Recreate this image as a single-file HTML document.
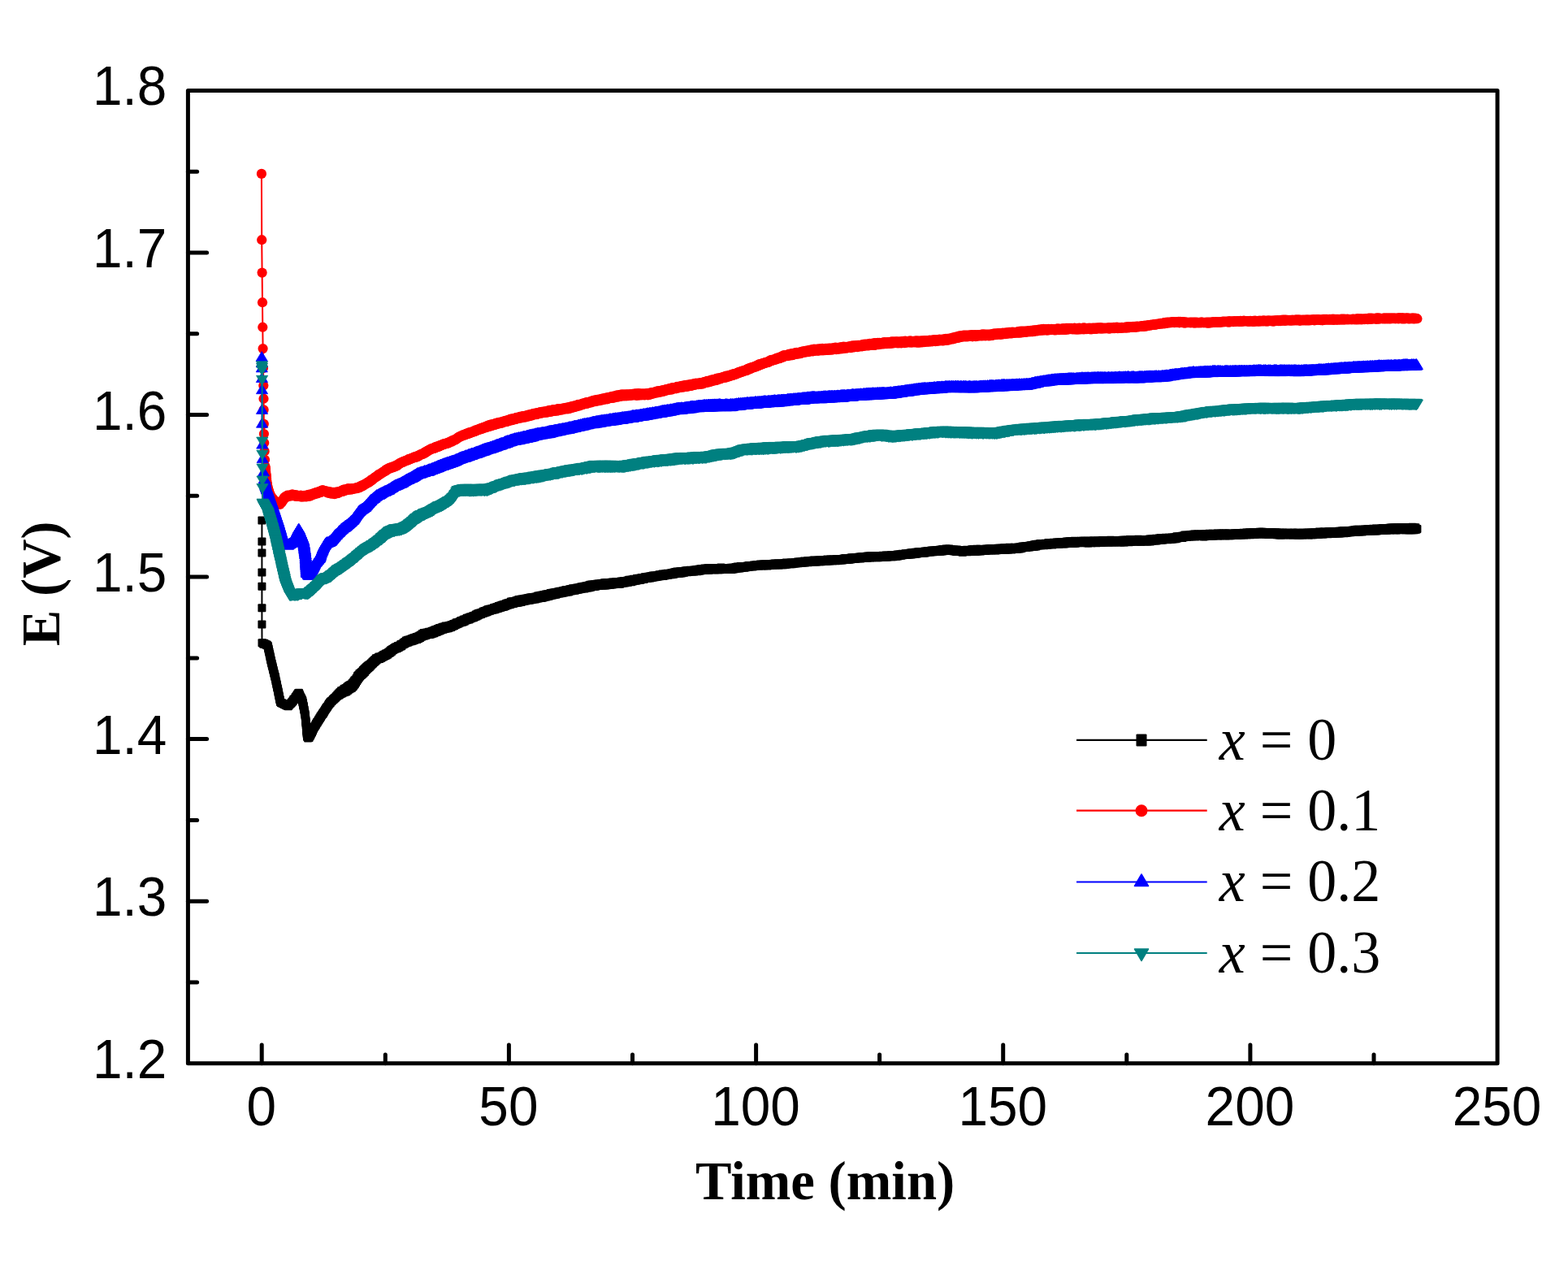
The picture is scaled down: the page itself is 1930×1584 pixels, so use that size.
<!DOCTYPE html>
<html lang="en">
<head>
<meta charset="utf-8">
<title>E (V) vs Time (min)</title>
<style>
html,body{margin:0;padding:0;background:#ffffff;}
body{width:1930px;height:1584px;overflow:hidden;}
svg{display:block;}
.tick{font-family:"Liberation Sans",Arial,Helvetica,sans-serif;font-size:66.7px;fill:#000;}
.title{font-family:"Liberation Serif","Times New Roman",Times,serif;font-weight:bold;font-size:66.7px;fill:#000;}
.leg{font-family:"Liberation Serif","Times New Roman",Times,serif;font-size:72px;fill:#000;}
.leg .it{font-style:italic;}
</style>
</head>
<body>
<svg width="1930" height="1584" viewBox="0 0 1930 1584">
<rect x="0" y="0" width="1930" height="1584" fill="#ffffff"/>
<defs>
<marker id="mS" markerUnits="userSpaceOnUse" markerWidth="12" markerHeight="12" refX="6" refY="6" orient="0" overflow="visible"><rect x="1" y="1" width="10" height="10" rx="1" fill="#000000"/></marker>
<marker id="mC" markerUnits="userSpaceOnUse" markerWidth="14" markerHeight="14" refX="7" refY="7" orient="0" overflow="visible"><circle cx="7" cy="7" r="6.1" fill="#ff0000"/></marker>
<marker id="mU" markerUnits="userSpaceOnUse" markerWidth="16" markerHeight="14" refX="8" refY="7" orient="0" overflow="visible"><path d="M8 1.1 L15.1 12.9 L0.9 12.9 Z" fill="#0000ff" stroke="#0000ff" stroke-width="0.8" stroke-linejoin="round"/></marker>
<marker id="mD" markerUnits="userSpaceOnUse" markerWidth="16" markerHeight="14" refX="8" refY="7" orient="0" overflow="visible"><path d="M8 12.9 L15.1 1.1 L0.9 1.1 Z" fill="#008080" stroke="#008080" stroke-width="0.8" stroke-linejoin="round"/></marker>
</defs>
<g fill="none" stroke-width="2" stroke-linejoin="round">
<polyline stroke="#000000" marker-start="url(#mS)" marker-mid="url(#mS)" marker-end="url(#mS)" points="322.4,640.4 322.4,666.5 322.4,680.5 322.4,704.6 322.4,721.8 322.4,748.2 322.4,768.4 322.5,791.2 323.4,791.4 324.3,792.7 325.2,791.8 326.1,793.1 326.9,792.8 327.8,794.1 328.7,793.5 329.6,794.9 329.8,795.3 330.0,796.8 330.2,797.0 330.4,798.5 330.6,799.0 330.8,800.8 331.0,801.1 331.2,802.3 331.4,802.4 331.7,804.8 331.9,804.7 332.1,806.1 332.3,806.5 332.5,808.5 332.7,808.4 332.9,810.6 333.1,810.2 333.3,812.2 333.5,812.3 333.7,814.3 334.0,814.1 334.2,816.3 334.5,816.3 334.7,818.2 335.0,818.6 335.2,819.9 335.5,820.1 335.7,822.1 336.0,822.6 336.2,824.3 336.5,824.6 336.7,825.9 337.0,826.7 337.2,828.2 337.5,828.7 337.7,830.2 338.0,830.6 338.2,832.4 338.5,832.2 338.7,833.8 338.9,834.3 339.1,835.8 339.3,835.9 339.5,838.2 339.8,838.4 340.0,840.0 340.2,839.9 340.4,841.9 340.6,842.2 340.8,843.8 341.0,844.0 341.2,845.9 341.4,846.1 341.7,847.7 341.9,848.1 342.1,850.0 342.3,850.1 342.5,852.2 342.7,851.8 342.9,853.7 343.1,854.4 343.3,855.8 343.5,856.0 343.7,858.1 343.9,857.7 344.1,859.9 344.3,860.2 344.5,861.6 344.7,861.7 344.9,863.7 345.1,864.0 346.0,865.2 346.9,865.1 347.8,866.0 348.7,865.9 349.6,866.9 350.6,866.7 351.5,867.9 352.4,868.1 353.3,868.8 354.2,868.8 354.9,869.2 355.7,867.6 356.4,867.6 357.2,866.2 357.9,866.0 358.7,864.4 359.4,864.5 360.0,863.2 360.6,862.9 361.2,860.9 361.8,861.2 362.4,859.9 363.0,859.8 363.6,858.1 364.2,857.8 364.8,856.5 365.4,856.3 366.0,854.5 366.6,855.0 367.2,853.1 367.8,852.8 368.2,853.4 368.6,855.2 369.0,855.3 369.4,857.1 369.8,857.2 370.3,858.7 370.7,858.9 371.1,860.7 371.5,860.5 371.9,862.5 372.3,862.2 372.5,864.3 372.7,864.7 372.9,866.0 373.1,866.4 373.3,868.2 373.5,868.4 373.7,870.1 373.9,870.0 374.0,872.2 374.2,872.1 374.4,873.8 374.6,874.0 374.8,876.2 375.0,876.4 375.2,877.7 375.4,878.5 375.6,880.0 375.7,880.5 375.8,882.2 375.9,882.1 376.0,884.3 376.1,884.5 376.2,886.1 376.3,886.2 376.4,888.1 376.5,888.5 376.6,889.7 376.7,890.4 376.8,892.5 376.9,892.7 376.9,894.6 377.0,894.8 377.1,896.7 377.2,896.9 377.3,899.0 377.4,898.8 377.5,900.4 377.6,901.2 377.7,902.9 377.8,903.2 377.9,904.9 378.0,905.3 378.1,906.6 378.2,906.9 379.1,908.6 380.1,908.0 380.5,908.0 381.0,906.2 381.4,906.3 381.8,905.2 382.3,904.7 382.7,902.9 383.1,902.8 383.6,901.7 384.0,901.2 384.4,899.6 384.9,899.6 385.3,897.8 385.7,897.2 386.2,895.8 386.6,895.6 387.1,894.2 387.6,893.9 388.2,892.2 388.7,892.5 389.2,890.6 389.7,890.5 390.2,888.7 390.8,889.0 391.3,887.4 391.8,886.9 392.3,885.6 392.8,885.7 393.4,883.8 393.9,884.0 394.4,882.0 394.9,882.4 395.4,880.8 395.9,880.6 396.4,879.2 396.9,879.3 397.4,877.6 397.8,878.2 398.3,876.6 398.8,876.5 399.3,874.9 399.8,874.6 400.3,873.3 400.8,873.1 401.4,871.3 402.0,871.5 402.5,870.0 403.1,869.7 403.7,868.4 404.3,867.8 404.8,866.2 405.4,866.5 406.0,864.6 406.6,865.3 407.3,863.2 407.9,863.4 408.6,862.4 409.2,862.2 409.9,860.8 410.6,861.0 411.2,859.6 411.9,859.7 412.6,858.6 413.3,858.6 413.9,856.9 414.6,857.3 415.3,855.3 416.0,856.1 416.8,853.6 417.6,855.6 418.4,852.0 419.2,854.2 420.0,850.2 420.9,853.5 421.8,849.5 422.7,852.5 423.6,847.8 424.6,851.7 425.5,846.9 426.4,851.3 427.3,845.6 428.1,849.8 428.9,844.2 429.7,848.6 430.5,843.3 431.3,847.5 432.1,842.5 432.9,846.7 433.7,840.8 434.5,845.3 435.1,839.3 435.7,843.4 436.3,837.5 436.9,842.0 437.5,836.4 438.1,840.0 438.8,834.4 439.4,838.0 440.0,832.1 440.6,836.1 441.2,830.8 441.8,834.2 442.5,829.0 443.2,832.5 444.0,827.9 444.7,830.9 445.4,826.7 446.1,829.7 446.8,824.9 447.6,828.4 448.3,823.5 449.0,826.9 449.7,822.3 450.5,825.0 451.2,820.8 451.9,823.6 452.6,819.5 453.4,822.3 454.1,818.4 454.8,821.1 455.6,817.5 456.3,819.6 457.0,816.2 457.8,817.7 458.5,814.4 459.2,816.6 460.0,813.3 460.7,815.0 461.4,812.0 462.1,813.8 462.9,810.3 463.6,812.4 464.5,809.8 465.4,811.3 466.3,808.6 467.2,811.1 468.1,808.4 469.0,810.1 469.9,807.5 470.8,809.0 471.6,806.3 472.4,808.1 473.2,805.5 474.0,807.3 474.9,804.4 475.7,806.6 476.5,803.9 477.3,805.4 478.1,802.7 478.9,803.9 479.7,801.4 480.5,803.2 481.3,800.0 482.2,801.7 483.0,799.1 483.8,800.3 484.6,798.0 485.4,799.3 486.3,796.8 487.2,798.4 488.1,796.1 489.0,798.0 489.9,795.1 490.8,797.1 491.7,794.4 492.6,795.8 493.4,793.0 494.2,795.2 495.0,792.4 495.8,793.6 496.7,791.0 497.5,792.7 498.3,790.0 499.1,791.7 499.9,788.6 500.8,790.9 501.7,787.8 502.6,790.5 503.5,787.4 504.4,789.6 505.3,786.7 506.2,789.3 507.1,785.9 508.0,788.7 508.9,785.2 509.8,788.1 510.8,784.7 511.7,787.2 512.6,783.9 513.5,787.0 514.4,783.5 515.3,785.9 516.2,782.5 517.1,784.9 518.0,781.4 519.0,783.7 519.9,780.0 520.8,782.8 521.7,779.1 522.7,782.4 523.8,778.7 524.8,781.8 525.8,778.6 526.8,781.1 527.9,777.8 528.9,780.9 529.8,777.8 530.7,780.5 531.6,776.8 532.5,779.8 533.5,776.3 534.4,779.2 535.3,775.2 536.2,778.3 537.1,774.7 538.0,777.7 538.9,774.0 539.9,776.7 540.8,772.9 541.7,776.3 542.6,772.7 543.5,775.3 544.5,771.7 545.6,774.8 546.6,771.4 547.6,773.9 548.6,770.6 549.7,773.5 550.7,770.7 551.6,773.2 552.6,769.9 553.5,772.6 554.4,769.4 555.4,771.9 556.3,768.9 557.2,770.7 558.1,768.0 559.1,770.3 560.0,767.5 560.9,769.0 561.8,766.2 562.7,768.2 563.6,765.9 564.5,767.5 565.4,765.2 566.3,766.5 567.2,764.1 568.1,765.9 569.1,763.4 570.0,765.6 570.9,762.6 571.8,764.8 572.8,762.2 573.7,763.4 574.6,760.8 575.5,762.8 576.4,760.5 577.4,762.4 578.3,759.6 579.2,761.4 580.1,759.2 581.1,760.6 582.0,758.2 582.9,760.2 583.8,757.7 584.7,759.2 585.7,756.4 586.6,758.4 587.5,755.5 588.4,757.6 589.4,754.8 590.3,756.5 591.2,754.5 592.1,756.0 593.0,753.8 594.0,755.0 594.9,752.6 595.8,754.6 596.7,752.0 597.7,753.8 598.6,751.2 599.5,753.2 600.4,750.3 601.4,752.3 602.3,749.7 603.3,751.8 604.2,749.4 605.2,751.1 606.1,748.9 607.1,750.5 608.0,747.9 609.0,750.2 609.9,747.4 610.9,749.5 611.8,747.0 612.8,749.1 613.7,745.9 614.7,748.2 615.6,745.4 616.6,747.7 617.5,744.7 618.5,746.9 619.4,744.2 620.4,746.7 621.3,743.8 622.3,745.9 623.2,742.8 624.2,744.9 625.1,742.2 626.1,744.5 627.0,741.7 628.0,743.9 628.9,740.6 629.9,743.2 630.8,740.3 631.8,742.9 632.7,739.9 633.7,742.3 634.6,739.5 635.6,742.0 636.6,738.7 637.6,741.7 638.5,737.9 639.5,741.3 640.5,737.7 641.5,740.9 642.4,737.6 643.4,740.3 644.4,737.2 645.4,739.7 646.3,736.8 647.3,739.6 648.3,736.4 649.2,739.1 650.2,736.0 651.2,738.8 652.2,735.4 653.1,738.4 654.1,735.3 655.1,737.9 656.1,735.1 657.0,737.6 658.0,734.8 659.0,737.4 660.0,734.5 660.9,736.8 661.9,733.6 662.9,736.4 663.9,733.2 664.8,736.1 665.8,732.8 666.8,735.9 667.8,732.6 668.7,735.4 669.7,731.9 670.7,734.7 671.7,731.4 672.6,734.6 673.6,731.2 674.6,734.0 675.6,731.0 676.5,733.6 677.5,730.1 678.5,732.8 679.5,729.8 680.4,732.5 681.4,729.5 682.4,732.1 683.4,728.9 684.4,731.8 685.3,728.7 686.3,730.7 687.3,728.2 688.3,730.5 689.2,727.7 690.2,730.3 691.2,727.7 692.2,729.8 693.1,727.0 694.1,729.5 695.1,726.5 696.1,729.1 697.0,726.0 698.0,728.5 699.0,726.0 700.0,728.4 701.0,725.2 701.9,727.5 702.9,725.1 703.9,727.2 704.9,724.2 705.8,726.7 706.8,724.2 707.8,726.8 708.8,723.7 709.7,726.1 710.7,723.6 711.7,725.7 712.7,723.2 713.6,725.3 714.6,722.6 715.6,724.7 716.6,721.9 717.6,724.3 718.5,721.7 719.5,724.4 720.5,721.5 721.5,723.5 722.4,720.9 723.4,723.5 724.4,720.4 725.4,723.2 726.3,719.8 727.3,722.7 728.3,719.5 729.3,721.8 730.2,719.5 731.2,722.0 732.2,719.0 733.2,721.7 734.2,718.8 735.2,721.1 736.2,718.4 737.2,721.0 738.2,718.4 739.2,720.6 740.2,718.0 741.2,720.6 742.2,717.7 743.2,720.4 744.2,717.3 745.2,720.4 746.2,717.3 747.2,720.3 748.2,717.1 749.3,719.7 750.3,717.1 751.3,719.7 752.3,716.7 753.3,719.4 754.3,716.6 755.3,719.2 756.3,716.8 757.3,718.8 758.3,716.1 759.3,718.7 760.3,716.5 761.3,718.9 762.3,716.0 763.3,718.7 764.3,715.6 765.3,718.0 766.3,715.6 767.3,717.6 768.2,714.9 769.2,717.5 770.2,715.1 771.2,717.0 772.1,714.5 773.1,716.8 774.1,713.8 775.1,716.1 776.0,713.7 777.0,716.2 778.0,713.5 779.0,715.4 779.9,712.8 780.9,714.8 781.9,712.9 782.9,714.7 783.9,712.1 784.8,714.3 785.8,711.7 786.8,714.0 787.8,711.8 788.7,713.7 789.7,711.1 790.7,712.8 791.7,710.9 792.6,713.0 793.6,710.2 794.6,712.1 795.6,710.1 796.5,712.1 797.5,709.8 798.5,711.6 799.5,709.4 800.5,711.6 801.5,708.9 802.5,711.1 803.5,708.5 804.4,710.4 805.4,708.4 806.4,710.3 807.4,708.4 808.4,710.1 809.4,708.1 810.4,709.6 811.4,707.3 812.4,709.2 813.4,707.5 814.4,708.9 815.4,706.6 816.3,709.1 817.3,706.8 818.3,708.5 819.3,706.2 820.3,707.9 821.3,705.7 822.3,707.8 823.3,705.9 824.3,707.3 825.3,705.5 826.3,707.2 827.3,705.1 828.2,706.9 829.2,704.4 830.2,706.5 831.2,704.1 832.2,705.8 833.2,703.6 834.2,706.0 835.2,703.8 836.2,705.7 837.2,703.3 838.2,705.5 839.2,703.3 840.2,705.2 841.2,703.1 842.2,704.7 843.2,702.4 844.2,704.1 845.2,702.3 846.2,704.2 847.2,702.3 848.2,703.8 849.2,701.8 850.3,703.4 851.3,701.9 852.3,703.4 853.3,701.7 854.3,703.4 855.3,701.6 856.3,702.9 857.3,701.0 858.3,703.2 859.3,700.8 860.3,702.7 861.3,700.4 862.3,702.5 863.3,700.1 864.3,701.8 865.3,699.9 866.3,701.7 867.3,699.6 868.3,701.7 869.3,699.8 870.3,701.5 871.3,699.2 872.3,701.7 873.3,699.3 874.3,701.1 875.4,699.6 876.4,701.2 877.4,699.3 878.4,701.3 879.4,699.2 880.4,701.2 881.4,699.3 882.4,701.1 883.4,699.3 884.4,701.2 885.4,699.0 886.4,701.2 887.4,698.6 888.4,700.8 889.4,699.1 890.4,700.9 891.5,699.1 892.5,701.0 893.5,699.3 894.5,700.9 895.5,698.9 896.5,701.0 897.5,699.3 898.5,700.9 899.5,698.7 900.5,701.0 901.5,698.8 902.5,700.4 903.5,698.7 904.5,700.3 905.5,698.1 906.5,699.7 907.5,697.5 908.6,699.5 909.6,697.8 910.6,699.6 911.6,697.1 912.6,699.1 913.6,697.2 914.6,698.6 915.6,697.1 916.6,698.8 917.6,696.9 918.6,698.3 919.6,696.4 920.6,698.0 921.6,695.9 922.6,697.5 923.6,695.9 924.7,697.2 925.7,695.9 926.7,697.4 927.7,695.5 928.7,697.0 929.7,695.5 930.7,696.6 931.7,695.1 932.7,696.3 933.7,695.1 934.7,696.6 935.7,694.5 936.7,696.2 937.7,694.8 938.7,696.3 939.7,694.5 940.7,696.3 941.7,694.6 942.7,696.0 943.7,694.4 944.7,696.5 945.7,694.6 946.7,695.7 947.7,694.2 948.7,695.7 949.8,693.9 950.8,695.5 951.8,693.8 952.8,695.3 953.8,693.6 954.8,695.4 955.8,693.8 956.8,695.2 957.8,693.5 958.8,695.5 959.8,693.8 960.8,695.1 961.8,693.5 962.8,695.2 963.8,693.4 964.8,695.2 965.8,692.9 966.8,694.9 967.8,692.6 968.8,694.4 969.8,692.9 970.8,694.1 971.8,692.7 972.8,694.3 973.8,692.4 974.9,694.3 975.9,692.6 976.9,693.7 977.9,692.2 978.9,693.5 979.9,692.1 980.9,693.3 981.9,691.5 982.9,693.3 983.9,691.6 984.9,693.1 985.9,691.4 986.9,692.8 987.9,690.9 988.9,692.6 989.9,690.6 991.0,692.6 992.0,691.0 993.0,691.9 994.0,690.3 995.0,692.2 996.0,690.4 997.0,691.4 998.0,689.9 999.0,691.2 1000.0,689.7 1001.0,691.4 1002.0,689.6 1003.0,691.4 1004.0,689.9 1005.0,691.4 1006.0,689.8 1007.0,690.8 1008.1,689.5 1009.1,691.2 1010.1,689.3 1011.1,691.3 1012.1,689.3 1013.1,691.1 1014.1,689.4 1015.1,690.9 1016.1,689.1 1017.1,690.7 1018.1,688.5 1019.1,690.4 1020.1,689.0 1021.1,690.5 1022.1,688.4 1023.1,689.8 1024.2,688.8 1025.2,690.3 1026.2,688.5 1027.2,690.1 1028.2,688.4 1029.2,690.2 1030.2,688.1 1031.2,690.0 1032.2,688.1 1033.2,689.5 1034.2,688.2 1035.2,689.4 1036.2,687.9 1037.2,689.6 1038.2,687.4 1039.2,689.0 1040.2,687.1 1041.2,688.9 1042.2,687.3 1043.2,689.0 1044.2,687.1 1045.2,688.8 1046.2,686.8 1047.2,688.6 1048.2,686.3 1049.3,688.0 1050.3,686.5 1051.3,687.9 1052.3,686.3 1053.3,687.7 1054.3,686.0 1055.3,687.3 1056.3,685.8 1057.3,687.3 1058.3,685.6 1059.3,687.4 1060.3,685.3 1061.3,686.8 1062.3,684.9 1063.3,686.6 1064.3,685.0 1065.3,687.0 1066.3,684.8 1067.3,686.8 1068.3,684.4 1069.3,686.3 1070.3,684.4 1071.3,686.6 1072.3,684.1 1073.3,686.2 1074.4,684.3 1075.4,685.9 1076.4,684.3 1077.4,686.1 1078.4,683.9 1079.4,686.2 1080.4,683.9 1081.4,686.3 1082.4,683.9 1083.4,686.0 1084.4,683.9 1085.4,685.8 1086.4,683.7 1087.4,685.5 1088.4,684.0 1089.4,685.7 1090.5,683.4 1091.5,685.7 1092.5,683.8 1093.5,685.3 1094.5,683.7 1095.5,685.0 1096.5,683.3 1097.5,685.2 1098.5,683.1 1099.5,685.2 1100.5,682.9 1101.5,684.6 1102.5,683.1 1103.5,684.8 1104.4,682.4 1105.4,684.5 1106.4,682.4 1107.4,683.9 1108.4,682.3 1109.4,683.8 1110.4,681.8 1111.4,683.3 1112.4,682.0 1113.4,683.1 1114.4,681.3 1115.4,682.9 1116.3,681.6 1117.3,682.8 1118.3,681.1 1119.3,682.4 1120.3,680.4 1121.3,682.4 1122.3,680.3 1123.3,682.2 1124.3,680.5 1125.3,681.6 1126.3,679.7 1127.3,681.7 1128.2,679.8 1129.2,681.4 1130.2,679.2 1131.2,681.0 1132.2,678.9 1133.2,680.4 1134.2,678.9 1135.2,680.4 1136.2,679.0 1137.2,680.7 1138.2,678.5 1139.2,680.5 1140.2,678.6 1141.2,679.6 1142.2,677.9 1143.2,679.5 1144.2,678.2 1145.2,679.5 1146.2,677.6 1147.2,679.2 1148.2,677.4 1149.2,679.2 1150.3,677.4 1151.3,679.1 1152.3,677.2 1153.3,679.0 1154.3,677.3 1155.3,678.6 1156.3,676.8 1157.3,678.8 1158.3,676.6 1159.3,678.5 1160.3,676.1 1161.3,678.3 1162.3,676.0 1163.3,677.4 1164.3,675.6 1165.3,677.8 1166.3,675.8 1167.3,677.4 1168.3,675.5 1169.2,677.5 1170.2,675.9 1171.2,678.0 1172.2,676.5 1173.1,678.3 1174.1,676.5 1175.1,678.5 1176.1,676.7 1177.0,679.1 1178.0,676.6 1179.0,679.0 1180.0,677.2 1180.9,679.0 1181.9,677.3 1182.9,679.3 1183.9,677.2 1184.9,679.7 1185.9,677.5 1186.9,679.1 1187.9,677.1 1188.9,679.0 1189.9,676.8 1190.9,679.3 1192.0,677.1 1193.0,678.9 1194.0,677.1 1195.0,678.8 1196.0,676.2 1197.0,678.5 1198.0,676.1 1199.0,678.4 1200.0,676.5 1201.0,678.7 1202.0,675.8 1203.0,678.4 1204.0,675.9 1205.0,678.2 1206.0,675.8 1207.0,678.4 1208.1,676.0 1209.1,678.0 1210.1,675.9 1211.1,677.8 1212.1,675.9 1213.1,677.9 1214.1,675.6 1215.1,677.6 1216.1,675.4 1217.1,677.4 1218.1,675.3 1219.1,677.2 1220.1,675.0 1221.1,677.3 1222.1,675.1 1223.1,676.9 1224.1,674.9 1225.2,677.4 1226.2,675.1 1227.2,677.3 1228.2,674.8 1229.2,677.0 1230.2,674.8 1231.2,677.1 1232.2,674.7 1233.2,676.5 1234.2,674.8 1235.2,676.6 1236.2,674.3 1237.2,676.7 1238.2,674.4 1239.2,676.5 1240.2,674.3 1241.3,676.4 1242.3,673.7 1243.3,676.1 1244.3,674.3 1245.3,676.4 1246.3,674.1 1247.3,676.1 1248.3,673.8 1249.3,675.9 1250.3,674.1 1251.3,676.1 1252.3,673.8 1253.3,675.5 1254.3,673.5 1255.3,675.4 1256.3,673.2 1257.3,675.1 1258.3,672.6 1259.3,674.3 1260.3,672.6 1261.3,674.1 1262.3,672.2 1263.3,674.0 1264.3,671.9 1265.3,673.5 1266.4,671.7 1267.4,673.5 1268.4,671.2 1269.4,672.9 1270.4,670.9 1271.4,672.9 1272.4,670.5 1273.4,672.7 1274.4,670.0 1275.4,672.4 1276.4,669.7 1277.4,671.6 1278.4,669.7 1279.4,671.2 1280.4,669.1 1281.4,671.3 1282.4,669.2 1283.4,670.7 1284.4,669.1 1285.4,671.2 1286.4,668.7 1287.4,670.7 1288.4,668.9 1289.4,670.8 1290.4,668.1 1291.5,670.3 1292.5,668.6 1293.5,670.1 1294.5,668.2 1295.5,670.5 1296.5,667.8 1297.5,670.1 1298.5,668.2 1299.5,669.8 1300.5,667.4 1301.5,669.8 1302.5,667.4 1303.5,669.7 1304.5,667.4 1305.5,669.1 1306.5,667.1 1307.6,669.2 1308.6,666.9 1309.6,669.4 1310.6,666.9 1311.6,669.3 1312.6,666.6 1313.6,668.9 1314.6,666.4 1315.6,668.6 1316.6,666.2 1317.6,668.3 1318.6,666.0 1319.6,669.0 1320.6,666.4 1321.6,668.7 1322.6,665.8 1323.6,668.7 1324.7,666.0 1325.7,668.2 1326.7,666.0 1327.7,668.2 1328.7,666.1 1329.7,668.0 1330.7,665.8 1331.7,668.1 1332.7,665.8 1333.7,667.9 1334.7,665.7 1335.7,668.3 1336.7,666.1 1337.7,668.3 1338.7,665.8 1339.7,668.5 1340.8,665.8 1341.8,667.8 1342.8,665.7 1343.8,668.2 1344.8,665.7 1345.8,668.0 1346.8,665.4 1347.8,667.7 1348.8,666.1 1349.8,668.2 1350.8,665.4 1351.8,667.8 1352.8,665.7 1353.8,667.7 1354.8,665.6 1355.8,667.8 1356.8,665.1 1357.8,667.5 1358.8,665.3 1359.8,667.6 1360.8,665.4 1361.8,667.5 1362.8,665.1 1363.8,667.6 1364.8,664.9 1365.9,667.3 1366.9,664.7 1367.9,667.2 1368.9,665.1 1369.9,667.5 1370.9,664.9 1371.9,667.5 1372.9,665.1 1373.9,667.0 1374.9,665.0 1375.9,667.2 1376.9,664.9 1377.9,667.3 1378.9,664.9 1379.9,667.5 1380.9,664.7 1381.9,667.2 1382.9,664.7 1383.9,667.4 1384.9,664.7 1385.9,667.1 1386.9,664.8 1387.9,667.1 1388.9,664.7 1389.9,667.3 1390.9,664.1 1391.9,666.7 1392.9,664.1 1393.9,666.6 1394.9,664.4 1396.0,666.6 1397.0,663.9 1398.0,666.5 1399.0,664.1 1400.0,666.5 1401.0,663.8 1402.0,666.2 1403.0,664.2 1404.0,666.7 1405.0,664.2 1406.0,666.4 1407.0,663.9 1408.0,666.2 1409.0,663.9 1410.0,666.3 1411.0,664.4 1412.0,666.5 1413.0,664.1 1413.9,666.3 1414.9,663.6 1415.9,666.5 1416.9,663.4 1417.9,665.7 1418.9,663.4 1419.8,665.3 1420.8,663.3 1421.8,665.4 1422.8,662.8 1423.8,665.4 1424.8,663.0 1425.8,665.1 1426.7,662.6 1427.7,664.7 1428.7,662.1 1429.7,664.7 1430.7,662.5 1431.7,664.4 1432.6,662.5 1433.6,664.0 1434.6,661.8 1435.6,664.0 1436.6,662.3 1437.6,664.3 1438.5,661.7 1439.5,663.9 1440.5,662.0 1441.5,663.8 1442.5,661.4 1443.5,663.6 1444.5,661.4 1445.5,663.2 1446.5,661.3 1447.5,663.2 1448.4,660.3 1449.4,662.4 1450.4,660.5 1451.4,661.9 1452.4,660.2 1453.4,661.9 1454.4,659.7 1455.4,661.9 1456.4,659.5 1457.4,661.2 1458.4,658.6 1459.4,660.8 1460.3,658.8 1461.3,660.9 1462.3,658.7 1463.3,660.6 1464.3,658.4 1465.3,660.3 1466.3,658.1 1467.3,660.2 1468.3,657.7 1469.3,660.1 1470.3,657.6 1471.3,660.5 1472.3,657.8 1473.3,660.0 1474.3,657.6 1475.3,660.0 1476.3,657.9 1477.3,660.1 1478.3,657.6 1479.2,659.9 1480.2,657.8 1481.2,660.4 1482.2,657.4 1483.2,660.2 1484.2,657.1 1485.2,659.5 1486.2,657.2 1487.2,660.0 1488.2,656.8 1489.2,659.8 1490.2,657.0 1491.2,659.7 1492.2,656.7 1493.2,659.5 1494.2,656.9 1495.2,659.3 1496.2,657.0 1497.2,659.0 1498.2,656.6 1499.2,659.5 1500.2,656.8 1501.2,659.2 1502.2,656.7 1503.2,658.9 1504.1,656.7 1505.1,659.3 1506.1,656.6 1507.1,659.3 1508.1,656.6 1509.1,659.3 1510.1,656.9 1511.1,658.9 1512.1,656.6 1513.1,659.2 1514.1,656.8 1515.1,659.3 1516.1,656.8 1517.1,658.7 1518.1,656.9 1519.1,659.0 1520.1,656.3 1521.1,659.1 1522.1,656.2 1523.1,658.9 1524.1,656.3 1525.2,658.5 1526.2,656.1 1527.2,658.4 1528.2,656.5 1529.2,658.3 1530.2,655.8 1531.2,658.6 1532.2,656.3 1533.2,658.1 1534.2,655.6 1535.2,658.3 1536.2,655.7 1537.2,658.0 1538.2,655.3 1539.2,658.3 1540.2,655.7 1541.3,657.8 1542.3,655.1 1543.3,658.0 1544.3,655.4 1545.3,657.7 1546.3,655.1 1547.3,657.5 1548.3,655.0 1549.3,657.2 1550.3,654.8 1551.3,657.3 1552.3,654.8 1553.3,657.3 1554.3,654.8 1555.3,657.6 1556.3,655.2 1557.3,657.5 1558.2,654.9 1559.2,657.4 1560.2,655.2 1561.2,658.1 1562.2,655.2 1563.2,658.1 1564.2,655.1 1565.2,657.6 1566.2,655.3 1567.2,658.1 1568.2,655.6 1569.2,658.1 1570.2,655.3 1571.2,658.2 1572.2,655.5 1573.2,658.2 1574.2,655.9 1575.1,658.4 1576.1,655.7 1577.1,658.4 1578.1,655.8 1579.1,657.9 1580.1,655.8 1581.1,658.2 1582.1,655.7 1583.1,658.3 1584.1,656.0 1585.1,658.2 1586.1,655.8 1587.1,658.2 1588.1,655.9 1589.1,658.1 1590.1,655.7 1591.0,658.4 1592.0,655.8 1593.0,658.2 1594.0,656.0 1595.0,658.2 1596.0,655.8 1597.0,658.4 1598.0,655.8 1599.0,658.5 1600.0,655.9 1601.0,658.4 1602.0,656.0 1603.0,658.5 1604.0,655.7 1605.0,658.1 1606.0,655.8 1607.0,658.3 1608.0,655.7 1609.0,658.0 1610.0,655.7 1611.0,658.6 1611.9,655.8 1612.9,658.0 1613.9,655.5 1614.9,658.2 1615.9,655.4 1616.9,658.2 1617.9,655.2 1618.9,657.9 1619.9,655.5 1620.9,657.9 1621.9,655.2 1622.9,657.8 1623.9,654.6 1624.9,657.2 1625.9,655.1 1626.9,657.5 1627.9,654.8 1628.9,657.6 1629.9,654.6 1630.9,657.1 1631.9,654.9 1632.9,656.9 1633.9,654.4 1634.9,657.3 1635.9,654.2 1636.8,656.6 1637.8,654.4 1638.8,657.0 1639.8,654.3 1640.8,657.0 1641.8,654.6 1642.8,656.6 1643.8,654.0 1644.8,656.5 1645.8,654.1 1646.8,656.5 1647.8,653.8 1648.8,656.5 1649.8,653.7 1650.8,656.2 1651.8,653.6 1652.8,655.9 1653.8,653.3 1654.8,656.3 1655.8,653.8 1656.8,655.9 1657.8,653.5 1658.8,655.6 1659.8,652.9 1660.8,655.3 1661.8,652.9 1662.8,655.3 1663.8,652.7 1664.8,655.1 1665.9,652.5 1666.9,654.7 1667.9,652.2 1668.9,654.9 1669.9,651.8 1670.9,654.2 1671.9,651.8 1672.9,654.5 1673.9,652.0 1674.9,654.2 1675.9,652.0 1676.9,654.4 1677.9,651.7 1678.9,653.8 1679.9,651.6 1680.9,653.9 1681.9,651.6 1682.9,653.5 1683.9,651.3 1684.9,653.8 1685.9,650.9 1686.9,653.4 1687.9,651.1 1688.9,653.2 1689.9,650.7 1690.9,653.2 1691.9,650.9 1692.9,653.4 1693.9,650.6 1694.9,653.4 1695.9,650.9 1696.9,653.1 1697.9,650.7 1698.9,652.9 1699.9,650.6 1701.0,653.1 1702.0,650.0 1703.0,653.0 1704.0,650.1 1705.0,652.4 1706.0,650.2 1707.0,652.7 1708.0,649.9 1709.0,652.3 1710.0,649.7 1711.0,652.5 1712.0,649.6 1713.0,651.9 1714.0,649.5 1715.0,652.1 1716.0,649.6 1717.0,652.2 1718.0,649.5 1719.0,652.4 1720.0,649.2 1721.0,651.9 1722.0,649.6 1723.0,652.2 1724.1,649.1 1725.1,651.8 1726.1,649.1 1727.1,651.9 1728.1,649.6 1729.2,652.3 1730.2,649.5 1731.2,652.3 1732.2,648.9 1733.2,652.2 1734.2,648.9 1735.2,652.2 1736.3,648.9 1737.3,652.2 1738.3,648.7 1739.3,652.2 1740.3,649.2 1741.4,652.2 1742.4,649.2 1743.4,651.7 1744.4,650.9"/>
<polyline stroke="#ff0000" marker-start="url(#mC)" marker-mid="url(#mC)" marker-end="url(#mC)" points="321.9,213.9 322.2,295.2 322.6,335.6 323.0,372.2 323.3,402.7 323.6,429.1 324.0,453.1 324.3,474.5 324.5,490.7 324.6,504.3 324.8,521.8 324.9,534.1 325.2,545.1 325.6,555.4 326.0,565.8 326.4,574.5 326.5,574.5 326.6,577.3 326.7,576.8 326.8,578.8 326.9,578.5 327.0,581.3 327.1,580.4 327.2,583.1 327.3,583.1 327.4,585.1 327.6,585.0 327.7,587.7 327.8,587.2 327.9,590.2 328.0,589.2 328.1,592.1 328.2,591.5 328.3,594.2 328.5,593.9 328.6,596.1 328.7,595.7 328.8,598.3 329.1,597.4 329.4,600.3 329.6,599.5 329.9,602.2 330.2,602.1 330.4,604.1 330.7,603.5 331.0,605.9 331.4,605.8 331.8,607.8 332.1,607.7 332.5,609.6 332.9,609.5 333.2,611.8 333.6,611.1 334.0,613.0 334.7,612.3 335.3,614.5 336.0,613.8 336.7,615.7 337.3,615.3 338.0,617.2 338.8,616.5 339.6,618.4 340.4,618.0 341.2,619.8 342.0,619.0 342.8,620.3 343.7,619.4 344.5,620.9 345.1,618.5 345.8,619.5 346.4,617.3 347.0,618.1 347.6,615.8 348.2,616.3 348.8,614.0 349.4,614.4 350.0,612.0 350.9,612.9 351.8,610.8 352.7,611.6 353.6,609.7 354.6,611.1 355.7,609.5 356.7,610.4 357.7,609.3 358.7,610.5 359.8,608.4 360.8,609.8 361.8,609.1 362.9,610.6 363.9,609.1 365.0,611.0 366.0,609.5 367.1,611.0 368.1,610.1 369.1,611.2 370.2,609.7 371.2,611.6 372.3,610.3 373.3,611.3 374.4,609.9 375.4,611.4 376.4,609.8 377.5,611.3 378.5,609.1 379.5,610.9 380.5,608.7 381.6,610.6 382.6,608.9 383.5,609.8 384.4,607.6 385.3,608.6 386.2,607.3 387.2,608.4 388.1,606.3 389.0,607.5 389.9,605.8 390.8,607.5 391.7,605.3 392.6,606.5 393.5,604.9 394.4,606.1 395.3,603.9 396.2,605.4 397.1,603.1 398.0,604.8 398.9,603.8 399.8,605.2 400.8,604.3 401.7,605.7 402.6,604.7 403.5,606.6 404.4,605.0 405.4,607.0 406.5,605.4 407.5,607.7 408.6,605.8 409.6,607.5 410.7,605.9 411.7,608.1 412.7,605.9 413.8,607.3 414.8,605.4 415.8,607.2 416.8,605.3 417.9,606.3 418.9,604.5 420.0,605.0 420.9,603.5 421.8,604.9 422.7,602.6 423.6,604.3 424.6,602.3 425.5,603.7 426.4,602.2 427.3,602.7 428.3,601.2 429.4,602.8 430.4,601.6 431.4,602.6 432.4,601.1 433.5,602.3 434.5,601.4 435.4,601.8 436.3,600.8 437.2,601.4 438.1,600.4 439.1,601.2 440.0,599.8 440.9,600.6 441.8,599.3 442.7,600.2 443.6,598.3 444.5,598.8 445.4,597.4 446.3,598.4 447.2,596.9 448.1,597.1 449.0,595.7 449.8,596.0 450.6,595.3 451.4,595.1 452.2,593.9 453.1,594.2 453.9,592.9 454.7,593.4 455.5,591.7 456.3,591.9 457.1,590.3 457.9,591.0 458.7,589.5 459.5,589.6 460.4,588.2 461.2,588.1 462.0,587.1 462.8,587.3 463.6,586.1 464.5,586.1 465.4,584.3 466.3,584.8 467.2,583.3 468.1,583.6 469.0,582.7 469.9,582.5 470.8,581.0 471.6,581.5 472.4,580.2 473.2,580.2 474.0,579.2 474.9,579.7 475.7,577.6 476.5,578.3 477.3,577.0 478.1,577.2 479.0,575.9 479.9,576.7 480.8,575.3 481.8,575.8 482.7,574.6 483.6,575.5 484.5,574.0 485.4,574.7 486.3,573.4 487.2,573.9 488.1,572.3 489.0,573.1 489.9,571.5 490.8,571.8 491.7,570.1 492.6,570.5 493.5,569.3 494.4,569.5 495.3,568.3 496.2,568.9 497.2,567.7 498.1,567.8 499.0,567.1 499.9,566.9 500.8,566.3 501.7,566.7 502.6,565.2 503.5,565.8 504.4,564.5 505.3,565.1 506.2,564.1 507.1,564.1 508.0,563.3 508.9,563.5 509.8,562.3 510.8,563.2 511.7,562.2 512.6,562.6 513.5,561.1 514.4,562.0 515.3,560.5 516.2,560.7 517.1,559.3 518.0,559.8 519.0,558.7 519.9,559.1 520.8,558.2 521.7,558.5 522.6,556.7 523.5,557.5 524.4,555.7 525.3,556.1 526.2,554.8 527.1,555.0 528.0,553.5 528.9,553.8 529.8,552.7 530.7,553.2 531.6,551.9 532.5,552.3 533.5,551.5 534.4,551.9 535.3,550.3 536.2,551.3 537.1,549.6 538.0,550.4 538.9,549.4 539.9,550.0 540.8,548.4 541.7,549.0 542.6,547.6 543.5,548.1 544.4,547.2 545.3,547.5 546.2,546.2 547.1,546.8 548.0,545.8 548.9,546.3 549.8,545.4 550.7,546.0 551.6,544.5 552.6,545.1 553.5,543.8 554.4,543.8 555.4,542.9 556.3,543.7 557.2,541.9 558.1,542.3 559.1,541.4 560.0,541.6 560.9,540.4 561.8,540.8 562.7,539.3 563.6,539.2 564.5,537.9 565.4,537.9 566.3,536.9 567.2,537.5 568.2,536.1 569.1,536.4 570.1,535.0 571.0,535.7 572.0,534.5 572.9,535.3 573.9,533.5 574.8,534.5 575.8,533.2 576.7,534.0 577.7,532.2 578.6,533.2 579.6,532.1 580.5,532.5 581.5,531.0 582.4,531.7 583.4,530.4 584.3,531.2 585.3,529.3 586.2,530.5 587.2,529.1 588.1,529.5 589.1,528.0 590.0,528.9 591.0,527.3 591.9,528.1 592.9,526.6 593.8,527.8 594.8,526.0 595.7,526.6 596.7,525.4 597.6,526.4 598.6,524.6 599.5,525.8 600.5,523.5 601.5,525.1 602.4,523.2 603.4,524.7 604.4,522.3 605.4,524.0 606.3,522.4 607.3,523.5 608.3,521.6 609.3,523.0 610.2,520.9 611.2,522.1 612.2,520.3 613.2,521.6 614.1,519.8 615.1,521.2 616.1,519.6 617.1,520.9 618.1,519.0 619.0,520.2 620.0,518.3 621.0,519.3 622.0,517.8 622.9,519.1 623.9,517.4 624.9,518.8 625.9,516.8 626.8,518.0 627.8,515.9 628.8,517.5 629.8,515.4 630.7,517.2 631.7,515.4 632.7,516.3 633.7,514.6 634.6,516.2 635.6,513.8 636.6,515.4 637.6,513.8 638.5,514.8 639.5,512.9 640.5,514.7 641.5,512.6 642.4,514.2 643.4,512.2 644.4,513.4 645.4,511.8 646.3,513.6 647.3,511.5 648.3,512.6 649.2,510.8 650.2,512.7 651.2,510.4 652.2,511.9 653.1,510.2 654.1,511.6 655.1,509.4 656.1,510.8 657.0,508.8 658.0,510.3 659.0,508.5 660.0,510.2 660.9,508.2 661.9,509.8 662.9,507.8 663.9,508.9 664.8,507.0 665.8,508.6 666.8,506.9 667.8,508.3 668.7,506.5 669.7,507.9 670.7,506.3 671.7,507.6 672.6,506.0 673.6,507.6 674.6,505.4 675.6,506.9 676.5,504.9 677.5,506.9 678.5,505.0 679.5,506.5 680.4,504.2 681.4,505.8 682.4,504.0 683.4,505.8 684.4,504.1 685.3,505.6 686.3,503.2 687.3,505.3 688.3,503.4 689.2,504.5 690.2,503.0 691.2,504.7 692.2,502.5 693.1,503.8 694.1,502.3 695.1,503.7 696.1,501.9 697.0,503.1 698.0,501.6 699.0,503.4 700.0,501.1 701.0,502.9 701.9,500.7 702.9,502.2 703.9,500.2 704.9,501.7 705.8,499.7 706.8,501.2 707.8,499.4 708.8,500.6 709.7,498.7 710.7,499.8 711.7,497.9 712.7,499.7 713.6,498.0 714.6,499.0 715.6,497.0 716.6,498.2 717.6,496.3 718.5,497.6 719.5,496.1 720.5,496.9 721.5,495.2 722.4,496.9 723.4,495.0 724.4,496.1 725.4,494.5 726.3,495.5 727.3,493.8 728.3,495.3 729.3,493.2 730.2,494.4 731.2,492.7 732.2,494.1 733.2,492.3 734.1,493.8 735.1,491.8 736.1,493.3 737.1,491.5 738.0,493.2 739.0,491.4 740.0,492.5 741.0,490.5 741.9,492.3 742.9,490.3 743.9,491.7 744.9,489.8 745.8,491.3 746.8,489.3 747.8,491.3 748.8,489.1 749.7,490.4 750.7,488.6 751.7,489.9 752.6,488.2 753.6,490.0 754.6,487.5 755.6,489.7 756.5,487.5 757.5,489.0 758.5,486.7 759.5,488.6 760.4,486.3 761.4,488.3 762.4,486.1 763.4,488.0 764.3,485.5 765.3,487.5 766.3,485.4 767.3,487.5 768.3,485.7 769.3,487.3 770.3,485.4 771.3,487.3 772.3,485.3 773.3,487.1 774.4,485.3 775.4,486.9 776.4,485.1 777.4,486.7 778.4,484.8 779.4,486.5 780.4,484.5 781.4,486.3 782.4,484.4 783.4,486.8 784.4,484.4 785.4,486.7 786.4,484.2 787.4,486.3 788.4,484.6 789.4,486.5 790.5,484.4 791.5,486.2 792.5,484.7 793.5,486.5 794.5,484.4 795.5,486.0 796.5,484.2 797.5,486.3 798.5,484.1 799.5,485.9 800.4,483.3 801.4,485.1 802.4,483.2 803.3,484.6 804.3,482.9 805.2,484.1 806.2,482.3 807.2,483.5 808.1,481.6 809.1,483.5 810.1,481.2 811.0,482.7 812.0,481.3 813.0,482.6 813.9,480.7 814.9,481.6 815.9,480.2 816.8,481.8 817.8,479.9 818.7,481.2 819.7,479.0 820.7,480.3 821.6,479.0 822.6,480.1 823.6,478.0 824.5,479.4 825.5,477.9 826.5,479.6 827.4,477.2 828.4,478.6 829.3,477.0 830.3,478.2 831.3,476.8 832.2,478.3 833.2,475.9 834.2,477.7 835.1,475.8 836.1,477.1 837.1,475.4 838.1,476.6 839.0,474.9 840.0,476.7 841.0,474.6 842.0,476.3 842.9,474.2 843.9,475.9 844.9,473.8 845.9,475.8 846.8,473.6 847.8,475.5 848.8,473.3 849.8,474.9 850.7,472.8 851.7,474.8 852.7,472.7 853.6,474.0 854.6,472.1 855.6,473.8 856.6,471.6 857.5,473.2 858.5,471.8 859.5,473.1 860.5,471.4 861.4,473.0 862.4,471.0 863.4,472.7 864.4,470.8 865.3,472.4 866.3,470.2 867.3,471.4 868.3,469.8 869.2,470.9 870.2,468.8 871.2,470.6 872.2,468.8 873.1,470.2 874.1,468.2 875.1,469.7 876.1,467.4 877.0,468.9 878.0,467.3 879.0,468.5 880.0,466.6 880.9,468.2 881.9,465.9 882.9,467.6 883.9,465.4 884.9,466.5 885.8,465.3 886.8,466.5 887.8,464.6 888.8,465.4 889.7,464.0 890.7,465.0 891.7,463.4 892.7,464.8 893.6,462.7 894.6,464.3 895.6,462.5 896.6,463.7 897.5,461.9 898.5,463.0 899.5,461.3 900.4,462.4 901.3,460.7 902.3,461.9 903.2,460.0 904.1,461.1 905.0,459.8 906.0,460.7 906.9,459.2 907.8,459.7 908.7,458.0 909.6,459.1 910.6,457.6 911.5,458.5 912.4,456.8 913.3,457.9 914.3,456.4 915.2,457.0 916.1,455.9 917.0,456.5 917.9,455.3 918.9,456.1 919.8,454.1 920.7,455.1 921.6,453.4 922.6,454.5 923.5,452.6 924.4,453.8 925.3,452.0 926.2,452.7 927.2,451.5 928.1,452.1 929.0,450.8 929.9,451.6 930.9,450.1 931.8,451.0 932.7,449.2 933.6,450.1 934.5,448.2 935.5,449.4 936.4,448.2 937.3,448.7 938.2,447.0 939.2,447.9 940.1,446.5 941.0,447.1 941.9,446.0 942.8,446.6 943.8,445.5 944.7,446.1 945.6,444.8 946.5,445.8 947.5,443.7 948.4,444.5 949.3,442.8 950.3,444.0 951.2,442.8 952.2,443.3 953.2,442.0 954.2,443.0 955.1,441.1 956.1,442.0 957.1,440.4 958.0,441.5 959.0,440.0 960.0,441.1 960.9,439.2 961.9,439.9 962.9,438.1 963.9,439.6 964.8,437.2 965.8,438.4 966.8,437.3 967.8,438.2 968.7,436.9 969.7,438.1 970.7,435.9 971.7,437.5 972.6,435.5 973.6,437.4 974.6,435.1 975.6,437.1 976.5,434.9 977.5,436.4 978.5,434.4 979.5,436.0 980.4,433.8 981.4,435.7 982.4,433.8 983.4,435.4 984.4,433.6 985.3,435.2 986.3,432.8 987.3,434.5 988.3,432.3 989.2,433.7 990.2,432.0 991.2,433.6 992.2,431.7 993.1,433.2 994.1,431.6 995.1,433.1 996.1,430.9 997.0,432.3 998.0,430.7 999.0,432.5 1000.0,430.0 1001.0,432.3 1002.0,429.7 1003.0,432.0 1004.0,429.9 1005.0,431.4 1006.0,429.6 1007.0,431.8 1008.1,429.4 1009.1,431.3 1010.1,429.3 1011.1,431.3 1012.1,428.9 1013.1,431.3 1014.1,429.3 1015.1,431.1 1016.1,428.9 1017.1,430.9 1018.1,428.8 1019.1,430.9 1020.1,428.7 1021.1,430.7 1022.1,428.7 1023.1,430.6 1024.2,428.5 1025.2,430.5 1026.2,428.0 1027.2,429.8 1028.2,427.7 1029.2,430.1 1030.2,427.8 1031.2,429.9 1032.2,427.9 1033.2,429.4 1034.2,427.3 1035.2,429.4 1036.2,427.1 1037.2,429.1 1038.2,426.6 1039.2,428.7 1040.2,426.9 1041.2,428.7 1042.2,426.8 1043.2,428.3 1044.2,426.5 1045.2,427.9 1046.2,426.1 1047.2,428.2 1048.2,425.6 1049.3,427.4 1050.3,425.3 1051.3,427.5 1052.3,425.4 1053.3,426.9 1054.3,425.1 1055.3,427.1 1056.3,424.9 1057.3,426.5 1058.3,424.9 1059.3,426.4 1060.3,424.5 1061.3,426.3 1062.3,423.8 1063.3,426.0 1064.3,423.6 1065.3,425.4 1066.3,423.6 1067.3,425.5 1068.3,423.7 1069.3,425.4 1070.3,422.9 1071.3,425.0 1072.3,422.9 1073.3,424.6 1074.4,422.7 1075.4,424.9 1076.4,422.2 1077.4,424.8 1078.4,422.4 1079.4,424.1 1080.4,421.8 1081.4,424.2 1082.4,421.9 1083.4,423.6 1084.4,422.0 1085.4,423.4 1086.4,421.6 1087.4,423.5 1088.4,421.1 1089.4,423.2 1090.5,421.3 1091.5,423.2 1092.5,421.0 1093.5,422.9 1094.5,421.0 1095.5,423.0 1096.5,420.5 1097.5,422.7 1098.5,420.4 1099.5,422.5 1100.5,420.7 1101.5,422.1 1102.5,420.4 1103.5,422.2 1104.4,420.4 1105.4,422.5 1106.4,420.6 1107.4,422.2 1108.4,420.3 1109.4,422.4 1110.4,420.1 1111.4,422.0 1112.4,419.9 1113.4,422.1 1114.4,419.7 1115.4,421.6 1116.3,420.1 1117.3,421.4 1118.3,419.8 1119.3,421.3 1120.3,419.4 1121.3,421.7 1122.3,419.8 1123.3,421.5 1124.3,419.9 1125.3,421.3 1126.3,419.6 1127.3,421.4 1128.2,419.4 1129.2,421.6 1130.2,419.5 1131.2,421.7 1132.2,419.6 1133.2,421.5 1134.2,419.3 1135.2,421.3 1136.2,419.3 1137.2,421.1 1138.2,419.2 1139.2,420.8 1140.2,419.2 1141.2,420.6 1142.2,419.3 1143.2,420.6 1144.2,418.7 1145.2,420.3 1146.2,418.8 1147.2,420.4 1148.2,418.3 1149.2,419.9 1150.3,418.1 1151.3,420.2 1152.3,418.4 1153.3,419.6 1154.3,418.1 1155.3,419.7 1156.3,417.5 1157.3,419.2 1158.3,417.9 1159.3,419.5 1160.3,417.5 1161.3,419.4 1162.3,417.4 1163.3,419.0 1164.3,416.9 1165.3,418.8 1166.3,416.8 1167.3,418.7 1168.3,416.7 1169.2,417.8 1170.2,416.5 1171.2,417.5 1172.2,415.5 1173.1,417.5 1174.1,415.3 1175.1,416.6 1176.1,414.7 1177.0,416.1 1178.0,414.5 1179.0,415.9 1180.0,413.6 1180.9,415.5 1181.9,413.3 1182.9,415.0 1183.9,413.2 1184.9,414.5 1185.9,412.7 1186.9,414.5 1187.9,412.7 1188.9,414.3 1189.9,412.6 1190.9,414.5 1192.0,412.7 1193.0,414.0 1194.0,412.4 1195.0,414.0 1196.0,412.2 1197.0,414.3 1198.0,412.4 1199.0,413.8 1200.0,412.2 1201.0,414.2 1202.0,412.4 1203.0,413.7 1204.0,412.2 1205.0,413.3 1206.0,412.1 1207.0,413.5 1208.1,411.6 1209.1,413.4 1210.1,411.4 1211.1,413.1 1212.1,411.6 1213.1,413.4 1214.1,411.6 1215.1,413.0 1216.1,411.5 1217.1,413.4 1218.1,411.6 1219.1,413.2 1220.1,411.4 1221.1,412.9 1222.1,410.9 1223.1,412.3 1224.1,410.4 1225.2,412.2 1226.2,410.5 1227.2,411.9 1228.2,410.1 1229.2,411.4 1230.2,410.2 1231.2,411.8 1232.2,410.2 1233.2,411.6 1234.2,409.6 1235.2,411.1 1236.2,409.8 1237.2,411.2 1238.2,409.4 1239.2,411.0 1240.2,409.3 1241.3,410.5 1242.3,408.9 1243.3,410.5 1244.3,408.8 1245.3,410.5 1246.3,408.5 1247.3,409.9 1248.3,408.9 1249.3,409.8 1250.3,408.8 1251.3,409.7 1252.3,408.4 1253.3,409.6 1254.3,407.8 1255.3,409.7 1256.3,407.6 1257.3,409.5 1258.3,407.6 1259.3,409.2 1260.3,407.7 1261.3,408.6 1262.3,407.5 1263.3,408.9 1264.3,407.3 1265.3,408.2 1266.4,407.2 1267.4,408.5 1268.4,406.8 1269.4,408.2 1270.4,406.9 1271.4,408.1 1272.4,406.3 1273.4,407.8 1274.4,406.3 1275.4,407.5 1276.4,406.1 1277.4,407.3 1278.4,405.7 1279.4,406.9 1280.4,405.5 1281.4,406.7 1282.4,405.1 1283.4,406.7 1284.4,404.9 1285.4,406.3 1286.4,405.2 1287.4,406.5 1288.4,405.2 1289.4,406.7 1290.4,404.8 1291.5,406.2 1292.5,405.1 1293.5,406.1 1294.5,404.8 1295.5,406.0 1296.5,405.1 1297.5,406.3 1298.5,405.1 1299.5,406.5 1300.5,404.5 1301.5,406.0 1302.5,404.4 1303.5,406.1 1304.5,404.8 1305.5,405.9 1306.5,404.6 1307.6,406.0 1308.6,404.1 1309.6,405.9 1310.6,404.5 1311.6,405.9 1312.6,403.9 1313.6,405.7 1314.6,403.9 1315.6,405.3 1316.6,403.8 1317.6,405.2 1318.6,403.8 1319.6,405.3 1320.6,404.0 1321.6,405.4 1322.6,403.7 1323.6,405.5 1324.7,404.1 1325.7,405.6 1326.7,403.9 1327.7,405.5 1328.7,403.6 1329.7,405.4 1330.7,404.0 1331.7,405.1 1332.7,403.7 1333.7,405.4 1334.7,403.4 1335.7,405.2 1336.7,404.1 1337.7,405.2 1338.7,403.9 1339.7,404.9 1340.8,403.5 1341.8,405.3 1342.8,403.8 1343.8,405.3 1344.8,403.7 1345.8,404.9 1346.8,403.5 1347.8,404.9 1348.8,403.6 1349.8,404.8 1350.8,403.4 1351.8,404.5 1352.8,403.4 1353.8,404.5 1354.8,403.1 1355.8,404.6 1356.8,403.7 1357.8,404.3 1358.8,403.5 1359.8,404.4 1360.8,403.7 1361.8,404.2 1362.8,403.5 1363.8,404.4 1364.8,403.2 1365.9,404.7 1366.9,403.3 1367.9,403.9 1368.9,403.4 1369.9,404.1 1370.9,402.9 1371.9,404.2 1372.9,402.8 1373.9,403.8 1374.9,402.6 1375.9,404.2 1376.9,403.2 1377.9,403.9 1378.9,403.2 1379.9,404.0 1380.9,402.8 1381.9,403.6 1382.9,403.1 1383.9,403.4 1384.9,402.6 1385.9,403.7 1386.9,402.3 1387.9,403.4 1388.9,402.1 1389.9,403.3 1390.9,402.3 1391.9,403.0 1392.9,402.0 1393.9,402.8 1394.8,401.8 1395.8,402.7 1396.8,401.8 1397.8,402.9 1398.8,401.5 1399.8,402.4 1400.8,401.7 1401.8,402.3 1402.8,401.8 1403.8,401.9 1404.8,401.2 1405.8,401.9 1406.8,401.0 1407.8,401.9 1408.8,400.5 1409.8,401.7 1410.8,400.9 1411.8,401.3 1412.7,400.1 1413.7,400.8 1414.7,400.2 1415.7,400.7 1416.7,399.7 1417.7,400.1 1418.7,399.6 1419.7,399.6 1420.7,399.0 1421.7,399.9 1422.7,398.8 1423.7,399.5 1424.6,398.6 1425.6,398.9 1426.6,398.5 1427.6,398.6 1428.6,397.8 1429.6,398.6 1430.6,398.0 1431.6,398.3 1432.6,397.1 1433.6,398.3 1434.6,396.8 1435.6,398.0 1436.5,396.7 1437.5,397.4 1438.5,396.5 1439.5,397.4 1440.5,396.5 1441.5,397.1 1442.5,396.0 1443.5,397.0 1444.5,396.0 1445.5,397.1 1446.5,396.4 1447.6,396.7 1448.6,396.4 1449.6,396.8 1450.6,395.9 1451.6,397.3 1452.6,395.9 1453.6,397.0 1454.6,396.2 1455.6,397.0 1456.6,396.2 1457.7,397.6 1458.7,396.3 1459.7,397.3 1460.7,396.6 1461.7,397.2 1462.7,396.8 1463.7,397.1 1464.7,396.6 1465.7,397.5 1466.7,396.7 1467.8,397.0 1468.8,396.7 1469.8,397.6 1470.8,396.7 1471.8,397.3 1472.8,396.6 1473.8,397.5 1474.8,396.8 1475.8,397.3 1476.8,396.9 1477.9,397.4 1478.9,396.4 1479.9,397.1 1480.9,396.9 1481.9,397.3 1482.9,396.9 1483.9,397.1 1484.9,396.5 1485.9,397.6 1486.9,396.7 1487.9,397.6 1488.9,396.7 1489.9,397.4 1490.9,396.6 1492.0,397.1 1493.0,396.2 1494.0,397.0 1495.0,396.5 1496.0,396.7 1497.0,396.0 1498.0,397.0 1499.0,396.3 1500.0,396.6 1501.0,396.3 1502.0,396.9 1503.0,396.0 1504.0,396.4 1505.0,395.7 1506.0,396.5 1507.0,395.5 1508.1,396.2 1509.1,395.6 1510.1,396.1 1511.1,395.7 1512.1,396.6 1513.1,395.2 1514.1,396.3 1515.1,395.7 1516.1,395.8 1517.1,395.4 1518.1,396.2 1519.1,395.2 1520.1,395.9 1521.1,395.3 1522.1,395.6 1523.1,395.2 1524.1,395.6 1525.0,395.3 1526.0,395.9 1527.0,394.9 1528.0,395.9 1529.0,395.2 1530.0,395.7 1531.0,394.7 1532.0,395.5 1533.0,395.0 1534.0,395.4 1535.0,395.0 1536.0,395.8 1537.0,395.0 1538.0,395.8 1539.0,394.8 1540.0,395.5 1540.9,395.0 1541.9,395.9 1542.9,394.9 1543.9,395.9 1544.9,394.6 1545.9,395.3 1546.9,395.0 1547.9,395.7 1548.9,394.9 1549.9,395.7 1550.9,394.7 1551.9,395.4 1552.9,395.0 1553.9,395.4 1554.9,394.4 1555.9,395.5 1556.9,394.5 1557.8,395.3 1558.8,394.8 1559.8,395.7 1560.8,394.4 1561.8,395.2 1562.8,394.7 1563.8,395.1 1564.8,394.7 1565.8,395.4 1566.8,394.7 1567.8,395.6 1568.8,394.3 1569.8,394.9 1570.8,394.4 1571.8,394.8 1572.8,394.0 1573.8,395.1 1574.9,394.4 1575.9,395.2 1576.9,393.9 1577.9,394.7 1578.9,393.7 1579.9,394.7 1580.9,393.6 1581.9,394.9 1582.9,393.7 1583.9,394.4 1584.9,393.8 1585.9,394.5 1586.9,393.8 1587.9,394.6 1588.9,393.8 1589.9,394.7 1591.0,393.5 1592.0,394.4 1593.0,394.0 1594.0,394.4 1595.0,393.4 1596.0,394.3 1597.0,393.5 1598.0,394.4 1599.0,393.4 1600.0,394.8 1601.0,393.8 1602.0,394.5 1603.0,393.7 1604.0,394.3 1605.0,393.7 1606.0,394.5 1607.0,393.5 1608.0,394.4 1609.0,393.4 1610.0,394.5 1611.0,393.7 1611.9,394.4 1612.9,393.6 1613.9,394.1 1614.9,393.4 1615.9,394.0 1616.9,393.2 1617.9,394.4 1618.9,393.3 1619.9,394.0 1620.9,393.0 1621.9,393.7 1622.9,393.2 1623.9,394.0 1624.9,393.3 1625.9,394.1 1626.9,393.5 1627.9,394.3 1628.9,392.9 1629.9,393.8 1630.9,392.9 1631.9,393.6 1632.9,392.9 1633.9,393.7 1634.9,393.0 1635.9,393.6 1636.8,392.9 1637.8,393.7 1638.8,392.8 1639.8,393.7 1640.8,392.7 1641.8,393.9 1642.8,392.9 1643.8,393.5 1644.8,392.9 1645.8,393.8 1646.8,392.8 1647.8,393.5 1648.8,393.2 1649.8,393.7 1650.8,392.5 1651.8,393.3 1652.8,392.5 1653.8,393.7 1654.8,392.7 1655.8,393.3 1656.8,392.8 1657.7,393.3 1658.7,392.6 1659.7,393.4 1660.7,393.0 1661.7,393.2 1662.7,393.0 1663.7,393.5 1664.7,392.7 1665.7,393.2 1666.7,392.5 1667.7,393.5 1668.7,392.8 1669.7,393.3 1670.7,392.2 1671.7,393.5 1672.7,392.4 1673.7,393.1 1674.6,392.3 1675.6,393.5 1676.6,392.4 1677.6,393.2 1678.6,392.7 1679.6,393.2 1680.6,392.2 1681.6,392.9 1682.6,392.0 1683.6,393.2 1684.6,391.7 1685.6,392.8 1686.6,391.6 1687.6,392.8 1688.6,391.6 1689.6,392.7 1690.6,391.8 1691.5,392.2 1692.5,391.8 1693.5,392.8 1694.5,391.4 1695.5,392.6 1696.5,391.4 1697.5,392.6 1698.5,391.5 1699.5,392.1 1700.5,392.0 1701.5,392.3 1702.5,391.6 1703.5,392.5 1704.5,391.3 1705.5,392.4 1706.5,391.6 1707.5,392.3 1708.5,391.4 1709.5,392.4 1710.5,391.5 1711.5,392.4 1712.5,391.4 1713.5,392.1 1714.5,391.7 1715.5,392.2 1716.5,391.3 1717.5,392.3 1718.5,391.8 1719.5,392.1 1720.5,391.3 1721.5,392.4 1722.4,391.2 1723.4,391.9 1724.4,391.5 1725.4,392.5 1726.4,391.2 1727.4,392.5 1728.4,391.8 1729.4,392.4 1730.4,391.3 1731.4,392.0 1732.4,391.3 1733.4,392.4 1734.4,391.6 1735.4,392.5 1736.4,391.8 1737.4,392.2 1738.4,391.4 1739.4,392.5 1740.4,391.6 1741.4,392.4 1742.4,391.7 1743.4,392.2 1744.4,392.2"/>
<polyline stroke="#0000ff" marker-start="url(#mU)" marker-mid="url(#mU)" marker-end="url(#mU)" points="322.2,438.5 322.3,446.0 322.3,452.0 322.4,464.6 322.5,478.8 322.5,503.5 322.6,520.3 322.8,546.2 323.2,563.7 324.5,580.0 325.5,588.3 325.7,588.6 325.7,589.9 325.8,590.1 325.8,590.4 326.0,590.8 326.0,591.6 326.2,591.8 326.2,592.5 326.3,592.8 326.3,593.4 326.5,593.9 326.5,594.2 326.7,594.6 326.7,595.4 326.8,595.6 326.8,596.3 327.0,596.3 327.0,597.5 327.3,597.6 327.3,598.1 327.7,598.4 327.7,599.2 328.0,599.4 328.0,600.1 328.4,600.3 328.4,601.2 328.7,601.5 328.7,601.8 329.0,602.1 329.0,603.2 329.4,603.0 329.4,604.3 329.7,603.8 329.7,605.3 330.1,605.2 330.1,605.7 330.4,605.7 330.4,607.0 330.7,607.2 330.7,607.4 331.1,607.5 331.1,609.0 331.4,609.0 331.4,609.4 331.7,610.0 331.7,610.3 332.1,610.6 332.1,611.7 332.4,611.7 332.4,612.4 332.8,612.9 332.8,613.1 333.1,613.5 333.1,614.5 333.4,614.8 333.4,615.2 333.8,615.5 333.8,616.4 334.1,616.6 334.1,617.1 334.5,617.5 334.5,618.2 334.8,618.7 334.8,618.9 335.1,619.1 335.1,620.4 335.4,620.2 335.4,621.1 335.7,620.9 335.7,622.3 336.0,622.1 336.0,622.9 336.3,622.9 336.3,624.0 336.6,624.1 336.6,624.7 337.0,625.1 337.0,625.5 337.3,626.1 337.3,626.4 337.6,626.7 337.6,627.6 337.9,627.9 337.9,628.3 338.2,628.7 338.2,629.4 338.5,629.6 338.5,630.3 338.8,630.8 338.8,631.0 339.1,631.5 339.1,632.1 339.4,632.6 339.4,632.8 339.7,633.5 339.7,633.8 340.0,634.5 340.0,634.7 340.3,635.3 340.3,635.8 340.7,635.8 340.7,637.1 341.0,637.2 341.0,637.5 341.3,638.2 341.3,638.4 341.6,639.1 341.6,639.4 341.9,639.8 341.9,640.5 342.2,640.9 342.2,641.4 342.5,641.4 342.5,642.7 342.8,642.8 342.8,643.2 343.0,643.6 343.0,644.3 343.3,644.4 343.3,645.5 343.6,645.2 343.6,646.6 343.9,646.7 343.9,647.0 344.1,647.7 344.1,647.8 344.4,648.0 344.4,649.4 344.7,649.5 344.7,649.9 345.0,650.2 345.0,651.1 345.2,650.9 345.2,652.2 345.5,652.0 345.5,653.1 345.8,653.3 345.8,653.7 346.1,654.3 346.1,654.6 346.3,655.2 346.3,655.7 346.6,656.0 346.6,656.9 346.9,657.1 346.9,657.8 347.2,658.1 347.2,658.8 347.4,659.3 347.4,659.5 347.7,659.8 347.7,660.9 348.3,660.6 348.3,661.8 348.9,661.3 348.9,662.8 349.5,662.1 349.5,663.6 350.1,663.0 350.1,664.4 350.7,664.2 350.7,664.9 351.2,664.9 351.2,666.0 351.8,665.8 351.8,666.9 352.4,667.0 352.4,667.5 353.0,668.0 353.0,668.2 353.6,668.4 353.6,669.5 354.2,669.3 354.2,670.3 355.0,668.7 355.0,670.0 355.8,668.7 355.8,669.0 356.6,667.9 356.6,668.9 357.4,667.8 357.4,668.0 358.3,666.9 358.3,667.9 359.1,666.8 359.1,667.1 359.9,666.2 359.9,666.7 360.7,665.3 360.7,666.6 361.1,665.0 361.1,665.2 361.5,664.0 361.5,664.4 362.0,662.9 362.0,663.4 362.4,661.6 362.4,662.8 362.8,660.7 362.8,661.8 363.2,660.2 363.2,660.4 363.6,659.0 363.6,659.8 364.0,658.1 364.0,658.8 364.5,656.8 364.5,658.3 364.9,656.2 364.9,657.1 365.3,655.4 365.3,656.1 365.7,654.1 365.7,655.6 366.1,653.7 366.1,654.3 366.5,652.8 366.5,653.4 367.0,651.5 367.0,652.9 367.4,651.0 367.4,651.6 367.8,650.0 367.8,650.9 368.2,651.1 368.2,651.6 368.5,651.8 368.5,652.8 368.9,653.0 368.9,653.5 369.2,653.4 369.2,654.8 369.6,654.7 369.6,655.2 370.0,655.7 370.0,655.9 370.3,656.1 370.3,657.3 370.7,657.2 370.7,658.1 371.1,658.2 371.1,658.9 371.4,658.9 371.4,660.0 371.8,659.9 371.8,660.9 372.2,660.8 372.2,661.8 372.5,661.7 372.5,662.7 372.9,662.8 372.9,663.5 373.2,663.6 373.2,664.6 373.6,664.5 373.6,665.5 373.7,665.8 373.7,666.2 373.9,666.3 373.9,667.8 374.0,667.7 374.0,668.4 374.2,668.8 374.2,669.3 374.3,669.5 374.3,670.6 374.5,670.5 374.5,671.7 374.6,671.9 374.6,672.2 374.8,672.5 374.8,673.7 374.9,673.5 374.9,674.7 375.0,674.6 375.0,675.5 375.2,675.8 375.2,676.3 375.3,676.4 375.3,677.8 375.5,678.0 375.5,678.6 375.6,678.9 375.6,680.1 375.8,680.5 375.8,680.8 375.9,681.7 375.9,681.8 376.1,682.1 376.1,683.5 376.2,683.7 376.2,684.1 376.3,684.3 376.3,685.5 376.3,685.6 376.3,686.3 376.4,686.4 376.4,687.5 376.4,687.8 376.4,688.2 376.5,688.2 376.5,689.7 376.6,689.9 376.6,690.0 376.6,690.4 376.6,691.5 376.7,691.8 376.7,692.1 376.8,692.6 376.8,693.3 376.8,693.8 376.8,694.1 376.9,694.4 376.9,695.4 376.9,695.8 376.9,696.1 377.0,696.2 377.0,697.6 377.1,697.6 377.1,698.2 377.1,698.2 377.1,699.2 377.2,699.3 377.2,699.7 377.3,699.9 377.3,701.0 377.3,700.8 377.3,701.8 377.4,701.8 377.4,702.7 377.4,702.7 377.4,703.6 377.5,703.7 377.5,704.6 378.3,704.8 378.3,705.0 379.1,705.1 379.1,706.3 379.8,705.7 379.8,707.2 380.6,707.2 380.6,707.4 381.0,706.2 381.0,706.5 381.4,705.4 381.4,705.6 381.9,704.2 381.9,705.1 382.3,703.6 382.3,703.8 382.7,702.8 382.7,703.0 383.1,701.4 383.1,702.6 383.5,700.9 383.5,701.3 383.9,700.1 383.9,700.4 384.4,699.1 384.4,699.6 384.8,698.1 384.8,698.9 385.2,697.0 385.2,698.1 385.6,696.2 385.6,697.2 386.0,695.2 386.0,696.4 386.4,694.3 386.4,695.7 386.9,693.7 386.9,694.4 387.3,692.7 387.3,693.8 387.7,692.1 387.7,692.5 388.4,691.3 388.4,691.7 389.0,690.3 389.0,691.1 389.7,689.3 389.7,690.5 390.4,689.0 390.4,689.2 391.0,687.9 391.0,688.8 391.7,686.8 391.7,688.2 392.3,686.3 392.3,687.1 393.0,685.3 393.0,686.6 393.7,684.8 393.7,685.6 394.3,683.1 394.3,684.2 395.0,680.7 395.0,682.2 395.6,679.4 395.6,679.6 396.3,677.4 396.3,678.0 397.0,675.4 397.0,676.5 397.6,673.9 397.6,675.0 398.3,672.9 398.3,673.2 398.9,671.3 398.9,672.2 399.5,670.4 399.5,670.8 400.1,669.1 400.1,670.1 400.7,668.1 400.7,669.3 401.3,667.5 401.3,668.3 401.9,667.1 401.9,667.4 402.5,666.4 402.5,667.7 403.1,666.8 403.1,667.2 403.7,666.7 403.7,666.9 404.3,666.4 404.3,666.8 404.9,666.1 404.9,666.5 405.5,665.2 405.5,666.7 406.1,665.3 406.1,665.9 406.7,665.0 406.7,665.3 407.3,663.9 407.3,665.4 407.9,663.5 407.9,664.7 408.5,662.9 408.5,664.0 409.1,662.4 409.1,663.2 409.7,661.6 409.7,662.5 410.3,660.9 410.3,661.7 410.9,660.3 410.9,660.7 411.5,658.9 411.5,660.4 412.1,658.2 412.1,659.6 412.8,657.5 412.8,658.9 413.5,657.1 413.5,657.9 414.3,656.0 414.3,657.5 415.0,655.8 415.0,656.3 415.7,654.9 415.7,655.7 416.4,654.2 416.4,655.0 417.1,653.2 417.1,654.5 417.8,652.5 417.8,653.9 418.6,652.0 418.6,652.9 419.3,651.3 419.3,652.2 420.0,650.3 420.0,651.6 420.8,649.7 420.8,650.8 421.6,649.0 421.6,650.3 422.4,648.6 422.4,649.4 423.2,648.1 423.2,648.6 424.1,647.3 424.1,648.3 424.9,646.5 424.9,647.9 425.7,646.0 425.7,647.3 426.5,645.5 426.5,646.5 427.3,645.1 427.3,645.7 428.1,644.5 428.1,644.9 428.9,643.6 428.9,644.5 429.7,643.1 429.7,643.5 430.5,642.3 430.5,642.9 431.3,641.4 431.3,642.3 432.1,640.6 432.1,641.6 432.9,640.0 432.9,640.8 433.7,639.4 433.7,639.9 434.5,638.5 434.5,639.4 435.1,637.5 435.1,638.7 435.7,636.8 435.7,637.6 436.3,636.1 436.3,636.6 436.9,634.8 436.9,636.2 437.5,634.2 437.5,635.1 438.1,633.3 438.1,634.2 438.8,632.7 438.8,633.0 439.4,631.9 439.4,632.1 440.0,630.7 440.0,631.6 440.6,630.2 440.6,630.4 441.2,629.3 441.2,629.7 441.8,628.1 441.8,629.2 442.6,627.6 442.6,628.4 443.4,626.7 443.4,628.1 444.2,626.6 444.2,627.0 445.0,626.0 445.0,626.5 445.8,625.5 445.8,625.8 446.6,624.9 446.6,625.3 447.4,624.3 447.4,624.8 448.2,623.7 448.2,624.2 449.0,623.0 449.0,623.7 449.7,622.0 449.7,623.3 450.3,621.6 450.3,622.3 451.0,620.6 451.0,621.8 451.7,620.0 451.7,620.9 452.3,619.3 452.3,620.1 453.0,618.6 453.0,619.3 453.6,617.9 453.6,618.5 454.3,617.0 454.3,618.0 455.0,616.5 455.0,616.9 455.6,615.4 455.6,616.5 456.3,615.0 456.3,615.4 457.0,613.8 457.0,615.3 457.8,613.8 457.8,614.1 458.5,613.3 458.5,613.5 459.2,612.4 459.2,613.1 460.0,612.0 460.0,612.4 460.7,610.9 460.7,612.3 461.4,610.8 461.4,611.2 462.1,610.0 462.1,610.8 462.9,609.5 462.9,610.0 463.6,608.5 463.6,609.9 464.5,608.5 464.5,609.0 465.4,608.2 465.4,608.4 466.3,607.1 466.3,608.5 467.2,606.9 467.2,607.9 468.1,606.1 468.1,607.5 469.0,606.3 469.0,606.4 469.9,605.5 469.9,606.1 470.8,604.9 470.8,605.7 471.7,604.6 471.7,605.1 472.6,604.4 472.6,604.6 473.5,603.5 473.5,604.6 474.5,603.3 474.5,604.0 475.4,603.1 475.4,603.3 476.3,602.4 476.3,603.1 477.2,602.2 477.2,602.4 478.1,601.4 478.1,602.4 478.9,600.8 478.9,601.9 479.7,600.7 479.7,600.9 480.5,600.1 480.5,600.4 481.3,599.7 481.3,599.8 482.2,598.8 482.2,599.7 483.0,598.4 483.0,599.1 483.8,597.8 483.8,598.5 484.6,597.6 484.6,597.8 485.4,596.9 485.4,597.4 486.3,596.1 486.3,597.4 487.2,595.9 487.2,596.9 488.1,595.9 488.1,596.2 489.0,595.0 489.0,596.3 489.9,594.9 489.9,595.7 490.8,594.5 490.8,595.3 491.7,594.3 491.7,594.8 492.6,594.1 492.6,594.4 493.5,593.1 493.5,594.4 494.4,593.0 494.4,593.5 495.3,592.0 495.3,593.5 496.2,591.7 496.2,592.7 497.2,591.4 497.2,591.9 498.1,590.8 498.1,591.4 499.0,590.0 499.0,591.1 499.9,589.6 499.9,590.4 500.8,589.0 500.8,590.1 501.7,588.7 501.7,589.5 502.6,588.1 502.6,589.3 503.5,587.6 503.5,588.9 504.4,587.5 504.4,588.2 505.3,587.0 505.3,587.8 506.2,586.2 506.2,587.8 507.1,585.7 507.1,587.4 507.9,585.6 507.9,586.6 508.7,584.7 508.7,586.5 509.5,584.4 509.5,585.7 510.3,583.7 510.3,585.4 511.2,583.3 511.2,584.8 512.0,583.1 512.0,584.0 512.8,582.3 512.8,583.8 513.6,581.6 513.6,583.5 514.4,581.4 514.4,582.8 515.3,581.4 515.3,582.3 516.2,580.9 516.2,582.2 517.1,580.2 517.1,582.4 518.0,580.5 518.0,581.4 519.0,579.6 519.0,581.8 519.9,579.9 519.9,580.9 520.8,579.5 520.8,580.8 521.7,579.2 521.7,580.4 522.6,578.3 522.6,580.7 523.5,578.7 523.5,579.9 524.4,578.4 524.4,579.6 525.3,577.9 525.3,579.5 526.2,577.7 526.2,579.2 527.1,576.9 527.1,579.4 528.0,576.7 528.0,579.0 528.9,576.5 528.9,578.7 529.8,576.6 529.8,577.9 530.7,576.2 530.7,577.6 531.6,575.4 531.6,577.7 532.5,575.3 532.5,577.0 533.5,575.0 533.5,576.6 534.4,574.2 534.4,576.7 535.3,574.4 535.3,575.7 536.2,573.7 536.2,575.8 537.1,573.4 537.1,575.4 538.0,573.2 538.0,574.8 538.9,572.4 538.9,574.9 539.9,572.0 539.9,574.5 540.8,572.1 540.8,573.6 541.7,571.4 541.7,573.6 542.6,571.0 542.6,573.2 543.5,570.8 543.5,572.6 544.4,570.6 544.4,572.3 545.3,569.8 545.3,572.4 546.2,569.7 546.2,571.9 547.1,569.5 547.1,571.6 548.0,569.2 548.0,571.2 548.9,568.7 548.9,571.1 549.8,568.6 549.8,570.6 550.7,568.0 550.7,570.6 551.6,567.8 551.6,570.1 552.6,567.9 552.6,569.4 553.5,567.0 553.5,569.6 554.4,566.9 554.4,569.1 555.4,566.6 555.4,568.7 556.3,566.4 556.3,568.4 557.2,565.9 557.2,568.2 558.1,565.8 558.1,567.7 559.1,565.6 559.1,567.3 560.0,565.3 560.0,567.0 560.9,564.6 560.9,566.7 561.8,564.3 561.8,566.2 562.7,564.0 562.7,565.6 563.6,563.6 563.6,565.2 564.5,563.3 564.5,564.5 565.4,562.8 565.4,564.2 566.3,561.9 566.3,564.3 567.2,562.2 567.2,563.4 568.2,561.4 568.2,563.5 569.1,561.3 569.1,563.0 570.1,561.0 570.1,562.8 571.0,560.8 571.0,562.4 572.0,560.3 572.0,562.2 572.9,559.7 572.9,562.2 573.9,559.6 573.9,561.8 574.8,559.6 574.8,561.1 575.8,559.2 575.8,560.8 576.7,558.4 576.7,560.9 577.7,558.2 577.7,560.4 578.6,558.3 578.6,559.6 579.6,557.6 579.6,559.6 580.5,557.0 580.5,559.5 581.5,557.0 581.5,558.9 582.4,556.9 582.4,558.3 583.4,556.4 583.4,558.2 584.3,556.1 584.3,557.8 585.3,555.6 585.3,557.7 586.2,555.2 586.2,557.5 587.2,554.8 587.2,557.2 588.1,554.7 588.1,556.7 589.1,554.6 589.1,556.2 590.0,553.8 590.0,556.2 591.0,553.6 591.0,555.5 591.9,553.3 591.9,555.1 592.9,552.8 592.9,554.9 593.8,552.3 593.8,554.8 594.8,552.1 594.8,554.3 595.7,551.6 595.7,554.2 596.7,551.3 596.7,553.8 597.6,551.2 597.6,553.2 598.6,550.7 598.6,553.0 599.5,550.6 599.5,552.3 600.4,550.1 600.4,552.1 601.4,549.9 601.4,552.0 602.3,549.9 602.3,551.5 603.3,549.1 603.3,551.8 604.2,549.1 604.2,551.2 605.2,549.1 605.2,550.6 606.1,548.2 606.1,550.8 607.1,548.1 607.1,550.2 608.0,547.8 608.0,549.8 609.0,547.4 609.0,549.5 609.9,547.3 609.9,548.9 610.9,546.4 610.9,549.1 611.8,546.4 611.8,548.4 612.8,546.0 612.8,548.1 613.7,545.8 613.7,547.7 614.7,545.2 614.7,547.6 615.6,545.3 615.6,546.9 616.6,544.4 616.6,547.2 617.5,544.4 617.5,546.5 618.5,544.2 618.5,546.0 619.4,543.9 619.4,545.7 620.4,543.3 620.4,545.5 621.3,542.6 621.3,545.4 622.3,542.3 622.3,545.0 623.2,542.3 623.2,544.3 624.2,541.4 624.2,544.5 625.1,541.6 625.1,543.6 626.1,541.4 626.1,543.2 627.0,541.1 627.0,542.9 628.0,540.4 628.0,543.0 628.9,540.1 628.9,542.5 629.9,539.8 629.9,542.2 630.8,539.6 630.8,541.9 631.8,539.5 631.8,541.4 632.7,539.0 632.7,541.3 633.7,538.5 633.7,541.5 634.6,538.7 634.6,540.9 635.6,538.3 635.6,541.0 636.6,538.2 636.6,540.8 637.6,538.1 637.6,540.5 638.5,537.4 638.5,540.8 639.5,537.7 639.5,540.1 640.5,537.4 640.5,540.0 641.5,537.0 641.5,539.9 642.4,536.8 642.4,539.6 643.4,536.6 643.4,539.4 644.4,536.1 644.4,539.4 645.4,536.1 645.4,538.9 646.3,536.2 646.3,538.4 647.3,536.0 647.3,538.2 648.3,535.2 648.3,538.6 649.2,535.1 649.2,538.2 650.2,535.1 650.2,537.7 651.2,534.5 651.2,537.8 652.2,534.5 652.2,537.3 653.1,534.0 653.1,537.4 654.1,534.4 654.1,536.6 655.1,533.6 655.1,537.0 656.1,533.8 656.1,536.4 657.0,533.4 657.0,536.0 658.0,533.3 658.0,535.4 659.0,532.6 659.0,535.6 660.0,532.8 660.0,535.0 660.9,532.5 660.9,534.9 661.9,531.9 661.9,535.1 662.9,532.2 662.9,534.4 663.9,531.9 663.9,534.4 664.8,531.9 664.8,534.0 665.8,531.6 665.8,534.0 666.8,531.5 666.8,533.9 667.8,531.1 667.8,534.0 668.7,531.3 668.7,533.5 669.7,531.2 669.7,533.3 670.7,531.0 670.7,533.1 671.7,530.6 671.7,533.2 672.6,530.6 672.6,532.8 673.6,530.3 673.6,532.8 674.6,529.8 674.6,532.8 675.6,529.6 675.6,532.7 676.5,529.4 676.5,532.4 677.5,529.3 677.5,532.1 678.5,529.0 678.5,531.8 679.5,529.0 679.5,531.4 680.4,529.0 680.4,531.0 681.4,528.6 681.4,530.9 682.4,528.4 682.4,530.7 683.4,527.9 683.4,530.8 684.4,528.0 684.4,530.3 685.3,528.0 685.3,529.9 686.3,527.7 686.3,529.9 687.3,527.5 687.3,529.7 688.3,527.0 688.3,529.8 689.2,527.0 689.2,529.4 690.2,527.2 690.2,528.8 691.2,526.7 691.2,528.9 692.2,526.5 692.2,528.7 693.1,526.3 693.1,528.5 694.1,526.5 694.1,527.9 695.1,526.2 695.1,527.8 696.1,525.7 696.1,528.0 697.0,525.6 697.0,527.8 698.0,525.7 698.0,527.2 699.0,525.3 699.0,527.3 700.0,524.8 700.0,527.3 701.0,524.5 701.0,527.1 701.9,524.7 701.9,526.5 702.9,524.5 702.9,526.3 703.9,524.3 703.9,526.0 704.9,523.8 704.9,526.1 705.8,523.8 705.8,525.6 706.8,523.2 706.8,525.7 707.8,523.0 707.8,525.5 708.8,523.1 708.8,525.0 709.7,522.8 709.7,524.8 710.7,522.8 710.7,524.3 711.7,522.1 711.7,524.6 712.7,522.1 712.7,524.1 713.6,521.9 713.6,523.9 714.6,521.4 714.6,523.9 715.6,521.8 715.6,523.0 716.6,521.0 716.6,523.3 717.6,520.7 717.6,523.2 718.5,520.7 718.5,522.8 719.5,520.3 719.5,522.8 720.5,520.6 720.5,522.0 721.5,520.2 721.5,522.0 722.4,520.1 722.4,521.7 723.4,519.6 723.4,521.9 724.4,519.8 724.4,521.2 725.4,519.6 725.4,521.0 726.3,519.3 726.3,520.9 727.3,519.2 727.3,520.6 728.3,518.7 728.3,520.8 729.3,518.5 729.3,520.6 730.2,518.0 730.2,520.8 731.2,518.0 731.2,520.4 732.2,518.2 732.2,519.7 733.2,517.6 733.2,520.1 734.2,517.3 734.2,520.1 735.2,517.4 735.2,519.7 736.2,516.9 736.2,519.7 737.2,517.1 737.2,519.2 738.2,516.6 738.2,519.4 739.2,516.8 739.2,518.8 740.2,516.1 740.2,519.1 741.2,516.3 741.2,518.6 742.2,516.1 742.2,518.4 743.2,516.2 743.2,518.1 744.2,515.6 744.2,518.4 745.2,516.0 745.2,517.8 746.2,515.5 746.2,518.0 747.2,515.6 747.2,517.6 748.2,515.5 748.2,517.4 749.3,515.4 749.3,517.2 750.3,514.6 750.3,517.7 751.3,514.6 751.3,517.3 752.3,514.7 752.3,517.0 753.3,514.8 753.3,516.6 754.3,514.0 754.3,517.1 755.3,514.0 755.3,516.8 756.3,514.3 756.3,516.3 757.3,513.6 757.3,516.6 758.3,513.7 758.3,516.3 759.3,513.8 759.3,515.8 760.3,513.4 760.3,515.9 761.3,513.5 761.3,515.5 762.3,513.4 762.3,515.3 763.3,512.9 763.3,515.5 764.3,513.2 764.3,515.0 765.3,512.6 765.3,515.3 766.3,512.4 766.3,515.3 767.3,512.7 767.3,514.7 768.2,512.3 768.2,514.8 769.2,512.1 769.2,514.6 770.2,512.2 770.2,514.3 771.2,511.8 771.2,514.4 772.1,511.9 772.1,513.9 773.1,511.6 773.1,514.0 774.1,511.6 774.1,513.7 775.1,511.6 775.1,513.4 776.0,511.2 776.0,513.4 777.0,511.3 777.0,513.0 778.0,510.5 778.0,513.5 779.0,510.3 779.0,513.4 779.9,510.5 779.9,513.0 780.9,510.5 780.9,512.6 781.9,510.3 781.9,512.5 782.9,509.8 782.9,512.7 783.9,509.7 783.9,512.4 784.8,509.9 784.8,511.9 785.8,509.7 785.8,511.9 786.8,509.7 786.8,511.5 787.8,509.5 787.8,511.4 788.7,509.1 788.7,511.5 789.7,509.3 789.7,511.1 790.7,509.0 790.7,511.1 791.7,508.6 791.7,511.2 792.6,508.5 792.6,511.1 793.6,508.6 793.6,510.5 794.6,508.5 794.6,510.2 795.6,507.9 795.6,510.4 796.5,507.7 796.5,510.2 797.5,507.6 797.5,510.0 798.5,507.8 798.5,509.6 799.5,507.2 799.5,509.8 800.5,507.3 800.5,509.3 801.5,507.4 801.5,508.9 802.5,507.2 802.5,508.8 803.5,506.5 803.5,509.2 804.4,506.9 804.4,508.4 805.4,506.7 805.4,508.3 806.4,506.0 806.4,508.6 807.4,506.1 807.4,508.2 808.4,505.8 808.4,508.1 809.4,505.9 809.4,507.7 810.4,505.6 810.4,507.6 811.4,505.6 811.4,507.3 812.4,505.2 812.4,507.3 813.4,504.8 813.4,507.4 814.4,504.6 814.4,507.1 815.4,504.3 815.4,507.0 816.3,504.6 816.3,506.3 817.3,503.9 817.3,506.5 818.3,503.8 818.3,506.4 819.3,504.3 819.3,505.7 820.3,503.7 820.3,506.1 821.3,503.4 821.3,506.0 822.3,503.5 822.3,505.7 823.3,503.6 823.3,505.2 824.3,503.3 824.3,505.1 825.3,502.7 825.3,505.3 826.3,502.8 826.3,504.9 827.3,502.8 827.3,504.6 828.2,502.5 828.2,504.3 829.2,502.3 829.2,504.0 830.2,501.8 830.2,504.1 831.2,502.0 831.2,503.5 832.2,501.5 832.2,503.7 833.2,501.3 833.2,503.6 834.2,501.1 834.2,503.7 835.2,500.9 835.2,503.7 836.2,501.0 836.2,503.5 837.2,501.1 837.2,503.2 838.2,500.8 838.2,503.3 839.2,500.6 839.2,503.3 840.2,500.9 840.2,502.8 841.2,500.9 841.2,502.6 842.2,500.6 842.2,502.7 843.2,500.3 843.2,502.8 844.2,500.4 844.2,502.3 845.2,499.8 845.2,502.7 846.2,500.0 846.2,502.3 847.2,499.7 847.2,502.3 848.2,499.9 848.2,501.8 849.2,499.5 849.2,501.9 850.3,499.1 850.3,502.0 851.3,499.0 851.3,501.8 852.3,498.8 852.3,501.7 853.3,499.2 853.3,501.0 854.3,498.9 854.3,501.0 855.3,498.9 855.3,500.8 856.3,498.9 856.3,500.6 857.3,498.5 857.3,500.8 858.3,498.6 858.3,500.5 859.3,498.2 859.3,500.7 860.3,497.9 860.3,500.9 861.3,498.1 861.3,500.5 862.3,497.9 862.3,500.6 863.3,498.1 863.3,500.1 864.3,498.0 864.3,500.0 865.3,497.6 865.3,500.2 866.3,497.6 866.3,500.1 867.3,497.2 867.3,500.5 868.3,497.8 868.3,499.8 869.3,497.1 869.3,500.4 870.3,497.7 870.3,499.8 871.3,497.1 871.3,500.4 872.3,497.1 872.3,500.2 873.3,497.3 873.3,499.9 874.3,496.9 874.3,500.2 875.4,497.1 875.4,499.8 876.4,496.9 876.4,500.0 877.4,496.8 877.4,499.9 878.4,497.0 878.4,499.7 879.4,496.7 879.4,500.0 880.4,496.9 880.4,499.6 881.4,496.7 881.4,499.8 882.4,497.1 882.4,499.4 883.4,496.7 883.4,499.7 884.4,496.7 884.4,499.5 885.4,496.5 885.4,499.8 886.4,496.5 886.4,499.7 887.4,496.9 887.4,499.3 888.4,496.9 888.4,499.4 889.4,497.1 889.4,499.2 890.4,497.1 890.4,499.2 891.5,497.1 891.5,499.3 892.5,496.7 892.5,499.7 893.5,496.5 893.5,499.8 894.5,496.6 894.5,499.7 895.5,496.7 895.5,499.6 896.5,496.8 896.5,499.5 897.5,497.1 897.5,499.2 898.5,496.6 898.5,499.7 899.5,496.4 899.5,499.8 900.5,496.6 900.5,499.4 901.5,496.4 901.5,499.3 902.5,496.6 902.5,498.8 903.5,496.5 903.5,498.7 904.5,496.4 904.5,498.4 905.5,496.0 905.5,498.6 906.5,495.6 906.5,498.8 907.5,495.9 907.5,498.3 908.6,495.5 908.6,498.5 909.6,495.3 909.6,498.5 910.6,495.8 910.6,497.7 911.6,495.0 911.6,498.3 912.6,495.6 912.6,497.4 913.6,495.3 913.6,497.4 914.6,494.9 914.6,497.6 915.6,495.3 915.6,497.1 916.6,494.7 916.6,497.4 917.6,494.8 917.6,497.2 918.6,494.7 918.6,497.2 919.6,494.4 919.6,497.3 920.6,494.4 920.6,497.2 921.6,494.7 921.6,496.6 922.6,494.5 922.6,496.6 923.6,494.3 923.6,496.6 924.7,494.0 924.7,496.8 925.7,494.2 925.7,496.4 926.7,494.0 926.7,496.5 927.7,494.1 927.7,496.3 928.7,493.8 928.7,496.5 929.7,493.5 929.7,496.6 930.7,493.4 930.7,496.5 931.7,494.0 931.7,495.7 932.7,493.3 932.7,496.2 933.7,493.6 933.7,495.7 934.7,493.3 934.7,495.7 935.7,493.5 935.7,495.3 936.7,493.3 936.7,495.4 937.7,493.2 937.7,495.3 938.7,493.0 938.7,495.4 939.7,492.7 939.7,495.6 940.7,492.6 940.7,495.6 941.7,492.4 941.7,495.6 942.7,492.7 942.7,495.1 943.7,492.8 943.7,494.8 944.7,492.7 944.7,494.7 945.7,492.3 945.7,495.0 946.7,492.4 946.7,494.8 947.7,492.5 947.7,494.5 948.7,492.4 948.7,494.5 949.8,492.1 949.8,494.6 950.8,492.0 950.8,494.7 951.8,492.0 951.8,494.6 952.8,491.6 952.8,494.7 953.8,491.5 953.8,494.6 954.8,491.8 954.8,494.2 955.8,491.9 955.8,493.9 956.8,491.6 956.8,494.1 957.8,491.4 957.8,494.1 958.8,491.3 958.8,494.1 959.8,491.3 959.8,493.9 960.8,491.6 960.8,493.4 961.8,490.9 961.8,493.9 962.8,490.9 962.8,493.7 963.8,491.0 963.8,493.4 964.8,490.8 964.8,493.4 965.8,491.0 965.8,493.0 966.8,490.9 966.8,492.9 967.8,490.9 967.8,492.7 968.8,490.6 968.8,492.8 969.8,490.1 969.8,493.1 970.8,490.3 970.8,492.6 971.8,490.2 971.8,492.5 972.8,490.0 972.8,492.5 973.8,489.8 973.8,492.5 974.9,490.0 974.9,492.1 975.9,490.1 975.9,491.9 976.9,489.5 976.9,492.5 977.9,489.8 977.9,492.0 978.9,489.5 978.9,492.0 979.9,489.6 979.9,491.7 980.9,489.6 980.9,491.5 981.9,489.2 981.9,491.6 982.9,489.0 982.9,491.6 983.9,489.0 983.9,491.5 984.9,489.1 984.9,491.2 985.9,489.2 985.9,491.0 986.9,488.8 986.9,491.3 987.9,488.5 987.9,491.5 988.9,488.6 988.9,491.3 989.9,488.3 989.9,491.3 991.0,488.4 991.0,491.0 992.0,488.5 992.0,490.6 993.0,488.3 993.0,490.5 994.0,487.7 994.0,490.7 995.0,487.9 995.0,490.3 996.0,487.7 996.0,490.1 997.0,487.9 997.0,489.7 998.0,487.5 998.0,489.9 999.0,487.7 999.0,489.4 1000.0,487.1 1000.0,490.1 1001.0,487.5 1001.0,489.7 1002.0,487.1 1002.0,490.1 1003.0,487.6 1003.0,489.5 1004.0,487.6 1004.0,489.5 1005.0,487.6 1005.0,489.4 1006.0,487.6 1006.0,489.4 1007.0,487.4 1007.0,489.6 1008.1,487.2 1008.1,489.8 1009.1,487.6 1009.1,489.4 1010.1,487.2 1010.1,489.8 1011.1,487.1 1011.1,489.9 1012.1,486.9 1012.1,489.7 1013.1,487.2 1013.1,489.1 1014.1,486.5 1014.1,489.5 1015.1,487.0 1015.1,488.9 1016.1,486.4 1016.1,489.3 1017.1,486.9 1017.1,488.7 1018.1,486.7 1018.1,488.8 1019.1,486.6 1019.1,488.8 1020.1,486.3 1020.1,489.2 1021.1,486.2 1021.1,489.2 1022.1,486.6 1022.1,488.6 1023.1,486.2 1023.1,489.0 1024.2,486.1 1024.2,489.0 1025.2,486.5 1025.2,488.5 1026.2,486.5 1026.2,488.4 1027.2,485.9 1027.2,488.9 1028.2,486.5 1028.2,488.2 1029.2,486.1 1029.2,488.5 1030.2,486.0 1030.2,488.6 1031.2,485.7 1031.2,488.7 1032.2,485.9 1032.2,488.5 1033.2,486.2 1033.2,488.0 1034.2,485.7 1034.2,488.4 1035.2,485.5 1035.2,488.4 1036.2,485.4 1036.2,488.3 1037.2,485.3 1037.2,488.2 1038.2,485.4 1038.2,488.0 1039.2,485.1 1039.2,488.0 1040.2,485.6 1040.2,487.3 1041.2,485.5 1041.2,487.2 1042.2,485.4 1042.2,487.1 1043.2,484.8 1043.2,487.6 1044.2,484.8 1044.2,487.4 1045.2,485.2 1045.2,487.0 1046.2,484.8 1046.2,487.2 1047.2,484.9 1047.2,487.0 1048.2,484.5 1048.2,487.2 1049.3,484.2 1049.3,487.3 1050.3,484.4 1050.3,487.0 1051.3,484.6 1051.3,486.6 1052.3,484.5 1052.3,486.5 1053.3,484.3 1053.3,486.6 1054.3,484.2 1054.3,486.6 1055.3,484.2 1055.3,486.5 1056.3,484.0 1056.3,486.6 1057.3,484.0 1057.3,486.4 1058.3,484.1 1058.3,486.2 1059.3,483.6 1059.3,486.5 1060.3,483.8 1060.3,486.2 1061.3,483.9 1061.3,485.8 1062.3,483.8 1062.3,485.8 1063.3,483.2 1063.3,486.2 1064.3,483.7 1064.3,485.5 1065.3,483.5 1065.3,485.5 1066.3,483.0 1066.3,486.0 1067.3,483.0 1067.3,485.8 1068.3,483.2 1068.3,485.5 1069.3,482.8 1069.3,485.9 1070.3,483.1 1070.3,485.4 1071.3,482.8 1071.3,485.7 1072.3,483.0 1072.3,485.4 1073.3,482.7 1073.3,485.6 1074.4,482.6 1074.4,485.6 1075.4,482.7 1075.4,485.4 1076.4,482.8 1076.4,485.2 1077.4,482.6 1077.4,485.3 1078.4,482.8 1078.4,485.0 1079.4,482.5 1079.4,485.2 1080.4,482.5 1080.4,485.0 1081.4,482.6 1081.4,484.9 1082.4,482.4 1082.4,485.0 1083.4,482.5 1083.4,484.7 1084.4,482.4 1084.4,484.8 1085.4,482.3 1085.4,484.8 1086.4,482.2 1086.4,484.8 1087.4,482.2 1087.4,484.7 1088.4,482.3 1088.4,484.5 1089.4,482.5 1089.4,484.2 1090.5,482.5 1090.5,484.1 1091.5,482.4 1091.5,484.1 1092.5,482.3 1092.5,484.1 1093.5,481.9 1093.5,484.4 1094.5,482.3 1094.5,483.9 1095.5,481.7 1095.5,484.3 1096.5,481.6 1096.5,484.3 1097.5,481.8 1097.5,483.9 1098.5,481.9 1098.5,483.7 1099.5,481.5 1099.5,483.8 1100.5,481.4 1100.5,483.6 1101.5,481.2 1101.5,483.5 1102.5,480.9 1102.5,483.4 1103.5,480.9 1103.5,483.1 1104.4,481.1 1104.4,482.7 1105.4,480.5 1105.4,482.9 1106.4,480.7 1106.4,482.5 1107.4,480.5 1107.4,482.4 1108.4,480.7 1108.4,481.9 1109.4,479.9 1109.4,482.4 1110.4,480.0 1110.4,482.0 1111.4,480.0 1111.4,481.8 1112.4,479.9 1112.4,481.6 1113.4,479.6 1113.4,481.7 1114.4,479.4 1114.4,481.6 1115.4,479.4 1115.4,481.4 1116.3,479.1 1116.3,481.3 1117.3,478.9 1117.3,481.3 1118.3,479.1 1118.3,480.9 1119.3,478.6 1119.3,481.0 1120.3,478.8 1120.3,480.6 1121.3,478.4 1121.3,480.7 1122.3,478.6 1122.3,480.1 1123.3,478.3 1123.3,480.2 1124.3,478.2 1124.3,479.9 1125.3,477.7 1125.3,480.2 1126.3,477.8 1126.3,479.8 1127.3,477.6 1127.3,479.6 1128.2,477.5 1128.2,479.4 1129.2,477.7 1129.2,478.9 1130.2,477.1 1130.2,479.4 1131.2,477.0 1131.2,479.2 1132.2,477.0 1132.2,479.0 1133.2,477.1 1133.2,478.8 1134.2,476.7 1134.2,479.0 1135.2,476.6 1135.2,479.0 1136.2,476.6 1136.2,478.8 1137.2,476.5 1137.2,478.7 1138.2,476.3 1138.2,478.8 1139.2,476.5 1139.2,478.4 1140.2,476.7 1140.2,478.1 1141.2,476.4 1141.2,478.3 1142.2,476.5 1142.2,478.1 1143.2,476.4 1143.2,478.1 1144.2,475.9 1144.2,478.4 1145.2,476.3 1145.2,477.8 1146.2,475.9 1146.2,478.0 1147.2,475.9 1147.2,477.9 1148.2,476.1 1148.2,477.5 1149.2,475.6 1149.2,477.9 1150.3,475.4 1150.3,477.9 1151.3,475.8 1151.3,477.4 1152.3,475.6 1152.3,477.5 1153.3,475.2 1153.3,477.8 1154.3,475.1 1154.3,477.7 1155.3,475.2 1155.3,477.5 1156.3,474.9 1156.3,477.6 1157.3,475.4 1157.3,477.0 1158.3,474.9 1158.3,477.4 1159.3,474.7 1159.3,477.2 1160.3,474.9 1160.3,476.8 1161.3,474.8 1161.3,476.7 1162.3,475.0 1162.3,476.4 1163.3,474.4 1163.3,476.8 1164.3,474.4 1164.3,476.8 1165.3,474.5 1165.3,476.4 1166.3,474.5 1166.3,476.3 1167.3,474.6 1167.3,476.2 1168.3,474.1 1168.3,476.8 1169.3,474.6 1169.3,476.2 1170.3,474.5 1170.3,476.3 1171.3,474.2 1171.3,476.6 1172.3,474.6 1172.3,476.2 1173.3,474.2 1173.3,476.6 1174.3,474.6 1174.3,476.2 1175.4,474.4 1175.4,476.4 1176.4,474.0 1176.4,476.7 1177.4,474.6 1177.4,476.2 1178.4,474.2 1178.4,476.7 1179.4,474.3 1179.4,476.7 1180.4,474.5 1180.4,476.5 1181.4,474.7 1181.4,476.3 1182.4,474.1 1182.4,476.9 1183.4,474.4 1183.4,476.6 1184.4,474.7 1184.4,476.3 1185.4,474.4 1185.4,476.6 1186.4,474.2 1186.4,476.8 1187.4,474.6 1187.4,476.3 1188.4,474.1 1188.4,476.8 1189.4,474.6 1189.4,476.4 1190.4,474.6 1190.4,476.4 1191.5,474.7 1191.5,476.3 1192.5,474.3 1192.5,476.7 1193.5,474.3 1193.5,476.8 1194.5,474.4 1194.5,476.7 1195.5,474.8 1195.5,476.4 1196.5,474.4 1196.5,477.0 1197.5,474.8 1197.5,476.5 1198.5,474.2 1198.5,477.0 1199.5,474.5 1199.5,476.7 1200.5,474.5 1200.5,476.5 1201.5,474.3 1201.5,476.7 1202.5,474.5 1202.5,476.3 1203.5,474.6 1203.5,476.2 1204.5,474.5 1204.5,476.2 1205.5,474.4 1205.5,476.2 1206.5,473.9 1206.5,476.5 1207.5,473.8 1207.5,476.6 1208.6,474.0 1208.6,476.2 1209.6,473.9 1209.6,476.2 1210.6,473.7 1210.6,476.3 1211.6,474.1 1211.6,475.7 1212.6,473.6 1212.6,476.1 1213.6,474.0 1213.6,475.6 1214.6,474.0 1214.6,475.5 1215.6,473.4 1215.6,476.0 1216.6,473.9 1216.6,475.3 1217.6,473.5 1217.6,475.7 1218.6,473.3 1218.6,475.7 1219.6,473.3 1219.6,475.7 1220.6,473.1 1220.6,475.8 1221.6,473.4 1221.6,475.4 1222.6,473.3 1222.6,475.5 1223.6,473.6 1223.6,475.1 1224.7,473.5 1224.7,475.1 1225.7,473.1 1225.7,475.3 1226.7,472.9 1226.7,475.4 1227.7,472.9 1227.7,475.3 1228.7,472.9 1228.7,475.2 1229.7,472.6 1229.7,475.3 1230.7,473.2 1230.7,474.6 1231.7,473.0 1231.7,474.7 1232.7,472.5 1232.7,475.0 1233.7,472.5 1233.7,474.9 1234.7,472.4 1234.7,474.9 1235.7,472.3 1235.7,474.8 1236.7,472.4 1236.7,474.8 1237.7,472.7 1237.7,474.5 1238.7,472.6 1238.7,474.5 1239.7,472.3 1239.7,474.8 1240.7,472.7 1240.7,474.4 1241.7,472.4 1241.7,474.6 1242.7,472.5 1242.7,474.5 1243.7,472.5 1243.7,474.4 1244.7,472.4 1244.7,474.3 1245.7,472.2 1245.7,474.3 1246.7,471.9 1246.7,474.5 1247.7,472.3 1247.7,473.9 1248.7,472.3 1248.7,473.8 1249.8,472.0 1249.8,474.0 1250.8,472.0 1250.8,473.8 1251.8,471.7 1251.8,474.0 1252.8,472.1 1252.8,473.5 1253.8,471.9 1253.8,473.6 1254.8,471.5 1254.8,473.9 1255.8,471.9 1255.8,473.4 1256.8,472.0 1256.8,473.2 1257.8,471.5 1257.8,473.7 1258.8,472.0 1258.8,473.2 1259.8,471.6 1259.8,473.5 1260.8,471.4 1260.8,473.7 1261.8,471.7 1261.8,473.2 1262.8,471.5 1262.8,473.3 1263.8,471.2 1263.8,473.5 1264.8,471.4 1264.8,473.1 1265.8,471.5 1265.8,472.8 1266.8,471.1 1266.8,472.8 1267.8,470.9 1267.8,472.5 1268.7,470.9 1268.7,472.0 1269.7,470.4 1269.7,472.1 1270.7,470.2 1270.7,471.8 1271.7,470.1 1271.7,471.5 1272.6,470.1 1272.6,471.2 1273.6,469.4 1273.6,471.4 1274.6,469.1 1274.6,471.2 1275.6,469.4 1275.6,470.5 1276.5,469.0 1276.5,470.5 1277.5,468.6 1277.5,470.4 1278.5,468.8 1278.5,469.8 1279.5,468.6 1279.5,469.6 1280.4,468.2 1280.4,469.6 1281.4,468.3 1281.4,469.1 1282.4,468.0 1282.4,469.0 1283.4,467.8 1283.4,468.9 1284.4,467.6 1284.4,469.1 1285.3,467.6 1285.3,469.0 1286.3,467.6 1286.3,468.8 1287.3,467.3 1287.3,468.9 1288.3,467.1 1288.3,468.8 1289.2,466.8 1289.2,468.7 1290.2,466.7 1290.2,468.5 1291.2,466.5 1291.2,468.4 1292.2,466.8 1292.2,467.8 1293.1,466.5 1293.1,467.8 1294.1,466.1 1294.1,467.9 1295.1,465.8 1295.1,467.9 1296.1,466.2 1296.1,467.2 1297.0,465.8 1297.0,467.4 1298.0,465.7 1298.0,467.2 1299.0,465.5 1299.0,467.2 1300.0,465.8 1300.0,466.8 1301.0,465.5 1301.0,467.1 1302.0,465.4 1302.0,467.3 1303.0,465.6 1303.0,467.0 1304.0,465.1 1304.0,467.3 1305.0,465.4 1305.0,466.9 1306.0,465.0 1306.0,467.3 1307.0,465.2 1307.0,466.9 1308.1,464.9 1308.1,467.2 1309.1,465.0 1309.1,467.0 1310.1,465.1 1310.1,466.8 1311.1,464.9 1311.1,467.0 1312.1,464.8 1312.1,467.0 1313.1,465.0 1313.1,466.8 1314.1,464.7 1314.1,466.9 1315.1,464.6 1315.1,466.8 1316.1,464.4 1316.1,466.9 1317.1,464.6 1317.1,466.6 1318.1,464.4 1318.1,466.7 1319.1,464.5 1319.1,466.5 1320.1,464.7 1320.1,466.3 1321.1,464.4 1321.1,466.6 1322.1,464.7 1322.1,466.3 1323.1,464.8 1323.1,466.1 1324.2,464.6 1324.2,466.3 1325.2,464.3 1325.2,466.6 1326.2,464.3 1326.2,466.6 1327.2,464.3 1327.2,466.4 1328.2,464.2 1328.2,466.3 1329.2,464.0 1329.2,466.4 1330.2,464.4 1330.2,465.8 1331.2,463.7 1331.2,466.2 1332.2,463.6 1332.2,466.1 1333.2,464.1 1333.2,465.4 1334.2,463.7 1334.2,465.9 1335.2,464.0 1335.2,465.6 1336.2,463.6 1336.2,466.0 1337.2,463.9 1337.2,465.7 1338.2,463.6 1338.2,465.9 1339.2,463.7 1339.2,465.7 1340.2,463.6 1340.2,465.7 1341.2,463.9 1341.2,465.3 1342.2,463.8 1342.2,465.4 1343.2,463.6 1343.2,465.5 1344.2,463.7 1344.2,465.3 1345.2,463.5 1345.2,465.5 1346.2,463.7 1346.2,465.2 1347.2,463.3 1347.2,465.6 1348.2,463.5 1348.2,465.4 1349.3,463.6 1349.3,465.4 1350.3,463.4 1350.3,465.5 1351.3,463.2 1351.3,465.8 1352.3,463.3 1352.3,465.7 1353.3,463.6 1353.3,465.3 1354.3,463.2 1354.3,465.7 1355.3,463.6 1355.3,465.2 1356.3,463.2 1356.3,465.6 1357.3,463.6 1357.3,465.2 1358.3,463.5 1358.3,465.3 1359.3,463.3 1359.3,465.5 1360.3,463.5 1360.3,465.3 1361.3,463.5 1361.3,465.3 1362.3,463.8 1362.3,465.1 1363.3,463.4 1363.3,465.5 1364.3,463.2 1364.3,465.7 1365.3,463.3 1365.3,465.6 1366.3,463.8 1366.3,465.1 1367.3,463.2 1367.3,465.7 1368.3,463.4 1368.3,465.5 1369.3,463.3 1369.3,465.5 1370.3,463.5 1370.3,465.2 1371.3,463.4 1371.3,465.2 1372.3,463.1 1372.3,465.4 1373.3,463.0 1373.3,465.4 1374.4,463.3 1374.4,465.0 1375.4,463.4 1375.4,464.7 1376.4,462.9 1376.4,465.2 1377.4,462.7 1377.4,465.2 1378.4,462.7 1378.4,465.1 1379.4,463.2 1379.4,464.6 1380.4,462.9 1380.4,464.8 1381.4,462.9 1381.4,464.7 1382.4,463.2 1382.4,464.3 1383.4,462.6 1383.4,464.9 1384.4,463.1 1384.4,464.4 1385.4,462.5 1385.4,464.9 1386.4,462.9 1386.4,464.5 1387.4,462.7 1387.4,464.6 1388.4,462.4 1388.4,464.9 1389.4,462.6 1389.4,464.7 1390.5,462.9 1390.5,464.4 1391.5,463.0 1391.5,464.4 1392.5,462.7 1392.5,464.7 1393.5,462.5 1393.5,465.0 1394.5,462.6 1394.5,464.9 1395.5,462.4 1395.5,465.0 1396.5,462.8 1396.5,464.7 1397.5,463.1 1397.5,464.4 1398.5,462.9 1398.5,464.5 1399.5,462.8 1399.5,464.6 1400.5,462.7 1400.5,464.7 1401.5,462.6 1401.5,464.9 1402.5,462.4 1402.5,465.0 1403.5,462.5 1403.5,464.8 1404.4,462.4 1404.4,464.8 1405.4,462.5 1405.4,464.6 1406.4,462.4 1406.4,464.5 1407.4,462.8 1407.4,464.0 1408.4,462.1 1408.4,464.6 1409.4,462.5 1409.4,464.1 1410.4,462.1 1410.4,464.4 1411.4,462.0 1411.4,464.4 1412.4,462.0 1412.4,464.1 1413.4,461.8 1413.4,464.1 1414.4,462.0 1414.4,463.7 1415.4,461.7 1415.4,463.9 1416.3,462.0 1416.3,463.5 1417.3,461.8 1417.3,463.5 1418.3,461.8 1418.3,463.5 1419.3,461.9 1419.3,463.4 1420.3,461.8 1420.3,463.6 1421.3,461.7 1421.3,463.7 1422.3,461.7 1422.3,463.8 1423.3,461.5 1423.3,463.9 1424.3,462.0 1424.3,463.4 1425.3,461.8 1425.3,463.5 1426.3,461.5 1426.3,463.8 1427.3,462.0 1427.3,463.1 1428.2,461.7 1428.2,463.3 1429.2,461.7 1429.2,463.2 1430.2,461.5 1430.2,463.2 1431.2,461.2 1431.2,463.3 1432.2,461.7 1432.2,462.6 1433.2,461.1 1433.2,463.1 1434.2,461.1 1434.2,462.9 1435.2,460.8 1435.2,462.9 1436.2,460.7 1436.2,462.7 1437.2,461.0 1437.2,462.0 1438.2,460.8 1438.2,461.8 1439.2,460.7 1439.2,461.6 1440.2,460.0 1440.2,462.0 1441.2,459.9 1441.2,461.9 1442.2,460.2 1442.2,461.3 1443.2,459.6 1443.2,461.5 1444.2,459.8 1444.2,461.1 1445.2,459.7 1445.2,460.9 1446.2,459.2 1446.2,461.1 1447.2,459.3 1447.2,460.7 1448.2,459.1 1448.2,460.6 1449.2,459.4 1449.2,460.1 1450.3,459.0 1450.3,460.2 1451.3,459.0 1451.3,459.9 1452.3,458.9 1452.3,459.7 1453.3,458.4 1453.3,459.9 1454.3,458.5 1454.3,459.6 1455.3,458.1 1455.3,459.9 1456.3,458.6 1456.3,459.2 1457.3,458.0 1457.3,459.7 1458.3,457.8 1458.3,459.6 1459.3,458.1 1459.3,459.0 1460.3,457.8 1460.3,459.0 1461.3,457.8 1461.3,458.7 1462.3,457.5 1462.3,458.8 1463.3,457.4 1463.3,458.6 1464.3,456.9 1464.3,458.8 1465.3,457.2 1465.3,458.3 1466.3,456.9 1466.3,458.3 1467.3,457.2 1467.3,458.0 1468.3,456.5 1468.3,458.7 1469.3,456.5 1469.3,458.6 1470.3,456.9 1470.3,458.2 1471.3,457.1 1471.3,458.0 1472.3,456.7 1472.3,458.4 1473.3,456.8 1473.3,458.2 1474.3,456.7 1474.3,458.3 1475.4,456.6 1475.4,458.4 1476.4,456.6 1476.4,458.3 1477.4,456.4 1477.4,458.4 1478.4,456.5 1478.4,458.2 1479.4,456.5 1479.4,458.1 1480.4,456.5 1480.4,457.9 1481.4,456.4 1481.4,457.9 1482.4,456.0 1482.4,458.2 1483.4,455.8 1483.4,458.2 1484.4,455.9 1484.4,458.0 1485.4,456.0 1485.4,457.8 1486.4,455.8 1486.4,457.8 1487.4,456.0 1487.4,457.5 1488.4,455.9 1488.4,457.5 1489.4,455.8 1489.4,457.5 1490.4,455.8 1490.4,457.4 1491.5,456.0 1491.5,457.2 1492.5,455.3 1492.5,457.8 1493.5,455.5 1493.5,457.5 1494.5,455.4 1494.5,457.5 1495.5,455.4 1495.5,457.5 1496.5,455.6 1496.5,457.3 1497.5,455.8 1497.5,457.1 1498.5,455.5 1498.5,457.4 1499.5,455.5 1499.5,457.4 1500.5,455.5 1500.5,457.5 1501.5,455.6 1501.5,457.4 1502.5,455.5 1502.5,457.6 1503.5,455.9 1503.5,457.3 1504.5,455.6 1504.5,457.6 1505.5,456.0 1505.5,457.3 1506.5,455.8 1506.5,457.3 1507.5,455.5 1507.5,457.5 1508.5,455.4 1508.5,457.5 1509.5,455.4 1509.5,457.5 1510.5,455.3 1510.5,457.4 1511.5,455.6 1511.5,457.1 1512.4,455.6 1512.4,457.0 1513.4,455.7 1513.4,457.0 1514.4,455.3 1514.4,457.4 1515.4,455.7 1515.4,456.9 1516.4,455.5 1516.4,457.1 1517.4,455.4 1517.4,457.1 1518.4,455.5 1518.4,457.0 1519.4,455.4 1519.4,457.0 1520.4,455.2 1520.4,457.1 1521.4,455.3 1521.4,456.9 1522.4,455.5 1522.4,456.7 1523.4,455.5 1523.4,456.6 1524.4,455.5 1524.4,456.4 1525.4,455.0 1525.4,456.8 1526.4,455.4 1526.4,456.3 1527.4,455.3 1527.4,456.3 1528.4,454.9 1528.4,456.8 1529.4,455.4 1529.4,456.5 1530.4,455.5 1530.4,456.4 1531.4,455.0 1531.4,456.9 1532.4,455.3 1532.4,456.6 1533.4,455.5 1533.4,456.3 1534.4,455.1 1534.4,456.7 1535.4,455.4 1535.4,456.3 1536.4,455.5 1536.4,456.3 1537.3,455.1 1537.3,456.6 1538.3,454.9 1538.3,456.8 1539.3,455.0 1539.3,456.7 1540.3,455.4 1540.3,456.3 1541.3,455.1 1541.3,456.3 1542.3,454.9 1542.3,456.3 1543.3,454.5 1543.3,456.6 1544.3,454.8 1544.3,456.2 1545.3,454.8 1545.3,456.1 1546.3,454.6 1546.3,456.3 1547.3,454.8 1547.3,456.1 1548.3,454.5 1548.3,456.3 1549.3,454.4 1549.3,456.4 1550.3,454.5 1550.3,456.4 1551.3,454.5 1551.3,456.4 1552.3,454.6 1552.3,456.2 1553.3,454.9 1553.3,455.9 1554.3,454.9 1554.3,455.9 1555.3,454.5 1555.3,456.3 1556.3,454.8 1556.3,456.1 1557.3,454.4 1557.3,456.5 1558.2,454.7 1558.2,456.2 1559.2,454.9 1559.2,456.1 1560.2,454.9 1560.2,456.1 1561.2,454.5 1561.2,456.5 1562.2,454.9 1562.2,456.2 1563.2,454.4 1563.2,456.7 1564.2,454.9 1564.2,456.1 1565.2,455.0 1565.2,456.0 1566.2,454.9 1566.2,456.2 1567.2,454.9 1567.2,456.2 1568.2,454.4 1568.2,456.7 1569.2,454.5 1569.2,456.6 1570.2,454.5 1570.2,456.6 1571.2,454.5 1571.2,456.6 1572.2,455.0 1572.2,456.1 1573.2,455.0 1573.2,456.1 1574.2,455.0 1574.2,456.1 1575.1,454.7 1575.1,456.3 1576.1,454.4 1576.1,456.7 1577.1,454.7 1577.1,456.4 1578.1,454.4 1578.1,456.7 1579.1,455.0 1579.1,456.1 1580.1,454.5 1580.1,456.5 1581.1,454.5 1581.1,456.5 1582.1,455.0 1582.1,456.0 1583.1,454.5 1583.1,456.6 1584.1,455.0 1584.1,456.1 1585.1,454.5 1585.1,456.5 1586.1,454.8 1586.1,456.2 1587.1,454.4 1587.1,456.6 1588.1,455.0 1588.1,456.1 1589.1,454.6 1589.1,456.4 1590.1,454.6 1590.1,456.4 1591.0,454.8 1591.0,456.2 1592.0,454.7 1592.0,456.3 1593.0,454.5 1593.0,456.5 1594.0,454.5 1594.0,456.7 1595.0,454.6 1595.0,456.7 1596.0,454.7 1596.0,456.6 1597.0,455.0 1597.0,456.4 1598.0,454.7 1598.0,456.7 1599.0,454.6 1599.0,456.8 1600.0,455.1 1600.0,456.3 1601.0,454.9 1601.0,456.3 1602.0,454.5 1602.0,456.6 1603.0,455.0 1603.0,456.0 1604.0,454.7 1604.0,456.1 1605.0,454.3 1605.0,456.4 1606.0,454.5 1606.0,456.1 1607.0,454.3 1607.0,456.3 1608.1,454.2 1608.1,456.3 1609.1,454.7 1609.1,455.8 1610.1,454.4 1610.1,456.0 1611.1,454.7 1611.1,455.6 1612.1,454.2 1612.1,455.9 1613.1,454.6 1613.1,455.5 1614.1,454.1 1614.1,455.9 1615.1,454.2 1615.1,455.6 1616.1,454.1 1616.1,455.5 1617.1,454.2 1617.1,455.3 1618.1,454.2 1618.1,455.2 1619.1,454.3 1619.1,455.0 1620.1,453.8 1620.1,455.4 1621.1,453.9 1621.1,455.2 1622.1,453.8 1622.1,455.2 1623.1,453.4 1623.1,455.5 1624.2,453.5 1624.2,455.4 1625.2,453.6 1625.2,455.2 1626.2,453.5 1626.2,455.2 1627.2,453.7 1627.2,454.9 1628.2,453.7 1628.2,454.8 1629.2,453.4 1629.2,455.1 1630.2,453.7 1630.2,454.7 1631.2,453.3 1631.2,454.8 1632.2,452.9 1632.2,454.9 1633.2,452.9 1633.2,454.6 1634.2,452.9 1634.2,454.4 1635.2,452.5 1635.2,454.5 1636.2,452.9 1636.2,454.0 1637.2,453.1 1637.2,453.7 1638.2,452.5 1638.2,454.2 1639.2,452.7 1639.2,453.8 1640.2,452.6 1640.2,453.9 1641.2,452.4 1641.2,453.9 1642.2,452.5 1642.2,453.8 1643.2,452.1 1643.2,454.1 1644.2,452.3 1644.2,453.7 1645.2,452.2 1645.2,453.6 1646.2,452.2 1646.2,453.4 1647.2,452.2 1647.2,453.2 1648.2,451.7 1648.2,453.6 1649.3,451.7 1649.3,453.5 1650.3,451.6 1650.3,453.6 1651.3,451.5 1651.3,453.5 1652.3,451.6 1652.3,453.3 1653.3,451.8 1653.3,452.9 1654.3,451.2 1654.3,453.3 1655.3,451.4 1655.3,453.0 1656.3,451.1 1656.3,453.1 1657.3,451.5 1657.3,452.5 1658.3,451.4 1658.3,452.5 1659.3,451.0 1659.3,452.7 1660.3,451.0 1660.3,452.6 1661.3,450.8 1661.3,452.5 1662.3,451.1 1662.3,452.0 1663.3,451.0 1663.3,452.0 1664.3,450.8 1664.3,452.0 1665.3,450.7 1665.3,452.0 1666.3,450.2 1666.3,452.4 1667.3,450.7 1667.3,451.9 1668.3,450.4 1668.3,452.1 1669.3,450.6 1669.3,451.8 1670.3,450.3 1670.3,452.1 1671.3,450.4 1671.3,451.9 1672.3,450.2 1672.3,451.9 1673.3,450.2 1673.3,451.9 1674.4,450.3 1674.4,451.7 1675.4,450.4 1675.4,451.5 1676.4,449.9 1676.4,451.9 1677.4,450.1 1677.4,451.6 1678.4,449.7 1678.4,451.9 1679.4,450.1 1679.4,451.4 1680.4,449.9 1680.4,451.5 1681.4,449.7 1681.4,451.7 1682.4,450.0 1682.4,451.3 1683.4,449.5 1683.4,451.7 1684.4,450.0 1684.4,451.2 1685.4,449.7 1685.4,451.4 1686.4,449.5 1686.4,451.6 1687.4,449.5 1687.4,451.5 1688.4,449.7 1688.4,451.1 1689.4,449.2 1689.4,451.5 1690.5,449.7 1690.5,450.8 1691.5,449.4 1691.5,450.9 1692.5,449.3 1692.5,450.9 1693.5,449.1 1693.5,450.9 1694.5,449.4 1694.5,450.5 1695.5,449.0 1695.5,450.8 1696.5,448.7 1696.5,450.9 1697.5,448.6 1697.5,450.9 1698.5,448.7 1698.5,450.7 1699.5,448.9 1699.5,450.5 1700.5,448.7 1700.5,450.6 1701.4,449.0 1701.4,450.2 1702.4,448.8 1702.4,450.4 1703.4,448.7 1703.4,450.5 1704.4,448.8 1704.4,450.4 1705.3,448.7 1705.3,450.4 1706.3,448.7 1706.3,450.4 1707.3,448.6 1707.3,450.4 1708.3,448.6 1708.3,450.3 1709.2,448.5 1709.2,450.3 1710.2,448.6 1710.2,450.0 1711.2,448.8 1711.2,450.0 1712.2,448.2 1712.2,450.6 1713.2,448.7 1713.2,450.2 1714.1,448.7 1714.1,450.1 1715.1,448.7 1715.1,450.1 1716.1,448.3 1716.1,450.3 1717.1,448.1 1717.1,450.4 1718.0,448.5 1718.0,449.8 1719.0,448.4 1719.0,449.8 1720.0,448.5 1720.0,449.6 1721.0,448.4 1721.0,449.5 1722.0,447.9 1722.0,449.9 1723.0,448.3 1723.0,449.4 1724.1,448.3 1724.1,449.4 1725.1,448.1 1725.1,449.6 1726.1,447.8 1726.1,449.9 1727.1,447.7 1727.1,449.6 1728.1,447.5 1728.1,449.7 1729.2,447.7 1729.2,449.4 1730.2,447.4 1730.2,449.7 1731.2,447.6 1731.2,449.5 1732.2,447.5 1732.2,449.5 1733.2,447.8 1733.2,449.3 1734.2,448.0 1734.2,449.1 1735.2,447.8 1735.2,449.3 1736.3,447.9 1736.3,449.2 1737.3,447.5 1737.3,449.7 1738.3,447.7 1738.3,449.5 1739.3,447.7 1739.3,449.4 1740.3,447.5 1740.3,449.5 1741.4,448.0 1741.4,449.0 1742.4,447.6 1742.4,449.3 1743.4,447.4 1743.4,449.4 1744.4,448.7"/>
<polyline stroke="#008080" marker-start="url(#mD)" marker-mid="url(#mD)" marker-end="url(#mD)" points="322.5,450.7 322.5,453.0 322.5,456.0 322.6,468.2 322.8,544.0 322.9,560.1 323.0,577.0 323.0,591.9 323.0,601.5 323.1,620.0 323.6,621.1 323.6,620.6 324.1,622.1 324.1,621.3 324.6,623.3 324.6,621.9 325.1,624.2 325.1,622.7 325.6,624.7 325.6,624.0 326.1,625.8 326.1,624.7 326.6,626.2 326.6,626.1 327.1,627.8 327.1,626.4 327.6,628.4 327.6,627.6 328.1,629.4 328.1,628.4 328.6,630.0 328.6,629.6 329.1,630.9 329.1,630.5 329.6,632.2 329.6,631.0 329.9,632.6 329.9,632.5 330.2,634.2 330.2,632.8 330.5,634.7 330.5,634.1 330.8,636.1 330.8,634.9 331.0,637.0 331.0,636.0 331.3,637.8 331.3,637.2 331.6,638.8 331.6,638.3 331.9,639.6 331.9,639.3 332.2,640.6 332.2,640.3 332.5,642.1 332.5,640.7 332.8,642.7 332.8,642.1 333.1,643.6 333.1,643.1 333.4,644.7 333.4,643.9 333.6,645.8 333.6,644.6 333.9,646.6 333.9,645.7 334.2,647.8 334.2,646.4 334.5,648.1 334.5,648.0 334.8,649.1 334.8,648.8 335.1,650.3 335.1,649.6 335.3,651.5 335.3,650.4 335.6,652.0 335.6,651.8 335.8,653.4 335.8,652.3 336.1,654.0 336.1,653.6 336.3,655.4 336.3,654.2 336.6,656.2 336.6,655.3 336.8,657.2 336.8,656.1 337.1,658.1 337.1,657.2 337.4,659.2 337.4,658.0 337.6,660.2 337.6,659.0 337.9,660.7 337.9,660.4 338.1,662.2 338.1,660.8 338.4,662.9 338.4,662.1 338.6,663.5 338.6,663.4 338.9,664.8 338.9,664.0 339.1,665.7 339.1,665.1 339.4,666.6 339.4,666.1 339.6,668.0 339.6,666.7 339.9,668.6 339.9,668.0 340.1,670.0 340.1,668.6 340.3,670.3 340.3,670.1 340.5,671.5 340.5,670.9 340.7,672.6 340.7,671.7 340.9,673.7 340.9,672.4 341.1,674.5 341.1,673.6 341.3,675.3 341.3,674.6 341.5,676.2 341.5,675.6 341.7,677.5 341.7,676.3 342.0,678.4 342.0,677.3 342.2,678.9 342.2,678.6 342.4,680.0 342.4,679.3 342.6,680.6 342.6,680.4 342.8,682.1 342.8,680.7 343.0,682.4 343.0,682.2 343.2,683.8 343.2,682.7 343.4,684.9 343.4,683.4 343.6,685.6 343.6,684.6 343.8,686.7 343.8,685.3 344.0,687.1 344.0,686.9 344.3,688.5 344.3,687.4 344.5,689.3 344.5,688.7 344.7,690.5 344.7,689.4 344.9,691.5 344.9,690.4 345.2,692.5 345.2,691.4 345.4,693.6 345.4,692.3 345.6,694.2 345.6,693.6 345.9,695.1 345.9,694.8 346.1,696.7 346.1,695.3 346.3,697.4 346.3,696.8 346.6,698.3 346.6,698.0 346.8,699.7 346.8,698.6 347.0,700.8 347.0,699.6 347.2,701.6 347.2,700.9 347.5,702.9 347.5,701.6 347.7,703.6 347.7,702.9 347.9,704.7 347.9,703.7 348.2,705.7 348.2,704.8 348.4,706.7 348.4,705.7 348.6,707.4 348.6,707.0 348.8,708.3 348.8,708.2 349.1,709.6 349.1,708.9 349.3,710.6 349.3,709.7 349.5,711.8 349.5,710.6 349.8,712.3 349.8,712.1 350.0,713.8 350.0,712.5 350.2,714.9 350.2,713.4 350.5,715.4 350.5,714.9 350.7,716.5 350.7,715.8 350.9,717.2 350.9,717.0 351.1,718.4 351.1,717.8 351.4,719.5 351.4,718.7 351.6,720.4 351.6,719.7 352.0,721.5 352.0,720.5 352.3,722.6 352.3,721.2 352.7,723.0 352.7,722.7 353.1,724.3 353.1,723.2 353.5,725.3 353.5,724.1 353.8,726.2 353.8,725.0 354.2,727.0 354.2,726.1 354.6,727.8 354.6,727.0 354.9,728.9 354.9,727.8 355.3,729.7 355.3,728.8 355.7,730.5 355.7,729.9 356.1,731.6 356.1,730.7 356.4,732.6 356.4,731.4 356.8,733.6 356.8,732.3 357.8,733.7 357.8,732.2 358.8,733.5 358.8,732.4 359.8,733.3 359.8,732.6 360.8,733.2 360.8,732.7 361.9,733.4 361.9,732.5 362.9,733.5 362.9,732.4 363.9,733.5 363.9,732.4 364.9,733.1 364.9,732.8 365.9,733.5 365.9,732.4 366.8,733.3 366.8,732.0 367.7,732.8 367.7,732.1 368.6,732.2 368.6,732.1 369.6,732.2 369.6,731.6 370.5,732.2 370.5,730.9 371.4,731.9 371.4,730.7 372.3,731.1 372.3,730.8 373.2,731.2 373.2,730.9 374.2,731.2 374.2,731.0 375.1,731.7 375.1,730.7 376.0,731.6 376.0,731.0 376.9,731.6 376.9,731.2 377.9,731.8 377.9,731.2 378.8,731.8 378.8,731.4 379.6,731.3 379.6,730.6 380.4,730.6 380.4,730.2 381.1,730.3 381.1,729.3 381.9,729.7 381.9,728.7 382.7,729.0 382.7,728.2 383.5,728.1 383.5,727.8 384.3,727.9 384.3,726.7 385.0,727.0 385.0,726.4 385.8,726.6 385.8,725.4 386.6,725.9 386.6,724.9 387.3,725.0 387.3,724.4 388.1,724.2 388.1,723.8 388.8,723.9 388.8,722.7 389.5,722.8 389.5,722.5 390.2,722.1 390.2,721.8 391.0,721.5 391.0,721.0 391.7,721.0 391.7,720.1 392.4,720.3 392.4,719.4 393.1,719.6 393.1,718.7 393.9,718.9 393.9,718.0 394.6,717.7 394.6,717.3 395.3,717.2 395.3,716.0 396.1,716.3 396.1,715.0 396.8,715.3 396.8,714.6 397.5,714.9 397.5,713.7 398.2,714.2 398.2,713.2 399.0,713.4 399.0,713.0 399.7,713.3 399.7,712.3 400.5,713.2 400.5,711.9 401.3,713.2 401.3,711.7 402.1,712.4 402.1,712.2 402.8,712.6 402.8,711.5 403.6,711.9 403.6,711.6 404.4,711.6 404.4,711.1 405.2,711.4 405.2,710.5 406.0,710.9 406.0,710.1 406.8,710.8 406.8,709.3 407.5,710.3 407.5,708.7 408.3,709.3 408.3,708.5 409.1,708.7 409.1,707.8 409.9,707.8 409.9,707.4 410.8,707.3 410.8,706.5 411.6,706.9 411.6,705.4 412.4,706.0 412.4,704.8 413.3,704.9 413.3,704.3 414.1,704.4 414.1,703.4 415.0,703.7 415.0,702.4 415.8,703.3 415.8,701.7 416.7,702.2 416.7,701.8 417.5,702.1 417.5,700.9 418.3,701.8 418.3,700.2 419.2,700.8 419.2,700.3 420.0,700.8 420.0,699.5 420.8,700.0 420.8,699.2 421.6,699.3 421.6,698.7 422.4,699.1 422.4,697.8 423.2,698.3 423.2,697.4 424.1,697.6 424.1,697.0 424.9,697.2 424.9,696.2 425.7,696.7 425.7,695.6 426.5,695.9 426.5,695.3 427.3,695.3 427.3,694.7 428.1,695.2 428.1,693.7 428.9,694.1 428.9,693.7 429.7,693.9 429.7,692.7 430.5,693.3 430.5,692.2 431.3,692.3 431.3,692.0 432.1,692.0 432.1,691.1 432.9,691.1 432.9,690.8 433.7,691.0 433.7,689.8 434.5,690.4 434.5,689.1 435.3,689.5 435.3,688.7 436.1,689.0 436.1,687.9 436.9,688.2 436.9,687.4 437.7,687.2 437.7,687.0 438.6,686.7 438.6,686.2 439.4,686.5 439.4,685.0 440.2,685.5 440.2,684.5 441.0,684.7 441.0,683.9 441.8,684.0 441.8,683.2 442.6,683.2 442.6,682.7 443.4,682.7 443.4,681.9 444.2,682.3 444.2,680.9 445.0,681.5 445.0,680.4 445.8,680.4 445.8,680.1 446.6,680.1 446.6,679.1 447.4,679.1 447.4,678.7 448.2,678.3 448.2,678.2 449.0,677.9 449.0,677.3 449.8,677.3 449.8,676.7 450.6,676.8 450.6,676.1 451.4,676.5 451.4,675.4 452.2,675.5 452.2,675.3 453.1,675.3 453.1,674.4 453.9,674.5 453.9,674.2 454.7,674.5 454.7,673.6 455.5,674.2 455.5,673.2 456.3,673.7 456.3,672.9 457.1,673.4 457.1,672.2 457.9,673.0 457.9,671.6 458.7,672.2 458.7,671.3 459.5,671.4 459.5,671.0 460.4,671.4 460.4,670.0 461.2,670.8 461.2,669.5 462.0,670.1 462.0,669.0 462.8,669.5 462.8,668.5 463.6,669.0 463.6,667.9 464.4,668.7 464.4,667.0 465.2,667.7 465.2,666.9 466.0,667.6 466.0,665.8 466.8,666.6 466.8,665.5 467.6,666.0 467.6,664.8 468.4,665.3 468.4,664.2 469.2,665.2 469.2,663.0 470.0,664.5 470.0,662.3 470.8,663.5 470.8,661.9 471.6,663.1 471.6,661.0 472.4,662.4 472.4,660.3 473.2,662.0 473.2,659.4 474.0,661.3 474.0,658.6 474.9,660.0 474.9,658.5 475.7,659.4 475.7,657.7 476.5,658.8 476.5,656.9 477.3,658.1 477.3,656.2 478.1,657.3 478.1,655.5 479.0,657.4 479.0,654.5 479.9,656.7 479.9,654.3 480.8,656.4 480.8,653.8 481.8,655.9 481.8,653.4 482.7,655.3 482.7,653.2 483.6,655.0 483.6,652.7 484.5,654.6 484.5,652.5 485.4,654.8 485.4,651.6 486.4,654.2 486.4,651.7 487.5,653.9 487.5,651.5 488.5,653.7 488.5,651.4 489.5,653.6 489.5,651.2 490.5,653.4 490.5,651.2 491.6,653.6 491.6,650.8 492.6,653.1 492.6,651.2 493.5,653.2 493.5,650.6 494.4,652.7 494.4,650.5 495.3,652.2 495.3,650.4 496.2,652.0 496.2,650.0 497.2,651.6 497.2,649.7 498.1,651.3 498.1,649.1 499.0,650.9 499.0,648.8 499.9,650.6 499.9,648.4 500.7,649.8 500.7,648.1 501.5,649.5 501.5,647.3 502.3,648.6 502.3,647.1 503.1,648.5 503.1,646.1 503.9,647.9 503.9,645.6 504.7,647.1 504.7,645.1 505.5,646.8 505.5,644.2 506.3,645.7 506.3,644.0 507.1,645.3 507.1,643.0 507.9,644.6 507.9,642.4 508.7,643.7 508.7,641.9 509.5,643.3 509.5,640.8 510.3,642.5 510.3,640.1 511.2,642.0 511.2,639.1 512.0,640.9 512.0,638.6 512.8,640.0 512.8,638.4 513.6,639.4 513.6,637.7 514.4,639.0 514.4,636.8 515.3,638.6 515.3,636.1 516.2,638.2 516.2,635.4 517.1,637.5 517.1,635.0 518.0,637.0 518.0,634.5 519.0,636.0 519.0,634.5 519.9,635.4 519.9,634.0 520.8,635.0 520.8,633.5 521.7,634.9 521.7,632.6 522.6,634.4 522.6,632.3 523.5,633.9 523.5,632.0 524.4,633.0 524.4,632.1 525.3,633.1 525.3,631.2 526.2,632.3 526.2,631.3 527.1,632.0 527.1,630.8 528.0,631.7 528.0,630.4 528.9,631.0 528.9,630.4 529.8,631.0 529.8,629.4 530.7,630.3 530.7,629.1 531.6,630.1 531.6,628.4 532.5,629.6 532.5,627.8 533.5,629.1 533.5,627.3 534.4,628.3 534.4,626.7 535.3,627.2 535.3,626.5 536.2,626.7 536.2,625.8 537.1,626.3 537.1,625.2 538.0,625.7 538.0,624.8 538.9,625.6 538.9,624.0 539.9,625.2 539.9,623.6 540.8,624.6 540.8,623.4 541.7,624.4 541.7,622.9 542.6,623.7 542.6,623.0 543.5,623.8 543.5,622.3 544.3,623.1 544.3,622.0 545.1,622.9 545.1,621.3 545.9,621.8 545.9,621.5 546.7,621.8 546.7,620.5 547.5,621.2 547.5,620.2 548.3,620.8 548.3,619.6 549.1,620.3 549.1,619.2 549.9,619.6 549.9,618.8 550.7,619.1 550.7,618.2 551.5,618.9 551.5,617.7 552.2,618.4 552.2,617.4 553.0,617.7 553.0,617.2 553.7,617.1 553.7,616.8 554.5,616.9 554.5,615.9 555.2,616.3 555.2,615.3 556.0,615.6 556.0,614.7 556.7,615.2 556.7,613.7 557.5,613.9 557.5,613.5 558.2,613.7 558.2,612.1 559.0,612.3 559.0,612.0 559.6,612.0 559.6,610.4 560.1,611.1 560.1,609.5 560.7,609.7 560.7,609.0 561.3,608.9 561.3,608.0 561.9,608.4 561.9,606.3 562.4,606.8 562.4,605.8 563.0,606.1 563.0,604.5 564.0,605.6 564.0,604.4 565.0,605.7 565.0,603.8 566.0,605.3 566.0,603.7 567.0,605.0 567.0,603.5 568.0,605.0 568.0,603.1 569.0,604.9 569.0,602.9 570.0,605.0 570.0,602.5 571.0,605.1 571.0,602.3 572.0,604.8 572.0,602.4 573.0,605.0 573.0,602.2 573.9,604.9 573.9,602.3 574.9,604.6 574.9,602.7 575.9,605.0 575.9,602.3 576.9,604.7 576.9,602.7 577.9,605.4 577.9,602.2 578.9,605.1 578.9,602.6 579.9,605.3 579.9,602.4 580.9,604.9 580.9,602.8 581.9,605.1 581.9,602.6 582.9,605.3 582.9,602.4 583.9,604.8 583.9,602.7 584.9,604.9 584.9,602.4 585.8,605.1 585.8,602.2 586.8,604.7 586.8,602.4 587.8,604.6 587.8,602.4 588.8,604.5 588.8,602.4 589.7,604.4 589.7,602.4 590.7,604.5 590.7,602.2 591.7,604.5 591.7,602.2 592.7,604.5 592.7,602.2 593.6,604.5 593.6,602.2 594.6,604.2 594.6,602.5 595.6,604.6 595.6,602.2 596.6,604.8 596.6,602.1 597.5,604.3 597.5,602.6 598.5,604.5 598.5,602.6 599.5,604.5 599.5,602.7 600.4,604.5 600.4,602.2 601.3,603.7 601.3,602.4 602.3,603.6 602.3,601.9 603.2,603.1 603.2,601.8 604.1,603.0 604.1,601.2 605.0,602.5 605.0,601.1 606.0,602.0 606.0,600.9 606.9,601.4 606.9,600.9 607.8,601.1 607.8,600.6 608.7,600.7 608.7,600.3 609.6,600.8 609.6,599.4 610.6,600.3 610.6,599.1 611.5,599.9 611.5,598.8 612.4,599.0 612.4,598.9 613.3,598.7 613.3,598.4 614.3,598.2 614.3,598.1 615.2,598.5 615.2,597.1 616.1,597.7 616.1,597.2 617.1,597.7 617.1,596.5 618.1,597.4 618.1,596.3 619.0,596.8 619.0,596.3 620.0,596.7 620.0,595.7 621.0,596.0 621.0,595.9 622.0,595.7 622.0,595.4 622.9,595.6 622.9,595.0 623.9,595.4 623.9,594.5 624.9,595.3 624.9,594.0 625.9,594.8 625.9,593.9 626.8,594.7 626.8,593.3 627.8,594.3 627.8,593.1 628.8,593.8 628.8,593.1 629.8,593.4 629.8,592.8 630.7,593.1 630.7,592.3 631.7,593.0 631.7,591.8 632.7,592.9 632.7,591.2 633.7,592.8 633.7,590.9 634.7,592.0 634.7,591.3 635.7,591.8 635.7,591.1 636.7,592.1 636.7,590.4 637.7,591.6 637.7,590.5 638.7,591.7 638.7,590.1 639.7,591.4 639.7,590.0 640.7,591.1 640.7,590.0 641.7,591.3 641.7,589.4 642.7,591.0 642.7,589.4 643.7,591.1 643.7,589.0 644.7,590.8 644.7,589.0 645.7,591.0 645.7,588.6 646.7,590.7 646.7,588.6 647.7,590.6 647.7,588.4 648.7,590.0 648.7,588.7 649.8,590.4 649.8,588.1 650.8,589.9 650.8,588.4 651.8,590.2 651.8,587.8 652.8,589.5 652.8,588.3 653.8,589.5 653.8,587.9 654.8,589.1 654.8,587.9 655.8,589.4 655.8,587.2 656.8,589.3 656.8,587.0 657.8,588.9 657.8,587.2 658.8,588.6 658.8,587.1 659.8,588.5 659.8,586.9 660.8,588.8 660.8,586.3 661.8,588.3 661.8,586.5 662.8,588.4 662.8,586.1 663.8,588.3 663.8,585.9 664.8,587.8 664.8,586.0 665.8,588.0 665.8,585.6 666.8,587.3 666.8,585.9 667.8,587.4 667.8,585.3 668.7,587.3 668.7,585.0 669.7,586.7 669.7,585.3 670.7,586.6 670.7,585.0 671.7,586.2 671.7,585.1 672.6,586.0 672.6,584.8 673.6,585.9 673.6,584.5 674.6,585.7 674.6,584.3 675.6,585.5 675.6,584.2 676.5,585.4 676.5,583.9 677.5,585.5 677.5,583.5 678.5,585.1 678.5,583.5 679.5,584.9 679.5,583.4 680.4,584.6 680.4,583.3 681.4,584.4 681.4,583.1 682.4,584.1 682.4,583.0 683.4,583.8 683.4,582.9 684.4,584.2 684.4,582.1 685.3,583.6 685.3,582.3 686.3,583.9 686.3,581.7 687.3,583.7 687.3,581.5 688.3,583.4 688.3,581.4 689.2,582.7 689.2,581.7 690.2,582.5 690.2,581.5 691.2,582.4 691.2,581.1 692.2,582.5 692.2,580.6 693.1,581.8 693.1,580.9 694.1,581.8 694.1,580.5 695.1,581.7 695.1,580.1 696.1,581.6 696.1,579.9 697.0,581.3 697.0,579.9 698.0,581.2 698.0,579.6 699.0,581.1 699.0,579.3 700.0,580.9 700.0,579.2 701.0,580.7 701.0,579.0 701.9,580.8 701.9,578.6 702.9,580.1 702.9,579.0 703.9,580.4 703.9,578.4 704.9,580.1 704.9,578.3 705.8,580.0 705.8,578.1 706.8,579.8 706.8,578.0 707.8,579.3 707.8,578.2 708.8,579.1 708.8,578.1 709.7,579.1 709.7,577.8 710.7,579.2 710.7,577.5 711.7,578.6 711.7,577.7 712.7,579.0 712.7,577.0 713.6,578.7 713.6,577.0 714.6,578.2 714.6,577.3 715.6,578.5 715.6,576.6 716.6,578.5 716.6,576.3 717.6,578.3 717.6,576.3 718.5,577.7 718.5,576.6 719.5,577.6 719.5,576.3 720.5,577.3 720.5,576.3 721.5,577.4 721.5,575.8 722.4,577.6 722.4,575.3 723.4,577.2 723.4,575.3 724.4,576.7 724.4,575.4 725.4,576.8 725.4,574.9 726.3,576.8 726.3,574.5 727.3,576.4 727.3,574.5 728.3,576.2 728.3,574.3 729.3,576.1 729.3,574.0 730.2,575.9 730.2,573.9 731.2,575.9 731.2,573.5 732.2,575.8 732.2,573.2 733.2,575.3 733.2,573.8 734.2,575.4 734.2,573.8 735.2,575.6 735.2,573.6 736.2,575.9 736.2,573.4 737.2,575.8 737.2,573.5 738.2,575.9 738.2,573.3 739.2,575.7 739.2,573.3 740.2,575.4 740.2,573.6 741.2,575.8 741.2,573.2 742.2,575.3 742.2,573.7 743.2,575.7 743.2,573.3 744.2,575.7 744.2,573.4 745.2,575.9 745.2,573.2 746.2,575.5 746.2,573.6 747.2,575.7 747.2,573.5 748.2,575.8 748.2,573.3 749.3,575.6 749.3,573.6 750.3,575.6 750.3,573.6 751.3,575.9 751.3,573.2 752.3,575.6 752.3,573.5 753.3,575.8 753.3,573.3 754.3,575.5 754.3,573.6 755.3,575.6 755.3,573.5 756.3,575.7 756.3,573.3 757.3,575.5 757.3,573.6 758.3,575.3 758.3,573.7 759.3,575.4 759.3,573.7 760.3,575.5 760.3,573.5 761.3,575.6 761.3,573.5 762.3,575.7 762.3,573.4 763.3,575.6 763.3,573.6 764.3,575.3 764.3,573.9 765.3,575.9 765.3,573.6 766.3,575.5 766.3,573.9 767.3,575.9 767.3,573.4 768.2,575.5 768.2,573.5 769.2,575.7 769.2,573.1 770.2,575.0 770.2,573.6 771.2,575.0 771.2,573.2 772.1,574.6 772.1,573.4 773.1,575.0 773.1,572.6 774.1,574.4 774.1,572.9 775.1,574.4 775.1,572.7 776.0,574.4 776.0,572.3 777.0,573.8 777.0,572.6 778.0,573.7 778.0,572.3 779.0,574.0 779.0,571.6 779.9,573.3 779.9,572.0 780.9,573.6 780.9,571.3 781.9,573.4 781.9,571.2 782.9,572.9 782.9,571.3 783.9,572.9 783.9,570.9 784.8,572.4 784.8,571.2 785.8,572.6 785.8,570.6 786.8,572.4 786.8,570.4 787.8,571.9 787.8,570.5 788.7,571.5 788.7,570.5 789.7,571.4 789.7,570.3 790.7,571.6 790.7,569.7 791.7,571.4 791.7,569.6 792.6,571.5 792.6,569.2 793.6,571.0 793.6,569.4 794.6,570.6 794.6,569.5 795.6,570.4 795.6,569.3 796.5,570.8 796.5,568.6 797.5,570.3 797.5,568.6 798.5,570.4 798.5,568.2 799.5,570.0 799.5,568.3 800.5,569.6 800.5,568.6 801.5,569.9 801.5,568.0 802.5,569.4 802.5,568.3 803.5,569.3 803.5,568.3 804.4,569.2 804.4,568.1 805.4,569.5 805.4,567.5 806.4,568.9 806.4,567.9 807.4,568.8 807.4,567.7 808.4,568.6 808.4,567.6 809.4,569.2 809.4,566.8 810.4,569.0 810.4,566.7 811.4,568.7 811.4,566.7 812.4,568.4 812.4,566.8 813.4,568.4 813.4,566.6 814.4,568.5 814.4,566.2 815.4,568.0 815.4,566.5 816.3,568.0 816.3,566.3 817.3,567.9 817.3,566.2 818.3,567.7 818.3,566.2 819.3,568.0 819.3,565.6 820.3,567.7 820.3,565.8 821.3,567.8 821.3,565.5 822.3,567.8 822.3,565.4 823.3,567.2 823.3,565.8 824.3,567.5 824.3,565.4 825.3,567.4 825.3,565.3 826.3,567.4 826.3,565.2 827.3,567.1 827.3,565.3 828.2,567.3 828.2,564.9 829.2,566.9 829.2,565.2 830.2,567.2 830.2,564.7 831.2,566.5 831.2,564.9 832.2,566.5 832.2,564.6 833.2,566.4 833.2,564.3 834.2,566.3 834.2,564.1 835.2,566.2 835.2,564.0 836.2,565.8 836.2,564.1 837.2,565.9 837.2,563.8 838.2,565.7 838.2,563.7 839.2,565.8 839.2,563.4 840.2,565.5 840.2,563.6 841.2,565.3 841.2,563.9 842.2,565.6 842.2,563.7 843.2,566.0 843.2,563.3 844.2,565.6 844.2,563.6 845.2,565.3 845.2,563.9 846.2,565.7 846.2,563.4 847.2,565.5 847.2,563.6 848.2,565.5 848.2,563.5 849.2,565.4 849.2,563.5 850.3,565.3 850.3,563.5 851.3,565.0 851.3,563.6 852.3,565.5 852.3,563.0 853.3,565.5 853.3,562.9 854.3,564.9 854.3,563.5 855.3,564.9 855.3,563.3 856.3,564.9 856.3,563.0 857.3,565.0 857.3,562.7 858.3,564.5 858.3,563.0 859.3,564.9 859.3,562.4 860.3,564.9 860.3,562.3 861.3,564.8 861.3,562.4 862.3,564.3 862.3,562.8 863.3,564.4 863.3,562.6 864.3,564.7 864.3,562.4 865.3,564.6 865.3,562.6 866.3,564.2 866.3,563.0 867.3,564.5 867.3,562.4 868.3,564.3 868.3,562.5 869.2,564.5 869.2,562.1 870.2,563.7 870.2,562.6 871.2,563.6 871.2,562.5 872.2,563.4 872.2,562.3 873.1,563.6 873.1,561.8 874.1,563.2 874.1,561.8 875.1,563.1 875.1,561.5 876.1,562.8 876.1,561.5 877.0,562.3 877.0,561.5 878.0,562.5 878.0,560.9 879.0,562.2 879.0,560.8 880.0,562.0 880.0,560.4 880.9,562.0 880.9,560.0 881.9,561.7 881.9,559.9 882.9,561.3 882.9,559.8 883.9,561.2 883.9,559.7 884.9,561.2 884.9,559.4 885.8,560.6 885.8,559.6 886.8,560.9 886.8,559.0 887.8,560.7 887.8,559.0 888.8,560.4 888.8,559.0 889.7,560.2 889.7,558.9 890.7,559.8 890.7,559.1 891.7,560.2 891.7,558.5 892.7,560.0 892.7,558.5 893.6,560.1 893.6,558.3 894.6,559.8 894.6,558.4 895.6,559.8 895.6,558.3 896.6,559.7 896.6,558.3 897.5,559.5 897.5,558.5 898.5,559.7 898.5,558.4 899.5,559.9 899.5,558.3 900.5,559.5 900.5,558.3 901.5,559.4 901.5,558.0 902.4,559.4 902.4,557.7 903.4,558.9 903.4,557.6 904.4,558.8 904.4,557.3 905.4,558.3 905.4,557.2 906.3,557.8 906.3,557.1 907.3,557.5 907.3,556.8 908.3,557.1 908.3,556.6 909.3,557.2 909.3,555.8 910.2,556.6 910.2,555.7 911.2,556.1 911.2,555.5 912.2,556.1 912.2,554.7 913.2,555.4 913.2,554.7 914.1,555.7 914.1,553.8 915.1,554.8 915.1,554.0 916.1,554.5 916.1,553.6 917.1,554.3 917.1,553.5 918.1,554.4 918.1,553.3 919.0,554.4 919.0,553.1 920.0,554.5 920.0,552.8 921.0,554.3 921.0,552.9 922.0,554.1 922.0,553.0 922.9,554.3 922.9,552.7 923.9,554.2 923.9,552.7 924.9,554.3 924.9,552.4 925.9,554.4 925.9,552.0 926.8,553.7 926.8,552.5 927.8,553.8 927.8,552.2 928.8,553.8 928.8,552.2 929.8,554.0 929.8,551.8 930.7,554.0 930.7,551.7 931.7,553.8 931.7,551.9 932.7,553.5 932.7,552.1 933.7,553.8 933.7,551.7 934.7,553.8 934.7,551.7 935.7,553.8 935.7,551.7 936.7,553.4 936.7,551.9 937.7,553.9 937.7,551.3 938.7,553.4 938.7,551.8 939.7,554.0 939.7,551.1 940.7,553.5 940.7,551.5 941.7,553.4 941.7,551.5 942.7,553.5 942.7,551.2 943.7,553.2 943.7,551.3 944.7,553.5 944.7,550.9 945.7,553.5 945.7,550.7 946.7,553.3 946.7,550.7 947.7,552.8 947.7,551.1 948.7,552.8 948.7,551.1 949.8,552.7 949.8,551.0 950.8,553.0 950.8,550.6 951.8,552.8 951.8,550.7 952.8,553.1 952.8,550.3 953.8,552.8 953.8,550.5 954.8,552.8 954.8,550.4 955.8,552.7 955.8,550.4 956.8,552.5 956.8,550.5 957.8,552.3 957.8,550.6 958.8,552.2 958.8,550.7 959.8,552.1 959.8,550.7 960.8,552.7 960.8,550.0 961.8,552.1 961.8,550.5 962.8,552.3 962.8,550.3 963.8,552.1 963.8,550.3 964.8,552.0 964.8,550.4 965.8,551.8 965.8,550.4 966.8,552.0 966.8,550.1 967.8,551.7 967.8,550.2 968.7,551.7 968.7,550.1 969.7,551.9 969.7,549.7 970.7,551.9 970.7,549.6 971.7,551.7 971.7,549.7 972.6,551.6 972.6,549.8 973.6,551.5 973.6,549.7 974.6,551.5 974.6,549.7 975.6,551.3 975.6,549.8 976.5,551.4 976.5,549.6 977.5,551.0 977.5,550.0 978.5,551.1 978.5,550.0 979.5,551.5 979.5,549.6 980.4,551.5 980.4,549.7 981.4,551.1 981.4,550.2 982.4,551.4 982.4,549.9 983.4,551.1 983.4,549.9 984.4,550.8 984.4,549.7 985.3,550.6 985.3,549.6 986.3,550.6 986.3,549.1 987.3,550.4 987.3,548.9 988.3,549.7 988.3,549.2 989.2,549.7 989.2,548.7 990.2,549.7 990.2,548.3 991.2,548.9 991.2,548.6 992.2,549.0 992.2,548.0 993.1,548.9 993.1,547.7 994.1,548.7 994.1,547.4 995.1,548.1 995.1,547.4 996.1,547.7 996.1,547.2 997.0,547.8 997.0,546.5 998.0,547.3 998.0,546.5 999.0,547.5 999.0,545.8 1000.0,547.2 1000.0,545.7 1001.0,547.2 1001.0,545.5 1001.9,546.5 1001.9,545.8 1002.9,546.7 1002.9,545.3 1003.9,546.3 1003.9,545.4 1004.9,546.0 1004.9,545.3 1005.8,546.2 1005.8,544.7 1006.8,546.1 1006.8,544.4 1007.8,545.9 1007.8,544.2 1008.8,545.6 1008.8,544.2 1009.7,545.5 1009.7,543.9 1010.7,545.6 1010.7,543.5 1011.7,544.9 1011.7,543.9 1012.7,544.9 1012.7,543.6 1013.6,544.6 1013.6,543.5 1014.6,544.5 1014.6,543.3 1015.6,544.4 1015.6,543.0 1016.6,544.5 1016.6,542.8 1017.6,544.2 1017.6,542.9 1018.5,544.0 1018.5,542.9 1019.5,544.6 1019.5,542.3 1020.5,544.5 1020.5,542.3 1021.5,544.4 1021.5,542.3 1022.4,544.2 1022.4,542.4 1023.4,543.9 1023.4,542.7 1024.4,544.1 1024.4,542.4 1025.4,543.8 1025.4,542.5 1026.3,544.1 1026.3,542.1 1027.3,543.9 1027.3,542.2 1028.3,544.0 1028.3,541.9 1029.3,543.7 1029.3,542.2 1030.2,543.9 1030.2,541.9 1031.2,544.0 1031.2,541.7 1032.2,543.7 1032.2,541.9 1033.2,543.5 1033.2,541.9 1034.2,543.2 1034.2,542.1 1035.1,543.5 1035.1,541.6 1036.1,542.9 1036.1,541.9 1037.1,542.9 1037.1,541.8 1038.1,543.3 1038.1,541.3 1039.0,542.7 1039.0,541.6 1040.0,542.9 1040.0,541.3 1041.0,542.7 1041.0,541.3 1042.0,542.5 1042.0,541.3 1042.9,542.5 1042.9,541.2 1043.9,542.7 1043.9,540.9 1044.9,542.1 1044.9,541.3 1045.9,542.3 1045.9,541.0 1046.8,542.5 1046.8,540.7 1047.8,542.3 1047.8,540.8 1048.8,542.5 1048.8,540.6 1049.8,542.1 1049.8,540.8 1050.7,542.2 1050.7,540.4 1051.7,541.7 1051.7,540.6 1052.7,541.7 1052.7,540.3 1053.7,541.2 1053.7,540.5 1054.6,541.3 1054.6,539.8 1055.6,541.0 1055.6,539.7 1056.6,540.6 1056.6,539.5 1057.5,540.6 1057.5,539.1 1058.5,540.5 1058.5,538.8 1059.5,540.2 1059.5,538.8 1060.4,539.7 1060.4,538.9 1061.4,539.5 1061.4,538.6 1062.4,539.4 1062.4,538.3 1063.4,539.1 1063.4,538.2 1064.3,538.7 1064.3,538.1 1065.3,538.7 1065.3,537.7 1066.3,538.5 1066.3,537.6 1067.3,538.6 1067.3,537.2 1068.2,538.6 1068.2,536.9 1069.2,538.0 1069.2,537.3 1070.2,538.6 1070.2,536.5 1071.2,538.4 1071.2,536.5 1072.1,537.9 1072.1,536.7 1073.1,538.0 1073.1,536.4 1074.1,537.8 1074.1,536.3 1075.1,537.9 1075.1,535.8 1076.0,537.7 1076.0,535.7 1077.0,537.5 1077.0,535.7 1078.0,537.3 1078.0,535.6 1079.0,537.0 1079.0,535.7 1079.9,537.1 1079.9,535.3 1080.9,537.1 1080.9,535.1 1081.9,536.6 1081.9,535.4 1082.9,536.8 1082.9,535.3 1083.9,536.9 1083.9,535.4 1084.8,537.4 1084.8,535.2 1085.8,537.6 1085.8,535.2 1086.8,537.3 1086.8,535.7 1087.8,537.4 1087.8,535.9 1088.7,537.4 1088.7,536.1 1089.7,537.5 1089.7,536.3 1090.7,537.9 1090.7,536.1 1091.7,538.0 1091.7,536.2 1092.6,537.8 1092.6,536.7 1093.6,538.5 1093.6,536.1 1094.6,538.4 1094.6,536.4 1095.6,538.4 1095.6,536.7 1096.5,538.4 1096.5,536.8 1097.5,538.5 1097.5,536.9 1098.5,538.9 1098.5,536.7 1099.5,538.5 1099.5,536.8 1100.5,538.7 1100.5,536.6 1101.5,538.4 1101.5,536.6 1102.5,538.5 1102.5,536.4 1103.5,538.3 1103.5,536.5 1104.4,538.0 1104.4,536.6 1105.4,538.1 1105.4,536.4 1106.4,538.2 1106.4,536.2 1107.4,537.9 1107.4,536.3 1108.4,537.9 1108.4,536.0 1109.4,537.6 1109.4,536.0 1110.4,537.3 1110.4,536.1 1111.4,537.7 1111.4,535.6 1112.4,537.2 1112.4,536.0 1113.4,537.5 1113.4,535.5 1114.4,536.8 1114.4,536.0 1115.4,537.2 1115.4,535.5 1116.3,536.7 1116.3,535.8 1117.3,537.1 1117.3,535.2 1118.3,536.7 1118.3,535.4 1119.3,536.7 1119.3,535.1 1120.3,536.3 1120.3,535.4 1121.3,536.2 1121.3,535.3 1122.3,536.5 1122.3,534.7 1123.3,536.5 1123.3,534.6 1124.3,535.9 1124.3,535.0 1125.3,536.0 1125.3,534.7 1126.3,536.0 1126.3,534.5 1127.3,535.9 1127.3,534.4 1128.2,535.7 1128.2,534.3 1129.2,535.5 1129.2,534.3 1130.2,535.5 1130.2,534.1 1131.2,535.6 1131.2,533.8 1132.2,535.5 1132.2,533.8 1133.2,535.5 1133.2,533.7 1134.2,535.0 1134.2,534.0 1135.2,534.8 1135.2,534.1 1136.2,535.0 1136.2,533.7 1137.2,535.0 1137.2,533.5 1138.2,534.8 1138.2,533.5 1139.2,534.5 1139.2,533.6 1140.1,534.9 1140.1,533.0 1141.1,534.7 1141.1,533.0 1142.1,534.2 1142.1,533.3 1143.1,534.3 1143.1,533.0 1144.1,534.5 1144.1,532.6 1145.1,534.2 1145.1,532.7 1146.1,533.9 1146.1,532.7 1147.1,533.9 1147.1,532.5 1148.1,533.6 1148.1,532.6 1149.1,533.6 1149.1,532.3 1150.1,533.5 1150.1,532.1 1151.1,533.7 1151.1,531.7 1152.0,533.2 1152.0,532.0 1153.0,533.4 1153.0,531.7 1154.0,533.4 1154.0,531.5 1155.0,533.4 1155.0,531.3 1156.0,532.9 1156.0,531.7 1157.0,532.6 1157.0,531.6 1158.0,532.5 1158.0,531.5 1159.0,532.6 1159.0,531.5 1160.0,533.0 1160.0,531.1 1161.0,532.9 1161.0,531.3 1162.0,532.6 1162.0,531.6 1163.0,532.8 1163.0,531.6 1164.0,533.3 1164.0,531.1 1165.0,533.2 1165.0,531.3 1166.0,533.0 1166.0,531.5 1167.0,533.4 1167.0,531.2 1168.0,533.2 1168.0,531.4 1169.0,533.3 1169.0,531.4 1170.0,533.3 1170.0,531.5 1170.9,533.5 1170.9,531.3 1171.9,533.2 1171.9,531.7 1172.9,533.3 1172.9,531.6 1173.9,533.4 1173.9,531.5 1174.9,533.6 1174.9,531.4 1175.9,533.2 1175.9,531.7 1176.9,533.6 1176.9,531.4 1177.9,533.1 1177.9,532.0 1178.9,533.5 1178.9,531.6 1179.9,533.1 1179.9,532.1 1180.9,533.7 1180.9,531.6 1181.9,533.6 1181.9,531.8 1182.9,533.4 1182.9,532.1 1183.9,533.6 1183.9,532.0 1184.9,533.7 1184.9,531.9 1185.9,533.4 1185.9,532.2 1186.9,533.9 1186.9,531.8 1187.8,533.4 1187.8,532.2 1188.8,533.7 1188.8,532.0 1189.8,533.8 1189.8,531.9 1190.8,533.8 1190.8,532.3 1191.8,534.3 1191.8,532.0 1192.8,534.0 1192.8,532.5 1193.8,534.1 1193.8,532.5 1194.8,534.1 1194.8,532.7 1195.7,534.2 1195.7,532.5 1196.7,534.5 1196.7,532.3 1197.7,533.9 1197.7,532.9 1198.7,534.1 1198.7,532.6 1199.7,534.2 1199.7,532.5 1200.7,534.0 1200.7,532.7 1201.7,534.4 1201.7,532.3 1202.7,534.2 1202.7,532.4 1203.7,534.2 1203.7,532.4 1204.6,534.5 1204.6,532.1 1205.6,534.0 1205.6,532.6 1206.6,534.2 1206.6,532.4 1207.6,534.2 1207.6,532.5 1208.6,534.0 1208.6,532.7 1209.6,534.5 1209.6,532.3 1210.6,534.5 1210.6,532.4 1211.6,533.9 1211.6,532.9 1212.5,534.0 1212.5,532.9 1213.5,534.3 1213.5,532.5 1214.5,534.3 1214.5,532.6 1215.5,534.2 1215.5,532.8 1216.5,534.4 1216.5,532.7 1217.5,534.3 1217.5,532.8 1218.5,534.5 1218.5,532.8 1219.5,534.2 1219.5,533.2 1220.4,534.3 1220.4,533.3 1221.4,534.4 1221.4,533.3 1222.4,534.4 1222.4,533.3 1223.4,534.3 1223.4,533.4 1224.4,534.8 1224.4,533.1 1225.4,534.2 1225.4,533.4 1226.4,534.6 1226.4,532.8 1227.4,534.5 1227.4,532.6 1228.4,534.0 1228.4,532.7 1229.4,534.1 1229.4,532.4 1230.4,533.9 1230.4,532.3 1231.4,533.5 1231.4,532.4 1232.4,533.5 1232.4,532.0 1233.4,533.0 1233.4,532.1 1234.4,533.2 1234.4,531.5 1235.4,532.7 1235.4,531.6 1236.4,532.9 1236.4,531.1 1237.3,532.5 1237.3,531.2 1238.3,532.1 1238.3,531.3 1239.3,531.9 1239.3,531.1 1240.3,532.2 1240.3,530.5 1241.3,531.7 1241.3,530.6 1242.3,531.8 1242.3,530.1 1243.3,531.1 1243.3,530.5 1244.3,531.1 1244.3,530.2 1245.3,531.1 1245.3,529.9 1246.3,530.7 1246.3,529.9 1247.3,530.8 1247.3,529.4 1248.3,530.2 1248.3,529.5 1249.3,530.1 1249.3,529.3 1250.3,530.0 1250.3,529.3 1251.3,529.8 1251.3,529.3 1252.3,530.0 1252.3,528.8 1253.3,529.7 1253.3,529.0 1254.3,529.7 1254.3,528.8 1255.3,529.6 1255.3,528.9 1256.3,530.0 1256.3,528.3 1257.3,529.9 1257.3,528.3 1258.3,529.5 1258.3,528.6 1259.3,529.3 1259.3,528.7 1260.3,529.7 1260.3,528.1 1261.3,529.5 1261.3,528.1 1262.3,529.3 1262.3,528.1 1263.3,529.4 1263.3,527.9 1264.3,528.9 1264.3,528.2 1265.3,528.9 1265.3,528.0 1266.4,528.9 1266.4,527.8 1267.4,529.0 1267.4,527.5 1268.4,528.8 1268.4,527.5 1269.4,528.9 1269.4,527.2 1270.4,528.7 1270.4,527.2 1271.4,528.4 1271.4,527.6 1272.4,528.4 1272.4,527.6 1273.4,528.9 1273.4,527.0 1274.4,528.5 1274.4,527.3 1275.4,528.6 1275.4,527.1 1276.4,528.4 1276.4,527.1 1277.4,528.1 1277.4,527.2 1278.4,528.0 1278.4,527.1 1279.4,528.3 1279.4,526.7 1280.4,528.2 1280.4,526.5 1281.4,528.2 1281.4,526.4 1282.4,527.6 1282.4,526.8 1283.4,527.5 1283.4,526.8 1284.4,527.9 1284.4,526.2 1285.4,527.8 1285.4,526.1 1286.4,527.8 1286.4,526.1 1287.4,527.1 1287.4,526.6 1288.4,527.7 1288.4,525.9 1289.4,527.3 1289.4,526.3 1290.4,527.1 1290.4,526.4 1291.5,527.5 1291.5,525.9 1292.5,527.1 1292.5,526.2 1293.5,527.3 1293.5,526.0 1294.5,527.0 1294.5,525.8 1295.5,526.7 1295.5,525.9 1296.5,527.0 1296.5,525.3 1297.5,526.7 1297.5,525.3 1298.5,526.7 1298.5,525.2 1299.5,526.6 1299.5,525.1 1300.5,526.3 1300.5,525.3 1301.5,526.5 1301.5,525.0 1302.5,526.3 1302.5,525.1 1303.5,526.2 1303.5,525.0 1304.5,526.2 1304.5,524.8 1305.5,526.3 1305.5,524.6 1306.5,526.4 1306.5,524.4 1307.6,525.9 1307.6,524.6 1308.6,526.2 1308.6,524.3 1309.6,526.0 1309.6,524.3 1310.6,525.7 1310.6,524.5 1311.6,525.6 1311.6,524.5 1312.6,525.5 1312.6,524.5 1313.6,525.4 1313.6,524.4 1314.6,525.6 1314.6,524.1 1315.6,525.3 1315.6,524.2 1316.6,525.4 1316.6,524.0 1317.6,525.4 1317.6,523.9 1318.6,525.3 1318.6,523.9 1319.6,525.0 1319.6,524.1 1320.6,525.0 1320.6,524.0 1321.6,525.3 1321.6,523.6 1322.6,525.4 1322.6,523.4 1323.6,525.3 1323.6,523.5 1324.7,524.9 1324.7,523.6 1325.7,524.5 1325.7,523.8 1326.7,524.7 1326.7,523.5 1327.7,524.7 1327.7,523.3 1328.7,525.0 1328.7,522.9 1329.7,524.8 1329.7,522.9 1330.7,524.5 1330.7,523.0 1331.7,524.4 1331.7,523.0 1332.7,524.1 1332.7,523.2 1333.7,524.6 1333.7,522.6 1334.7,524.4 1334.7,522.6 1335.7,524.2 1335.7,522.6 1336.7,524.0 1336.7,522.8 1337.7,524.0 1337.7,522.6 1338.7,523.9 1338.7,522.6 1339.7,524.2 1339.7,522.2 1340.8,523.6 1340.8,522.7 1341.8,523.7 1341.8,522.5 1342.8,523.7 1342.8,522.6 1343.8,523.7 1343.8,522.5 1344.8,523.6 1344.8,522.5 1345.8,523.6 1345.8,522.5 1346.8,523.4 1346.8,522.6 1347.8,523.8 1347.8,522.3 1348.8,523.9 1348.8,522.0 1349.8,523.2 1349.8,522.6 1350.8,523.4 1350.8,522.2 1351.8,523.0 1351.8,522.4 1352.8,523.5 1352.8,521.8 1353.8,523.0 1353.8,522.1 1354.8,523.3 1354.8,521.7 1355.8,523.2 1355.8,521.6 1356.8,522.7 1356.8,521.9 1357.8,522.8 1357.8,521.6 1358.8,522.5 1358.8,521.7 1359.8,522.4 1359.8,521.7 1360.8,522.2 1360.8,521.6 1361.8,522.7 1361.8,520.9 1362.8,522.4 1362.8,521.0 1363.8,522.2 1363.8,521.0 1364.8,522.3 1364.8,520.7 1365.9,521.7 1365.9,521.1 1366.9,522.0 1366.9,520.6 1367.9,521.8 1367.9,520.6 1368.9,521.6 1368.9,520.6 1369.9,521.4 1369.9,520.6 1370.9,521.5 1370.9,520.3 1371.9,521.1 1371.9,520.5 1372.9,521.4 1372.9,519.9 1373.9,521.2 1373.9,519.9 1374.9,521.2 1374.9,519.6 1375.9,521.1 1375.9,519.5 1376.9,520.8 1376.9,519.7 1377.9,520.5 1377.9,519.7 1378.9,520.7 1378.9,519.3 1379.9,520.4 1379.9,519.4 1380.9,520.4 1380.9,519.2 1381.9,519.9 1381.9,519.5 1382.9,520.1 1382.9,519.1 1383.9,519.8 1383.9,519.3 1384.9,520.3 1384.9,518.6 1385.9,520.1 1385.9,518.6 1386.9,519.7 1386.9,518.9 1387.9,519.7 1387.9,518.8 1388.9,519.6 1388.9,518.7 1389.9,519.4 1389.9,518.6 1390.9,519.5 1390.9,518.4 1391.9,519.2 1391.9,518.5 1392.9,519.3 1392.9,518.2 1393.9,519.0 1393.9,518.2 1394.9,518.8 1394.9,518.1 1396.0,518.9 1396.0,517.7 1397.0,518.5 1397.0,517.9 1398.0,518.3 1398.0,517.7 1399.0,518.0 1399.0,517.7 1400.0,518.5 1400.0,516.8 1401.0,518.0 1401.0,516.9 1402.0,518.2 1402.0,516.7 1403.0,517.7 1403.0,517.1 1404.0,518.0 1404.0,516.7 1405.0,518.1 1405.0,516.4 1406.0,517.4 1406.0,516.9 1407.0,517.8 1407.0,516.3 1408.0,517.2 1408.0,516.7 1409.0,517.4 1409.0,516.3 1410.0,517.4 1410.0,516.1 1411.0,517.1 1411.0,516.2 1412.0,517.3 1412.0,516.0 1413.0,516.8 1413.0,516.3 1414.0,517.4 1414.0,515.6 1415.0,517.2 1415.0,515.8 1416.0,517.2 1416.0,515.7 1417.0,516.9 1417.0,515.6 1418.0,516.3 1418.0,515.8 1419.0,516.7 1419.0,515.2 1420.0,516.2 1420.0,515.5 1420.9,516.6 1420.9,514.8 1421.9,516.6 1421.9,514.8 1422.9,516.3 1422.9,514.9 1423.9,516.0 1423.9,515.1 1424.9,516.3 1424.9,514.7 1425.9,516.3 1425.9,514.6 1426.9,515.9 1426.9,514.9 1427.9,515.7 1427.9,515.0 1428.9,515.9 1428.9,514.7 1429.9,515.6 1429.9,514.9 1430.9,515.8 1430.9,514.6 1431.9,515.6 1431.9,514.7 1432.9,515.4 1432.9,514.8 1433.9,515.4 1433.9,514.7 1434.9,515.5 1434.9,514.3 1435.9,515.5 1435.9,514.2 1436.9,515.3 1436.9,514.2 1437.9,515.0 1437.9,514.3 1438.9,515.0 1438.9,514.2 1439.8,514.8 1439.8,514.4 1440.8,515.1 1440.8,514.0 1441.8,515.1 1441.8,513.9 1442.8,514.9 1442.8,514.0 1443.8,514.6 1443.8,514.1 1444.8,514.5 1444.8,514.1 1445.8,514.6 1445.8,514.0 1446.8,514.4 1446.8,514.0 1447.8,514.5 1447.8,513.9 1448.8,514.3 1448.8,513.9 1449.8,514.7 1449.8,513.4 1450.8,514.1 1450.8,513.8 1451.7,514.2 1451.7,513.4 1452.7,514.2 1452.7,513.1 1453.7,514.2 1453.7,512.8 1454.7,513.7 1454.7,513.0 1455.6,513.8 1455.6,512.6 1456.6,513.6 1456.6,512.6 1457.6,513.4 1457.6,512.6 1458.6,513.5 1458.6,512.3 1459.5,513.3 1459.5,512.1 1460.5,513.0 1460.5,511.8 1461.5,512.5 1461.5,511.8 1462.5,512.2 1462.5,511.7 1463.4,512.4 1463.4,511.0 1464.4,512.1 1464.4,511.0 1465.4,511.8 1465.4,510.9 1466.3,511.6 1466.3,510.8 1467.3,511.7 1467.3,510.4 1468.3,511.2 1468.3,510.6 1469.3,511.4 1469.3,510.1 1470.2,511.0 1470.2,510.2 1471.2,510.6 1471.2,510.3 1472.2,510.5 1472.2,510.0 1473.2,510.7 1473.2,509.5 1474.1,510.5 1474.1,509.4 1475.1,510.4 1475.1,509.1 1476.1,509.8 1476.1,509.4 1477.1,509.9 1477.1,508.9 1478.0,509.3 1478.0,509.1 1479.0,509.3 1479.0,508.8 1480.0,509.2 1480.0,508.5 1481.0,509.1 1481.0,508.3 1481.9,508.9 1481.9,508.1 1482.9,508.7 1482.9,508.0 1483.9,508.3 1483.9,508.1 1484.9,508.7 1484.9,507.5 1485.9,508.6 1485.9,507.3 1486.9,507.9 1486.9,507.8 1487.9,507.9 1487.9,507.4 1488.9,507.8 1488.9,507.2 1489.9,507.8 1489.9,506.9 1490.9,508.0 1490.9,506.5 1492.0,507.7 1492.0,506.5 1493.0,507.1 1493.0,506.7 1494.0,507.4 1494.0,506.2 1495.0,507.2 1495.0,506.5 1496.0,507.6 1496.0,506.2 1497.0,507.1 1497.0,506.6 1498.0,507.0 1498.0,506.6 1499.0,507.3 1499.0,506.1 1500.0,506.8 1500.0,506.3 1501.0,506.7 1501.0,506.3 1502.0,506.7 1502.0,506.1 1503.0,506.8 1503.0,505.9 1504.0,506.4 1504.0,506.1 1505.0,506.3 1505.0,505.9 1506.0,506.4 1506.0,505.5 1507.0,506.6 1507.0,505.1 1508.1,506.2 1508.1,505.2 1509.1,506.0 1509.1,505.2 1510.1,506.0 1510.1,504.9 1511.1,505.6 1511.1,505.1 1512.1,505.9 1512.1,504.6 1513.1,505.7 1513.1,504.5 1514.1,505.5 1514.1,504.5 1515.1,505.2 1515.1,504.6 1516.1,505.0 1516.1,504.6 1517.1,505.5 1517.1,504.0 1518.1,505.4 1518.1,504.0 1519.1,505.4 1519.1,503.9 1520.1,505.4 1520.1,504.0 1521.1,505.0 1521.1,504.4 1522.1,505.4 1522.1,504.0 1523.1,505.0 1523.1,504.5 1524.1,505.1 1524.1,504.0 1525.2,504.8 1525.2,504.0 1526.2,505.1 1526.2,503.5 1527.2,504.5 1527.2,503.9 1528.2,504.5 1528.2,503.9 1529.2,504.6 1529.2,503.6 1530.2,504.5 1530.2,503.7 1531.2,504.3 1531.2,503.7 1532.2,504.7 1532.2,503.2 1533.2,504.4 1533.2,503.4 1534.2,504.5 1534.2,503.0 1535.2,504.0 1535.2,503.3 1536.2,504.1 1536.2,503.0 1537.2,503.9 1537.2,503.2 1538.2,504.1 1538.2,503.0 1539.2,503.9 1539.2,503.1 1540.2,503.7 1540.2,503.2 1541.3,503.6 1541.3,503.1 1542.3,503.6 1542.3,503.0 1543.3,503.6 1543.3,502.7 1544.3,503.7 1544.3,502.5 1545.3,503.7 1545.3,502.4 1546.3,503.7 1546.3,502.4 1547.3,503.3 1547.3,502.7 1548.3,503.5 1548.3,502.5 1549.3,503.4 1549.3,502.6 1550.3,503.5 1550.3,502.6 1551.3,503.9 1551.3,502.2 1552.3,503.6 1552.3,502.5 1553.3,503.5 1553.3,502.6 1554.3,503.3 1554.3,502.7 1555.3,504.0 1555.3,502.1 1556.3,503.7 1556.3,502.4 1557.3,504.0 1557.3,502.1 1558.2,503.5 1558.2,502.7 1559.2,503.5 1559.2,502.7 1560.2,503.7 1560.2,502.5 1561.2,503.5 1561.2,502.6 1562.2,503.4 1562.2,502.6 1563.2,503.4 1563.2,502.5 1564.2,503.4 1564.2,502.8 1565.2,503.7 1565.2,502.5 1566.2,503.7 1566.2,502.6 1567.2,503.5 1567.2,502.9 1568.2,503.6 1568.2,502.7 1569.2,503.5 1569.2,502.8 1570.2,503.7 1570.2,502.5 1571.2,504.0 1571.2,502.2 1572.2,503.5 1572.2,502.7 1573.2,504.0 1573.2,502.2 1574.2,503.5 1574.2,502.6 1575.1,503.8 1575.1,502.3 1576.1,503.4 1576.1,502.7 1577.1,503.5 1577.1,502.6 1578.1,503.6 1578.1,502.5 1579.1,503.6 1579.1,502.4 1580.1,503.8 1580.1,502.3 1581.1,503.3 1581.1,502.8 1582.1,503.6 1582.1,502.5 1583.1,503.3 1583.1,502.8 1584.1,503.8 1584.1,502.2 1585.1,503.9 1585.1,502.1 1586.1,503.8 1586.1,502.3 1587.1,503.7 1587.1,502.4 1588.1,503.3 1588.1,502.9 1589.1,503.9 1589.1,502.3 1590.1,503.6 1590.1,502.6 1591.0,503.3 1591.0,502.8 1592.0,503.7 1592.0,502.4 1593.0,503.6 1593.0,502.7 1594.0,503.6 1594.0,502.7 1595.0,503.4 1595.0,503.0 1596.0,503.4 1596.0,503.0 1597.0,503.6 1597.0,502.7 1598.0,503.8 1598.0,502.5 1599.0,503.9 1599.0,502.4 1600.0,503.8 1600.0,502.3 1601.0,503.5 1601.0,502.4 1602.0,503.3 1602.0,502.5 1603.0,503.6 1603.0,502.0 1604.0,503.4 1604.0,502.0 1605.0,503.0 1605.0,502.2 1606.0,503.2 1606.0,501.8 1607.0,503.1 1607.0,501.7 1608.1,502.9 1608.1,501.8 1609.1,502.9 1609.1,501.6 1610.1,503.0 1610.1,501.4 1611.1,502.3 1611.1,501.9 1612.1,502.5 1612.1,501.6 1613.1,502.5 1613.1,501.4 1614.1,502.7 1614.1,501.1 1615.1,502.1 1615.1,501.6 1616.1,502.3 1616.1,501.3 1617.1,502.0 1617.1,501.5 1618.1,502.2 1618.1,501.0 1619.1,501.8 1619.1,501.4 1620.1,501.8 1620.1,501.2 1621.1,502.1 1621.1,500.8 1622.1,501.7 1622.1,501.1 1623.1,502.1 1623.1,500.5 1624.2,501.6 1624.2,500.9 1625.2,501.5 1625.2,500.9 1626.2,501.4 1626.2,500.7 1627.2,501.6 1627.2,500.3 1628.2,501.5 1628.2,500.3 1629.2,501.5 1629.2,500.1 1630.2,501.0 1630.2,500.3 1631.2,501.1 1631.2,500.0 1632.2,501.0 1632.2,499.9 1633.2,500.6 1633.2,500.2 1634.2,500.5 1634.2,500.1 1635.2,500.6 1635.2,499.9 1636.2,500.6 1636.2,499.7 1637.2,500.4 1637.2,499.8 1638.2,500.7 1638.2,499.4 1639.2,500.7 1639.2,499.3 1640.2,500.4 1640.2,499.6 1641.2,500.4 1641.2,499.5 1642.2,500.3 1642.2,499.6 1643.2,500.3 1643.2,499.5 1644.2,500.5 1644.2,499.2 1645.2,500.6 1645.2,498.9 1646.2,500.1 1646.2,499.4 1647.2,500.0 1647.2,499.4 1648.2,500.2 1648.2,499.1 1649.3,500.3 1649.3,498.9 1650.3,499.9 1650.3,499.2 1651.3,500.3 1651.3,498.7 1652.3,500.2 1652.3,498.7 1653.3,499.9 1653.3,498.9 1654.3,499.9 1654.3,498.8 1655.3,499.7 1655.3,498.9 1656.3,500.2 1656.3,498.4 1657.3,499.7 1657.3,498.6 1658.3,499.9 1658.3,498.2 1659.3,499.6 1659.3,498.3 1660.3,499.4 1660.3,498.3 1661.3,499.0 1661.3,498.5 1662.3,499.5 1662.3,497.9 1663.3,499.4 1663.3,497.8 1664.3,498.8 1664.3,498.2 1665.3,498.7 1665.3,498.1 1666.3,499.0 1666.3,497.8 1667.3,498.9 1667.3,497.7 1668.3,498.6 1668.3,497.9 1669.3,498.8 1669.3,497.6 1670.3,498.8 1670.3,497.5 1671.3,498.8 1671.3,497.5 1672.3,498.9 1672.3,497.3 1673.3,498.8 1673.3,497.3 1674.4,498.7 1674.4,497.3 1675.4,498.9 1675.4,497.1 1676.4,498.6 1676.4,497.4 1677.4,498.4 1677.4,497.6 1678.4,498.4 1678.4,497.7 1679.4,498.3 1679.4,497.7 1680.4,498.7 1680.4,497.3 1681.4,498.3 1681.4,497.7 1682.4,498.5 1682.4,497.4 1683.4,498.4 1683.4,497.5 1684.4,498.4 1684.4,497.5 1685.4,498.4 1685.4,497.4 1686.4,498.7 1686.4,497.2 1687.4,498.7 1687.4,497.1 1688.4,498.4 1688.4,497.4 1689.4,498.8 1689.4,497.0 1690.5,498.3 1690.5,497.4 1691.5,498.3 1691.5,497.4 1692.5,498.6 1692.5,497.0 1693.5,498.2 1693.5,497.4 1694.5,498.3 1694.5,497.4 1695.5,498.4 1695.5,497.3 1696.5,498.2 1696.5,497.4 1697.5,498.6 1697.5,496.9 1698.5,498.5 1698.5,496.9 1699.5,498.5 1699.5,497.0 1700.5,498.6 1700.5,497.0 1701.4,498.1 1701.4,497.5 1702.4,498.1 1702.4,497.5 1703.4,498.1 1703.4,497.5 1704.4,498.4 1704.4,497.2 1705.3,498.1 1705.3,497.5 1706.3,498.1 1706.3,497.6 1707.3,498.2 1707.3,497.4 1708.3,498.1 1708.3,497.5 1709.2,498.2 1709.2,497.4 1710.2,498.6 1710.2,497.0 1711.2,498.0 1711.2,497.6 1712.2,498.5 1712.2,497.2 1713.2,498.6 1713.2,497.0 1714.1,498.0 1714.1,497.6 1715.1,498.1 1715.1,497.5 1716.1,498.7 1716.1,497.0 1717.1,498.1 1717.1,497.5 1718.0,498.2 1718.0,497.4 1719.0,498.6 1719.0,497.0 1720.0,498.2 1720.0,497.5 1721.0,498.1 1721.0,497.6 1722.0,498.3 1722.0,497.3 1723.0,498.2 1723.0,497.5 1724.1,498.2 1724.1,497.5 1725.1,498.4 1725.1,497.3 1726.1,498.4 1726.1,497.3 1727.1,498.6 1727.1,497.1 1728.1,498.1 1728.1,497.6 1729.2,498.5 1729.2,497.3 1730.2,498.3 1730.2,497.6 1731.2,498.5 1731.2,497.4 1732.2,498.4 1732.2,497.5 1733.2,498.5 1733.2,497.4 1734.2,498.6 1734.2,497.4 1735.2,498.8 1735.2,497.2 1736.3,498.6 1736.3,497.5 1737.3,498.6 1737.3,497.5 1738.3,498.6 1738.3,497.5 1739.3,498.2 1739.3,497.9 1740.3,498.8 1740.3,497.3 1741.4,498.3 1741.4,497.8 1742.4,498.8 1742.4,497.3 1743.4,498.8 1743.4,497.3 1744.4,498.1"/>
</g>
<g stroke="#000000" stroke-width="5" fill="none" stroke-linecap="round" stroke-linejoin="round">
<rect x="231.4" y="111.5" width="1611.7" height="1197.2"/>
<line x1="231.4" y1="1208.9" x2="242.6" y2="1208.9"/>
<line x1="231.4" y1="1109.2" x2="254.6" y2="1109.2"/>
<line x1="231.4" y1="1009.4" x2="242.6" y2="1009.4"/>
<line x1="231.4" y1="909.6" x2="254.6" y2="909.6"/>
<line x1="231.4" y1="809.9" x2="242.6" y2="809.9"/>
<line x1="231.4" y1="710.1" x2="254.6" y2="710.1"/>
<line x1="231.4" y1="610.3" x2="242.6" y2="610.3"/>
<line x1="231.4" y1="510.6" x2="254.6" y2="510.6"/>
<line x1="231.4" y1="410.8" x2="242.6" y2="410.8"/>
<line x1="231.4" y1="311.0" x2="254.6" y2="311.0"/>
<line x1="231.4" y1="211.3" x2="242.6" y2="211.3"/>
<line x1="322.2" y1="1308.7" x2="322.2" y2="1286.1"/>
<line x1="474.3" y1="1308.7" x2="474.3" y2="1297.9"/>
<line x1="626.4" y1="1308.7" x2="626.4" y2="1286.1"/>
<line x1="778.5" y1="1308.7" x2="778.5" y2="1297.9"/>
<line x1="930.6" y1="1308.7" x2="930.6" y2="1286.1"/>
<line x1="1082.6" y1="1308.7" x2="1082.6" y2="1297.9"/>
<line x1="1234.7" y1="1308.7" x2="1234.7" y2="1286.1"/>
<line x1="1386.8" y1="1308.7" x2="1386.8" y2="1297.9"/>
<line x1="1538.9" y1="1308.7" x2="1538.9" y2="1286.1"/>
<line x1="1691.0" y1="1308.7" x2="1691.0" y2="1297.9"/>
</g>
<g class="tick">
<text transform="translate(205.3,1326.6) scale(0.985,1.040)" text-anchor="end">1.2</text>
<text transform="translate(205.3,1127.1) scale(0.985,1.040)" text-anchor="end">1.3</text>
<text transform="translate(205.3,927.5) scale(0.985,1.040)" text-anchor="end">1.4</text>
<text transform="translate(205.3,728.0) scale(0.985,1.040)" text-anchor="end">1.5</text>
<text transform="translate(205.3,528.5) scale(0.985,1.040)" text-anchor="end">1.6</text>
<text transform="translate(205.3,328.9) scale(0.985,1.040)" text-anchor="end">1.7</text>
<text transform="translate(205.3,129.4) scale(0.985,1.040)" text-anchor="end">1.8</text>
<text transform="translate(321.7,1385.2) scale(0.985,1.040)" text-anchor="middle">0</text>
<text transform="translate(625.9,1385.2) scale(0.985,1.040)" text-anchor="middle">50</text>
<text transform="translate(930.1,1385.2) scale(0.985,1.040)" text-anchor="middle">100</text>
<text transform="translate(1234.2,1385.2) scale(0.985,1.040)" text-anchor="middle">150</text>
<text transform="translate(1538.4,1385.2) scale(0.985,1.040)" text-anchor="middle">200</text>
<text transform="translate(1842.6,1385.2) scale(0.985,1.040)" text-anchor="middle">250</text>
</g>
<text class="title" x="1015.6" y="1476.2" text-anchor="middle">Time (min)</text>
<text class="title" transform="translate(72.5,718.3) rotate(-90)" text-anchor="middle">E (V)</text>
<g class="leg">
<line x1="1325" y1="910.9" x2="1485.7" y2="910.9" stroke="#000000" stroke-width="2.2"/>
<rect x="1398.5" y="903.4" width="13" height="15" rx="1.2" fill="#000000"/>
<text transform="translate(1500.7,934.7) scale(1,1.03)"><tspan class="it">x</tspan> = 0</text>
<line x1="1325" y1="997.7" x2="1485.7" y2="997.7" stroke="#ff0000" stroke-width="2.2"/>
<circle cx="1405.0" cy="997.7" r="7.5" fill="#ff0000"/>
<text transform="translate(1500.7,1021.5) scale(1,1.03)"><tspan class="it">x</tspan> = 0.1</text>
<line x1="1325" y1="1085.5" x2="1485.7" y2="1085.5" stroke="#0000ff" stroke-width="2.2"/>
<path d="M1405.0 1076.0 L1413.5 1090.5 L1396.5 1090.5 Z" fill="#0000ff" stroke="#0000ff" stroke-width="1.5" stroke-linejoin="round"/>
<text transform="translate(1500.7,1109.3) scale(1,1.03)"><tspan class="it">x</tspan> = 0.2</text>
<line x1="1325" y1="1173.0" x2="1485.7" y2="1173.0" stroke="#008080" stroke-width="2.2"/>
<path d="M1405.0 1182.5 L1413.5 1168.0 L1396.5 1168.0 Z" fill="#008080" stroke="#008080" stroke-width="1.5" stroke-linejoin="round"/>
<text transform="translate(1500.7,1196.8) scale(1,1.03)"><tspan class="it">x</tspan> = 0.3</text>
</g>
</svg>
</body>
</html>
